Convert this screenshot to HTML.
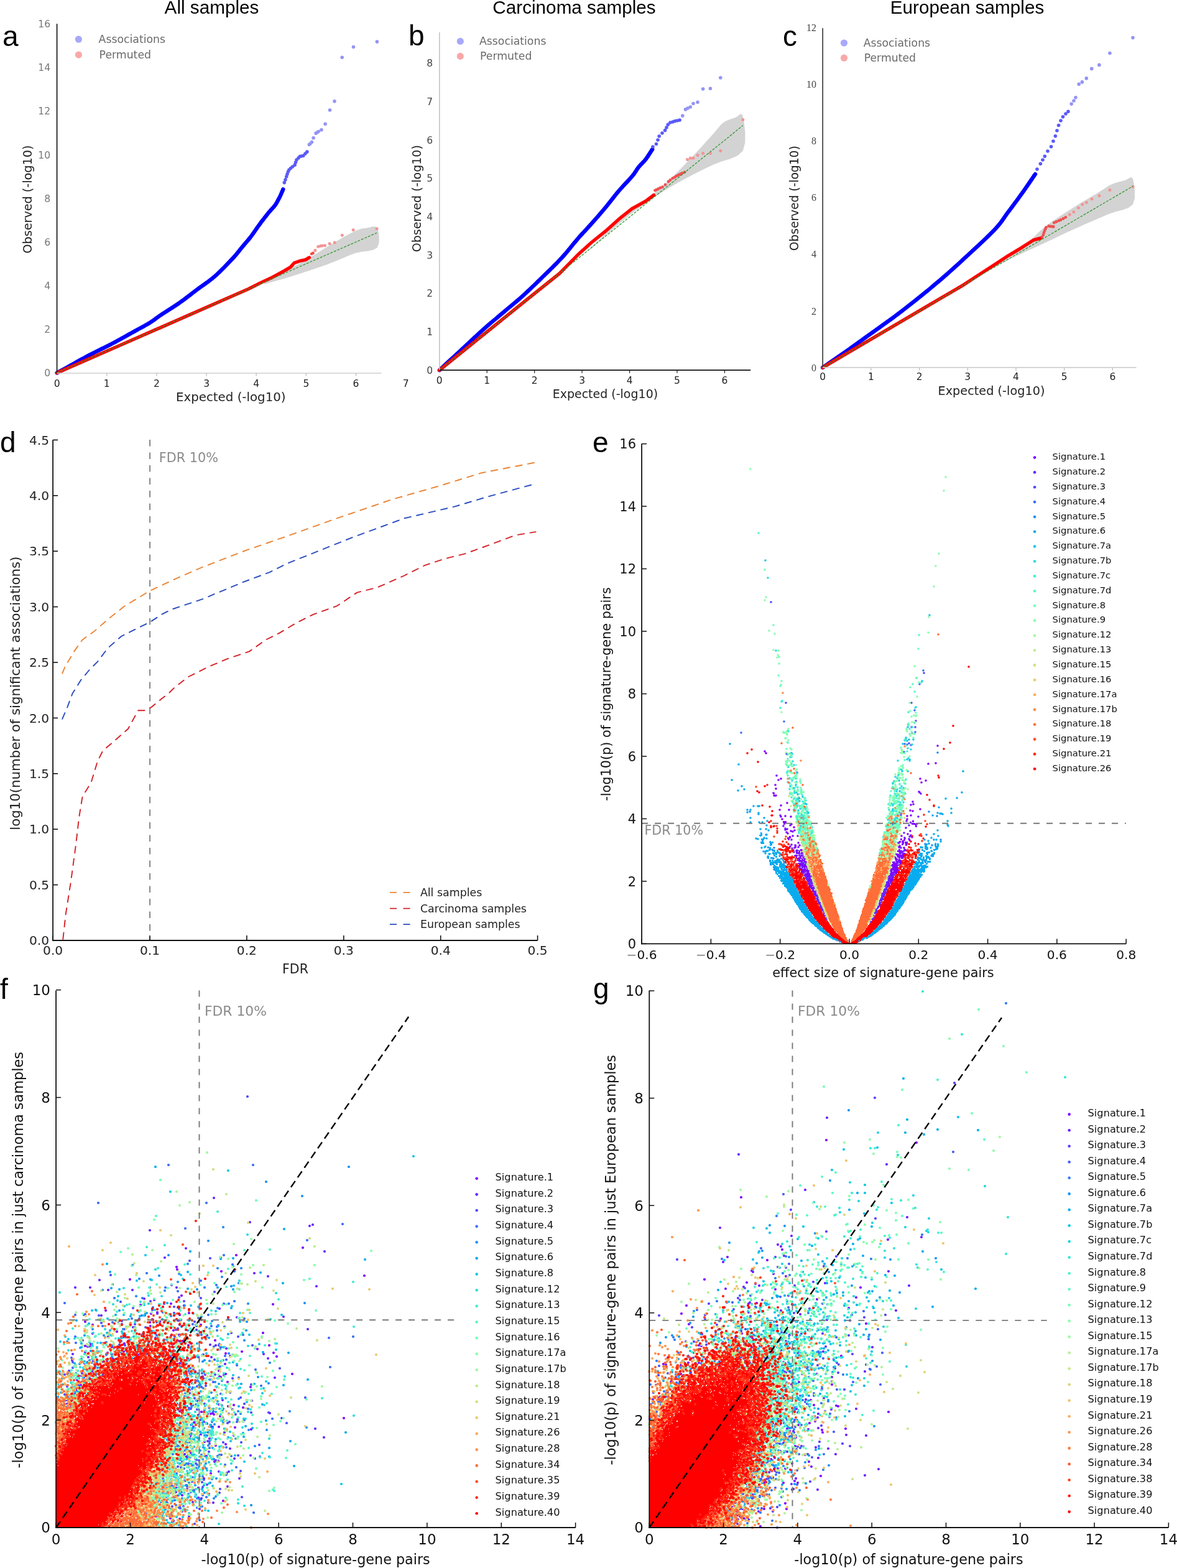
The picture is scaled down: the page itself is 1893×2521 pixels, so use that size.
<!DOCTYPE html><html><head><meta charset="utf-8"><title>Figure</title><style>html,body{margin:0;padding:0;background:#fff;}svg{display:block;}</style></head><body><svg width="1893" height="2521" viewBox="0 0 1893 2521" font-family="DejaVu Sans, sans-serif"><text x="340.5" y="22" font-size="29.7" text-anchor="middle" font-family="Liberation Sans, Arial, sans-serif">All samples</text>
<text x="923.5" y="22" font-size="29.7" text-anchor="middle" font-family="Liberation Sans, Arial, sans-serif">Carcinoma samples</text>
<text x="1555.5" y="22" font-size="29.7" text-anchor="middle" font-family="Liberation Sans, Arial, sans-serif">European samples</text>
<text x="4" y="74" font-size="46" font-family="Liberation Sans, Arial, sans-serif">a</text>
<text x="657" y="73" font-size="46" font-family="Liberation Sans, Arial, sans-serif">b</text>
<text x="1259" y="73.6" font-size="46" font-family="Liberation Sans, Arial, sans-serif">c</text>
<text x="0" y="727" font-size="46" font-family="Liberation Sans, Arial, sans-serif">d</text>
<text x="953" y="726.7" font-size="46" font-family="Liberation Sans, Arial, sans-serif">e</text>
<text x="0" y="1606" font-size="46" font-family="Liberation Sans, Arial, sans-serif">f</text>
<text x="954" y="1605" font-size="46" font-family="Liberation Sans, Arial, sans-serif">g</text>
<path d="M425 455.5 433.3 450.8 445.2 444 458.3 436.6 470 430 479.7 424.5 488.8 419.4 497.4 414.5 506 409.5 514.5 404.3 522.7 399.1 530.8 393.9 539 389 547.6 384 556.5 379 565 374.5 572.2 371 577.8 368.8 582.1 367.6 586 367 590 366.5 594.6 365.4 599.4 364.2 603.6 364.2 606.6 366.5 608.6 372.7 609.8 381.8 609.4 391.2 606.6 398.2 600.5 401.8 591.9 403.5 582 404.7 572.2 406.8 562.6 410.3 552.7 414.4 542.6 418.7 532.5 422.7 522.4 426.4 512.2 430 502.2 433.4 492.7 436.6 484.1 439.5 476 442 468.2 444.5 460 447 450.6 449.8 440.5 452.6 431.3 455.2 425 457Z" fill="#d3d3d3"/>
<path d="M91.6 599.5 92.7 598.9 94.1 598.1 95.7 597.3 97.6 596.2 99.8 595.1 102.2 593.7 105 592.2 108.1 590.5 111.7 588.5 115.7 586.2 120.2 583.8 124.9 581.1 129.8 578.4 134.7 575.7 139.6 573.1 144.2 570.6 148.7 568.3 153.2 566 157.7 563.8 162.2 561.5 166.8 559.3 171.3 557.1 175.8 554.8 180.3 552.5 184.9 550.1 189.6 547.5 194.4 544.9 199.2 542.2 203.9 539.6 208.3 537.1 212.6 534.8 216.5 532.6 220.1 530.6 223.4 528.8 226.4 527.2 229.3 525.6 232.1 524.1 234.7 522.6 237.4 521.1 240 519.5 242.5 517.9 244.8 516.3 247 514.8 249.1 513.3 251.3 511.7 253.6 510 256.1 508.2 258.9 506.3 262 504.2 265.4 502.1 269 499.8 272.7 497.4 276.5 495 280.3 492.5 284.1 490 287.8 487.5 291.4 484.9 295 482.3 298.6 479.6 302.2 476.8 305.9 474.1 309.5 471.3 313.1 468.5 316.7 465.8 320.3 463.1 323.9 460.5 327.5 458 331.1 455.4 334.8 452.8 338.4 450 342 447.2 345.6 444.1 349.3 440.8 353.2 437.1 357.1 433.3 361 429.4 364.7 425.5 368.3 421.8 371.6 418.3 374.5 415.2 377 412.5 379.1 410.1 381 407.9 382.6 405.8 384.1 403.9 385.6 402 387.2 400 388.9 397.9 390.7 395.8 392.5 393.6 394.3 391.5 396.1 389.4 398 387.3 399.8 385.1 401.6 382.9 403.4 380.6 405.2 378.2 407 375.7 408.8 373.1 410.6 370.5 412.4 367.9 414.2 365.3 416 362.8 417.8 360.3 419.6 357.8 421.5 355.3 423.4 352.9 425.3 350.4 427.2 348 429 345.7 430.7 343.6 432.3 341.6 433.8 339.8 435.3 338.1 436.6 336.6 438 335.1 439.2 333.8 440.4 332.5 441.4 331.2 442.4 330 443.2 328.8 444 327.7 444.6 326.7 445.1 325.8 445.6 324.8 446.1 323.9 446.6 323 447.1 322 447.6 321 448.2 320 448.7 319.1 449.2 318.1 449.7 317.1 450.2 316.1 450.7 315.1 451.2 314 451.7 312.8 452.3 311.5 452.9 310.1 453.5 308.7 454.1 307.4 454.6 306.2 455 305.2 455.3 304.4" fill="none" stroke="#0000ff" stroke-width="6.4" stroke-linejoin="round" stroke-linecap="round"/>
<path d="M457.3 293.6h0M459 289h0M460.7 284h0M462 280h0M463.4 276h0M465 273h0M467.5 270.5h0M470.5 268h0M474.2 265.1h0M475.5 261h0M477 257h0M480 254h0M482.4 251.5h0M485 251h0M487.8 250.2h0M491 247h0M493.9 244.1h0" stroke="#5a5af8" stroke-width="5.6" stroke-linecap="round"/>
<path d="M497.3 232.5h0M499 231h0M501.4 228.5h0M504.1 221.7h0M508.1 214.2h0M510 213h0M512.2 211.5h0M517 208.8h0M523.1 199.3h0M530.5 177h0M538 162.7h0M550.2 92.2h0M568.5 75.5h0M606.4 67.1h0" stroke="#9494f6" stroke-width="5.6" stroke-linecap="round"/>
<path d="M91.6 599.5 200 552.1 300 508.3 400 464.4 419.3 454.6 438.5 445.7 457.8 435.1 467.4 429.4 473.2 422.8 481.9 419.7 491.5 417.6 497.3 414" fill="none" stroke="#ff0000" stroke-width="5.4" stroke-linejoin="round" stroke-linecap="round"/>
<path d="M501.2 408.2h0M503.5 407h0" stroke="#f05050" stroke-width="4.8" stroke-linecap="round"/>
<path d="M506.9 402.4h0M511.8 396.6h0M515.6 395.6h0M518 395h0M522.4 394.7h0M530.1 391.8h0M538.2 389.9h0M550.3 378.3h0M568.2 369.7h0M606 367.7h0" stroke="#f49494" stroke-width="5" stroke-linecap="round"/>
<line x1="91.6" y1="599.5" x2="606" y2="374.4" stroke="#2f9a2f" stroke-width="1.3" stroke-dasharray="4 2"/>
<line x1="91.6" y1="38.3" x2="91.6" y2="600.5" stroke="#222" stroke-width="1.8"/>
<line x1="91.6" y1="600" x2="613.4" y2="600" stroke="#cfcfcf" stroke-width="1.6"/>
<line x1="171.8" y1="600" x2="171.8" y2="604.5" stroke="#bbb" stroke-width="1.2"/>
<line x1="251.9" y1="600" x2="251.9" y2="604.5" stroke="#bbb" stroke-width="1.2"/>
<line x1="332.1" y1="600" x2="332.1" y2="604.5" stroke="#bbb" stroke-width="1.2"/>
<line x1="412.2" y1="600" x2="412.2" y2="604.5" stroke="#bbb" stroke-width="1.2"/>
<line x1="492.4" y1="600" x2="492.4" y2="604.5" stroke="#bbb" stroke-width="1.2"/>
<line x1="572.5" y1="600" x2="572.5" y2="604.5" stroke="#bbb" stroke-width="1.2"/>
<text x="91.6" y="621.5" font-size="15.5" fill="#222" text-anchor="middle">0</text>
<text x="171.8" y="621.5" font-size="15.5" fill="#222" text-anchor="middle">1</text>
<text x="251.9" y="621.5" font-size="15.5" fill="#222" text-anchor="middle">2</text>
<text x="332.1" y="621.5" font-size="15.5" fill="#222" text-anchor="middle">3</text>
<text x="412.2" y="621.5" font-size="15.5" fill="#222" text-anchor="middle">4</text>
<text x="492.4" y="621.5" font-size="15.5" fill="#222" text-anchor="middle">5</text>
<text x="572.5" y="621.5" font-size="15.5" fill="#222" text-anchor="middle">6</text>
<text x="652.7" y="621.5" font-size="15.5" fill="#222" text-anchor="middle">7</text>
<text x="81" y="605.1" font-size="15.5" fill="#777" text-anchor="end">0</text>
<text x="81" y="535" font-size="15.5" fill="#777" text-anchor="end">2</text>
<text x="81" y="464.8" font-size="15.5" fill="#777" text-anchor="end">4</text>
<text x="81" y="394.7" font-size="15.5" fill="#777" text-anchor="end">6</text>
<text x="81" y="324.6" font-size="15.5" fill="#777" text-anchor="end">8</text>
<text x="81" y="254.5" font-size="15.5" fill="#777" text-anchor="end">10</text>
<text x="81" y="184.4" font-size="15.5" fill="#777" text-anchor="end">12</text>
<text x="81" y="114.2" font-size="15.5" fill="#777" text-anchor="end">14</text>
<text x="81" y="44.1" font-size="15.5" fill="#777" text-anchor="end">16</text>
<text x="371.3" y="645" font-size="19.5" fill="#222" text-anchor="middle" textLength="176.6" lengthAdjust="spacingAndGlyphs">Expected (-log10)</text>
<text x="51" y="320.6" font-size="19.5" fill="#222" text-anchor="middle" transform="rotate(-90 51 320.6)" textLength="174" lengthAdjust="spacingAndGlyphs">Observed (-log10)</text>
<circle cx="126.4" cy="63.2" r="5.6" fill="#a8a8fa"/>
<circle cx="126.4" cy="88.1" r="5.6" fill="#f8a8a8"/>
<text x="158.6" y="68.8" font-size="17.3" fill="#6a6a6a">Associations</text>
<text x="159.6" y="93.7" font-size="17.3" fill="#6a6a6a">Permuted</text>
<path d="M945 403 954.5 394 968.1 381 983.9 366.3 1000 352 1016.9 338.1 1035.3 323.6 1053.5 309.2 1069.6 295.7 1083.3 283 1095.4 270.8 1106.4 259.3 1116.5 248.7 1125.8 238.8 1134.2 229.6 1141.5 221.4 1147.9 214.3 1152.8 208.6 1156.5 204 1159.7 200.3 1163.5 197.1 1168.1 194.3 1173.1 192.2 1178 190.6 1182.3 189.2 1186.2 186.9 1189.7 184.1 1192.7 183.3 1194.8 186.9 1196.8 197.5 1198.5 213.2 1198.4 229.6 1194.8 242.5 1186.4 250.3 1174.3 255.5 1160.7 259.6 1147.9 264.4 1136.2 270.1 1124.4 275.8 1112.7 281.7 1100.9 287.9 1089.1 294.5 1077.4 301.3 1065.6 308.4 1053.9 316 1042.5 323.7 1031.4 331.7 1019.8 340.4 1007 350.5 991.1 363.8 973.1 379.4 956.5 393.9 945 404Z" fill="#d3d3d3"/>
<path d="M706.8 595.2 707.3 594.7 707.9 594.2 708.5 593.5 709.3 592.8 710.3 591.8 711.7 590.5 713.5 588.8 715.7 586.7 718.5 584.1 722 580.9 725.8 577.4 730 573.5 734.3 569.5 738.7 565.5 742.9 561.6 747 557.8 750.9 554.2 754.8 550.5 758.7 546.8 762.6 543.2 766.6 539.5 770.5 535.9 774.4 532.3 778.3 528.8 782.2 525.4 786.1 522 790 518.6 793.9 515.4 797.9 512.1 801.8 508.8 805.7 505.5 809.6 502.2 813.5 498.9 817.4 495.6 821.3 492.4 825.2 489.1 829.2 485.8 833.1 482.5 837 479.1 840.9 475.6 844.8 472 848.7 468.4 852.6 464.7 856.5 461 860.5 457.2 864.4 453.4 868.3 449.6 872.2 445.8 876.1 442 880.1 438.1 884.1 434.2 888.2 430.3 892.1 426.3 896 422.4 899.8 418.4 903.5 414.5 907.1 410.5 910.6 406.5 914 402.4 917.4 398.3 920.6 394.3 923.8 390.3 927 386.6 930 383 932.9 379.7 935.8 376.5 938.5 373.6 941.2 370.7 943.8 367.9 946.4 365 949 362.2 951.7 359.2 954.4 356.2 957.1 353.1 959.8 350 962.5 347 965.2 343.8 967.9 340.7 970.6 337.5 973.3 334.3 976 331 978.7 327.6 981.4 324.2 984.1 320.7 986.9 317.2 989.6 313.8 992.3 310.4 995 307.2 997.8 304 1000.7 300.8 1003.6 297.6 1006.5 294.5 1009.4 291.5 1012 288.6 1014.5 285.8 1016.7 283.3 1018.6 281 1020.2 278.8 1021.5 276.9 1022.8 275 1023.9 273.2 1025 271.5 1026.2 269.9 1027.5 268.2 1028.9 266.6 1030.2 265.1 1031.6 263.7 1033 262.3 1034.3 260.9 1035.7 259.5 1037 258 1038.4 256.3 1039.8 254.4 1041.4 252.2 1042.9 249.8 1044.5 247.4 1045.9 245.1 1047.3 243 1048.4 241.3 1049.2 240" fill="none" stroke="#0000ff" stroke-width="6.4" stroke-linejoin="round" stroke-linecap="round"/>
<path d="M1050 236h0M1055.5 231.5h0M1058 225h0M1060.2 219h0M1065 214h0M1069.6 209.6h0M1072 205h0M1074.3 200.2h0M1078 197h0M1082 196h0M1085.2 194.7h0M1089 194h0M1093.1 193.1h0" stroke="#5a5af8" stroke-width="5.6" stroke-linecap="round"/>
<path d="M1097.8 186.1h0M1102.5 175.9h0M1106 174h0M1110.3 172h0M1115 166.5h0M1122 164.2h0M1130.6 143h0M1142.4 142.3h0M1158.8 125h0" stroke="#9494f6" stroke-width="5.6" stroke-linecap="round"/>
<path d="M706.8 595.2 780 536.1 850 479.6 900 439.6 930 409.1 951.7 389.5 973.3 372.2 995 352.7 1016.7 335.4 1038.4 323.4 1051.4 313.7" fill="none" stroke="#ff0000" stroke-width="5.4" stroke-linejoin="round" stroke-linecap="round"/>
<path d="M1053.5 306.1h0M1056 305h0M1059 303.5h0M1062 302h0M1065.5 300.7h0M1070 297h0M1075 292h0M1078 289.5h0M1081.7 286.6h0M1085 285h0M1088 283h0M1091 281.5h0M1094 280h0M1097 278.5h0M1101.2 276.8h0" stroke="#f05050" stroke-width="4.8" stroke-linecap="round"/>
<path d="M1105.6 256.5h0M1110.3 254.2h0M1115 254.2h0M1122 249.5h0M1130.6 246.4h0M1142.4 246.4h0M1158.8 242.5h0M1194.8 192.4h0" stroke="#f49494" stroke-width="5" stroke-linecap="round"/>
<line x1="706.8" y1="595.2" x2="1194.8" y2="201.8" stroke="#2f9a2f" stroke-width="1.3" stroke-dasharray="4 2"/>
<line x1="706.8" y1="51.9" x2="706.8" y2="595.2" stroke="#c4c4c4" stroke-width="1.6"/>
<line x1="706.8" y1="595.2" x2="1207.2" y2="595.2" stroke="#111" stroke-width="1.8"/>
<line x1="783.2" y1="595.2" x2="783.2" y2="599.7" stroke="#111" stroke-width="1.2"/>
<line x1="859.7" y1="595.2" x2="859.7" y2="599.7" stroke="#111" stroke-width="1.2"/>
<line x1="936.1" y1="595.2" x2="936.1" y2="599.7" stroke="#111" stroke-width="1.2"/>
<line x1="1012.6" y1="595.2" x2="1012.6" y2="599.7" stroke="#111" stroke-width="1.2"/>
<line x1="1089" y1="595.2" x2="1089" y2="599.7" stroke="#111" stroke-width="1.2"/>
<line x1="1165.5" y1="595.2" x2="1165.5" y2="599.7" stroke="#111" stroke-width="1.2"/>
<text x="706.8" y="616.6" font-size="15.5" fill="#222" text-anchor="middle">0</text>
<text x="783.2" y="616.6" font-size="15.5" fill="#222" text-anchor="middle">1</text>
<text x="859.7" y="616.6" font-size="15.5" fill="#222" text-anchor="middle">2</text>
<text x="936.1" y="616.6" font-size="15.5" fill="#222" text-anchor="middle">3</text>
<text x="1012.6" y="616.6" font-size="15.5" fill="#222" text-anchor="middle">4</text>
<text x="1089" y="616.6" font-size="15.5" fill="#222" text-anchor="middle">5</text>
<text x="1165.5" y="616.6" font-size="15.5" fill="#222" text-anchor="middle">6</text>
<text x="696" y="600.8" font-size="15.5" fill="#444" text-anchor="end">0</text>
<text x="696" y="539.1" font-size="15.5" fill="#444" text-anchor="end">1</text>
<text x="696" y="477.4" font-size="15.5" fill="#444" text-anchor="end">2</text>
<text x="696" y="415.7" font-size="15.5" fill="#444" text-anchor="end">3</text>
<text x="696" y="354" font-size="15.5" fill="#444" text-anchor="end">4</text>
<text x="696" y="292.3" font-size="15.5" fill="#444" text-anchor="end">5</text>
<text x="696" y="230.6" font-size="15.5" fill="#444" text-anchor="end">6</text>
<text x="696" y="168.9" font-size="15.5" fill="#444" text-anchor="end">7</text>
<text x="696" y="107.2" font-size="15.5" fill="#444" text-anchor="end">8</text>
<text x="973.4" y="639.7" font-size="19.5" fill="#222" text-anchor="middle" textLength="169.5" lengthAdjust="spacingAndGlyphs">Expected (-log10)</text>
<text x="677" y="319.2" font-size="19.5" fill="#222" text-anchor="middle" transform="rotate(-90 677 319.2)" textLength="172" lengthAdjust="spacingAndGlyphs">Observed (-log10)</text>
<circle cx="740.3" cy="66.4" r="5.6" fill="#a8a8fa"/>
<circle cx="740.3" cy="90.4" r="5.6" fill="#f8a8a8"/>
<text x="771" y="72" font-size="17.3" fill="#6a6a6a">Associations</text>
<text x="772" y="96" font-size="17.3" fill="#6a6a6a">Permuted</text>
<path d="M1595 431 1603.2 426.2 1615 419.4 1628 411.4 1640 403 1650.1 394.1 1659.7 384.2 1669.5 374.2 1680.3 364.7 1692.8 355.5 1706.4 346.4 1719.9 337.8 1731.8 330.3 1741.9 324 1750.9 318.7 1759 314 1766.2 309.7 1772.3 305.8 1777.3 302.4 1781.9 299.4 1786.8 296.8 1792.5 294.6 1798.4 292.8 1804.1 291.3 1809.1 290 1813.3 288 1816.9 285.7 1819.9 284.9 1822 287.4 1823.8 295.2 1825.2 306.9 1825 319.1 1822 328.6 1815.3 334.1 1805.9 337.5 1794.8 340.3 1783.3 344.1 1771.3 349.2 1758.3 354.7 1745 360.5 1731.8 366.4 1718.9 372.3 1706.1 378.3 1693.2 384.4 1680.3 390.5 1667 396.7 1653.4 402.9 1640.3 409 1628.7 414.5 1618.2 419.7 1608.6 424.8 1600.6 429 1595 432Z" fill="#d3d3d3"/>
<path d="M1323.2 590.9 1326.2 588.8 1330.2 586.1 1334.9 582.8 1340.2 579.2 1345.7 575.3 1351.4 571.4 1356.9 567.6 1362 564 1366.9 560.6 1371.7 557.1 1376.6 553.7 1381.5 550.2 1386.4 546.7 1391.2 543.2 1396.1 539.7 1401 536.2 1405.9 532.7 1410.8 529.2 1415.7 525.7 1420.5 522.2 1425.4 518.7 1430.3 515.2 1435.2 511.6 1440 508 1444.8 504.4 1449.6 500.7 1454.4 497 1459.2 493.3 1464 489.5 1468.8 485.8 1473.6 482 1478.4 478.1 1483.2 474.2 1488 470.3 1492.9 466.4 1497.7 462.4 1502.5 458.3 1507.3 454.3 1512.2 450.2 1517 446 1521.8 441.8 1526.6 437.6 1531.3 433.4 1536 429.1 1540.8 424.8 1545.7 420.3 1550.7 415.7 1555.8 411 1561.2 406 1567 400.6 1573 395.1 1579 389.5 1584.8 384 1590.4 378.6 1595.5 373.5 1600 368.9 1603.8 364.7 1607 360.9 1609.8 357.4 1612.3 354 1614.6 350.7 1616.8 347.5 1619.1 344.2 1621.7 340.7 1624.4 337.1 1627.1 333.5 1629.8 329.9 1632.5 326.2 1635.2 322.6 1637.9 318.9 1640.6 315.2 1643.3 311.4 1646.2 307.4 1649.2 303 1652.4 298.4 1655.5 293.9 1658.4 289.6 1661.1 285.7 1663.3 282.4 1665 280" fill="none" stroke="#0000ff" stroke-width="6.4" stroke-linejoin="round" stroke-linecap="round"/>
<path d="M1668 272h0M1673.4 263.3h0M1677 257h0M1680.3 251.3h0M1685 243h0M1690.6 235.8h0M1694 227h0M1697.4 218.7h0M1700 210h0M1702.6 201.5h0M1706 194h0M1709.5 187.7h0M1714 183h0M1718 179.2h0" stroke="#5a5af8" stroke-width="5.6" stroke-linecap="round"/>
<path d="M1723.2 167.1h0M1727 162h0M1730 156.8h0M1735.2 135.3h0M1740.4 131.9h0M1747.3 125.9h0M1755.8 110.4h0M1767.9 104.4h0M1785 85.5h0M1822 60.6h0" stroke="#9494f6" stroke-width="5.6" stroke-linecap="round"/>
<path d="M1323.2 590.9 1400 545.8 1480 498.9 1550 457.8 1600 425.2 1621.7 411.1 1643.3 398.1 1661.8 386.2 1673.7 382.9" fill="none" stroke="#ff0000" stroke-width="5.4" stroke-linejoin="round" stroke-linecap="round"/>
<path d="M1676 381h0M1678 377.5h0M1679 374h0M1680.2 371h0M1681.5 368h0M1682.4 365.6h0M1686.7 363.4h0M1689 364h0M1692 364.2h0M1694.3 364.5h0M1695.4 358h0M1699 356.5h0M1702.9 354.8h0M1706 353.5h0M1710 351.5h0M1713.8 349.4h0" stroke="#f05050" stroke-width="4.8" stroke-linecap="round"/>
<path d="M1720.3 345h0M1726.8 340.7h0M1734.4 334.2h0M1740.9 328.8h0M1747.4 325.5h0M1756 320.1h0M1768 314.7h0M1785 305.4h0M1822 300.3h0" stroke="#f49494" stroke-width="5" stroke-linecap="round"/>
<line x1="1323.2" y1="590.9" x2="1822" y2="299.4" stroke="#2f9a2f" stroke-width="1.3" stroke-dasharray="4 2"/>
<line x1="1323.2" y1="45.2" x2="1323.2" y2="591" stroke="#3a3a3a" stroke-width="1.7"/>
<line x1="1323.2" y1="590.9" x2="1827.6" y2="590.9" stroke="#cfcfcf" stroke-width="1.6"/>
<line x1="1400.9" y1="590.9" x2="1400.9" y2="595.4" stroke="#bbb" stroke-width="1.2"/>
<line x1="1478.6" y1="590.9" x2="1478.6" y2="595.4" stroke="#bbb" stroke-width="1.2"/>
<line x1="1556.3" y1="590.9" x2="1556.3" y2="595.4" stroke="#bbb" stroke-width="1.2"/>
<line x1="1634" y1="590.9" x2="1634" y2="595.4" stroke="#bbb" stroke-width="1.2"/>
<line x1="1711.7" y1="590.9" x2="1711.7" y2="595.4" stroke="#bbb" stroke-width="1.2"/>
<line x1="1789.4" y1="590.9" x2="1789.4" y2="595.4" stroke="#bbb" stroke-width="1.2"/>
<text x="1323.2" y="611.4" font-size="15.5" fill="#222" text-anchor="middle">0</text>
<text x="1400.9" y="611.4" font-size="15.5" fill="#222" text-anchor="middle">1</text>
<text x="1478.6" y="611.4" font-size="15.5" fill="#222" text-anchor="middle">2</text>
<text x="1556.3" y="611.4" font-size="15.5" fill="#222" text-anchor="middle">3</text>
<text x="1634" y="611.4" font-size="15.5" fill="#222" text-anchor="middle">4</text>
<text x="1711.7" y="611.4" font-size="15.5" fill="#222" text-anchor="middle">5</text>
<text x="1789.4" y="611.4" font-size="15.5" fill="#222" text-anchor="middle">6</text>
<text x="1313" y="596.7" font-size="16" fill="#444" text-anchor="end" font-family="Liberation Serif, serif">0</text>
<text x="1313" y="505.5" font-size="16" fill="#444" text-anchor="end" font-family="Liberation Serif, serif">2</text>
<text x="1313" y="414.3" font-size="16" fill="#444" text-anchor="end" font-family="Liberation Serif, serif">4</text>
<text x="1313" y="323.1" font-size="16" fill="#444" text-anchor="end" font-family="Liberation Serif, serif">6</text>
<text x="1313" y="231.9" font-size="16" fill="#444" text-anchor="end" font-family="Liberation Serif, serif">8</text>
<text x="1313" y="140.7" font-size="16" fill="#444" text-anchor="end" font-family="Liberation Serif, serif">10</text>
<text x="1313" y="49.5" font-size="16" fill="#444" text-anchor="end" font-family="Liberation Serif, serif">12</text>
<text x="1594.5" y="634.9" font-size="19.5" fill="#222" text-anchor="middle" textLength="172" lengthAdjust="spacingAndGlyphs">Expected (-log10)</text>
<text x="1284.5" y="318.8" font-size="19.5" fill="#222" text-anchor="middle" transform="rotate(-90 1284.5 318.8)" textLength="169" lengthAdjust="spacingAndGlyphs">Observed (-log10)</text>
<circle cx="1357.5" cy="69" r="5.6" fill="#a8a8fa"/>
<circle cx="1357.5" cy="93.2" r="5.6" fill="#f8a8a8"/>
<text x="1388.7" y="74.6" font-size="17.3" fill="#6a6a6a">Associations</text>
<text x="1389.7" y="98.8" font-size="17.3" fill="#6a6a6a">Permuted</text>
<line x1="241.1" y1="707" x2="241.1" y2="1512" stroke="#7a7a7a" stroke-width="1.8" stroke-dasharray="10.5 10"/>
<text x="255.7" y="742.7" font-size="20.8" fill="#8a8a8a">FDR 10%</text>
<path d="M100.2 1082.6 105 1071 111.1 1061 119.2 1047.4 132.7 1028.4 151.7 1014.9 173.4 995.9 200.5 974.3 241.1 949.9 281.8 930.9 325.1 912 395.5 884.9 466 860.5 541.8 833.4 628.5 803.6 704.4 781.9 774.8 760.2 858.8 744" fill="none" stroke="#ea8434" stroke-width="1.9" stroke-linejoin="round" stroke-linecap="round" stroke-dasharray="10.5 9.5"/>
<path d="M101.3 1510 105.7 1470 113.8 1418.6 121.9 1359 127.3 1313 132.7 1280.4 146.3 1258.7 157.1 1223.5 165.3 1207.2 184.2 1191 205.9 1172 222.2 1142.2 233 1142.2 243.8 1136.8 260.1 1123.3 270.9 1115.1 281.8 1104.3 303.4 1088 335.9 1071.8 368.4 1058.2 401 1047.4 428 1028.4 449.7 1017.6 476.8 1001.4 503.9 987.8 541.8 974.3 574.3 952.6 606.9 944.5 650.2 925.5 682.7 909.2 715.2 898.4 747.7 890.3 785.6 876.7 829 860.5 861.5 855.1" fill="none" stroke="#d42228" stroke-width="1.9" stroke-linejoin="round" stroke-linecap="round" stroke-dasharray="10.5 9.5"/>
<path d="M100.2 1155.8 108.4 1136.8 116.5 1115.1 130 1093.5 143.6 1077.2 157.1 1063.7 173.4 1042 195.1 1023 222.2 1009.5 241.1 1000.3 260.1 987.8 276.3 979.7 325.1 963.4 390.1 936.3 433.5 920.1 460.6 906.5 487.6 895.7 568.9 863.2 650.2 833.4 731.5 814.4 785.6 798.2 856.1 779.2" fill="none" stroke="#2a4cc0" stroke-width="1.9" stroke-linejoin="round" stroke-linecap="round" stroke-dasharray="10.5 9.5"/>
<line x1="85.1" y1="707.2" x2="85.1" y2="1512.9" stroke="#111" stroke-width="1.8"/>
<line x1="84.2" y1="1512" x2="864.6" y2="1512" stroke="#111" stroke-width="1.8"/>
<line x1="85.1" y1="1512" x2="93.1" y2="1512" stroke="#111" stroke-width="1.6"/>
<text x="79" y="1519.2" font-size="20.2" fill="#222" text-anchor="end">0.0</text>
<line x1="85.1" y1="1422.6" x2="93.1" y2="1422.6" stroke="#111" stroke-width="1.6"/>
<text x="79" y="1429.8" font-size="20.2" fill="#222" text-anchor="end">0.5</text>
<line x1="85.1" y1="1333.2" x2="93.1" y2="1333.2" stroke="#111" stroke-width="1.6"/>
<text x="79" y="1340.4" font-size="20.2" fill="#222" text-anchor="end">1.0</text>
<line x1="85.1" y1="1243.8" x2="93.1" y2="1243.8" stroke="#111" stroke-width="1.6"/>
<text x="79" y="1251" font-size="20.2" fill="#222" text-anchor="end">1.5</text>
<line x1="85.1" y1="1154.4" x2="93.1" y2="1154.4" stroke="#111" stroke-width="1.6"/>
<text x="79" y="1161.6" font-size="20.2" fill="#222" text-anchor="end">2.0</text>
<line x1="85.1" y1="1065" x2="93.1" y2="1065" stroke="#111" stroke-width="1.6"/>
<text x="79" y="1072.2" font-size="20.2" fill="#222" text-anchor="end">2.5</text>
<line x1="85.1" y1="975.6" x2="93.1" y2="975.6" stroke="#111" stroke-width="1.6"/>
<text x="79" y="982.8" font-size="20.2" fill="#222" text-anchor="end">3.0</text>
<line x1="85.1" y1="886.2" x2="93.1" y2="886.2" stroke="#111" stroke-width="1.6"/>
<text x="79" y="893.4" font-size="20.2" fill="#222" text-anchor="end">3.5</text>
<line x1="85.1" y1="796.8" x2="93.1" y2="796.8" stroke="#111" stroke-width="1.6"/>
<text x="79" y="804" font-size="20.2" fill="#222" text-anchor="end">4.0</text>
<line x1="85.1" y1="707.4" x2="93.1" y2="707.4" stroke="#111" stroke-width="1.6"/>
<text x="79" y="714.6" font-size="20.2" fill="#222" text-anchor="end">4.5</text>
<line x1="85.1" y1="1512" x2="85.1" y2="1504" stroke="#111" stroke-width="1.6"/>
<text x="85.1" y="1534.8" font-size="20.2" fill="#222" text-anchor="middle">0.0</text>
<line x1="241" y1="1512" x2="241" y2="1504" stroke="#111" stroke-width="1.6"/>
<text x="241" y="1534.8" font-size="20.2" fill="#222" text-anchor="middle">0.1</text>
<line x1="396.9" y1="1512" x2="396.9" y2="1504" stroke="#111" stroke-width="1.6"/>
<text x="396.9" y="1534.8" font-size="20.2" fill="#222" text-anchor="middle">0.2</text>
<line x1="552.8" y1="1512" x2="552.8" y2="1504" stroke="#111" stroke-width="1.6"/>
<text x="552.8" y="1534.8" font-size="20.2" fill="#222" text-anchor="middle">0.3</text>
<line x1="708.7" y1="1512" x2="708.7" y2="1504" stroke="#111" stroke-width="1.6"/>
<text x="708.7" y="1534.8" font-size="20.2" fill="#222" text-anchor="middle">0.4</text>
<line x1="864.6" y1="1512" x2="864.6" y2="1504" stroke="#111" stroke-width="1.6"/>
<text x="864.6" y="1534.8" font-size="20.2" fill="#222" text-anchor="middle">0.5</text>
<text x="475" y="1564.5" font-size="20.5" fill="#222" text-anchor="middle">FDR</text>
<text x="32" y="1114.7" font-size="21" fill="#222" text-anchor="middle" transform="rotate(-90 32 1114.7)" textLength="440" lengthAdjust="spacingAndGlyphs">log10(number of significant associations)</text>
<line x1="627" y1="1434.9" x2="660" y2="1434.9" stroke="#ea8434" stroke-width="1.9" stroke-dasharray="11 10.5"/>
<text x="675.9" y="1441.2" font-size="17.4" fill="#222">All samples</text>
<line x1="627" y1="1460.6" x2="660" y2="1460.6" stroke="#d42228" stroke-width="1.9" stroke-dasharray="11 10.5"/>
<text x="675.9" y="1466.9" font-size="17.4" fill="#222">Carcinoma samples</text>
<line x1="627" y1="1486.1" x2="660" y2="1486.1" stroke="#2a4cc0" stroke-width="1.9" stroke-dasharray="11 10.5"/>
<text x="675.9" y="1492.4" font-size="17.4" fill="#222">European samples</text>
<path d="M1245 1275.5h1M1244 1276.5h2M1244 1278.5h5M1245 1279.5h3M1246 1280.5h1M1467 1319.5h3M1259 1320.5h6m202 0h3M1259 1321.5h6m198 0h3m1 0h3M1259 1322.5h6m198 0h3M1260 1323.5h3m200 0h9m1 0h3M1260 1324.5h3m203 0h10M1260 1325.5h3m203 0h10M1471 1326.5h3M1472 1327.5h3M1472 1328.5h3M1472 1329.5h3M1269 1344.5h3M1269 1345.5h3M1266 1346.5h6m182 0h1M1266 1347.5h6m182 0h2M1266 1348.5h4m178 0h3m3 0h3M1267 1349.5h3m2 0h2m174 0h3m2 0h3M1267 1350.5h3m2 0h1m175 0h3m2 0h3M1451 1351.5h5M1446 1352.5h3m1 0h4M1446 1353.5h3m1 0h4m1 0h5M1446 1354.5h3m1 0h4m1 0h5M1446 1355.5h1m4 0h3m1 0h5M1446 1356.5h1m3 0h4m2 0h4M1450 1357.5h3m3 0h4M1280 1358.5h1m169 0h3m3 0h3M1279 1359.5h2m167 0h1m7 0h3M1278 1360.5h3M1278 1361.5h3m2 0h2M1278 1362.5h3m2 0h1m162 0h2M1279 1363.5h1m165 0h3M1287 1365.5h3m155 0h3M1287 1366.5h4m154 0h3m6 0h1M1285 1367.5h5m153 0h8M1285 1368.5h2m1 0h2m153 0h10m3 0h1M1280 1369.5h2m3 0h2m156 0h10M1280 1370.5h7m1 0h4m154 0h7M1280 1371.5h7m1 0h4m159 0h5M1280 1372.5h5m3 0h4m148 0h4m7 0h6M1288 1373.5h1m151 0h6m5 0h4M1278 1374.5h5m1 0h1m3 0h2m151 0h13M1277 1375.5h6m1 0h6m152 0h12M1277 1376.5h6m1 0h6m3 0h1m148 0h12M1280 1377.5h2m4 0h3m1 0h4m144 0h3m2 0h12M1280 1378.5h2m2 0h5m1 0h4m145 0h3m1 0h3m3 0h6M1280 1379.5h9m3 0h2m145 0h3m3 0h1m3 0h4M1282 1380.5h14m143 0h5m1 0h1m3 0h4M1282 1381.5h5m2 0h3m1 0h3m143 0h5m1 0h3M1282 1382.5h6m1 0h6m145 0h9M1281 1383.5h14m145 0h3m1 0h7M1283 1384.5h12m145 0h10M1285 1385.5h6m2 0h2m140 0h5m1 0h9M1288 1386.5h1m146 0h5m1 0h2m3 0h4M1283 1387.5h6m6 0h1m139 0h8m3 0h4M1283 1388.5h6m6 0h2m139 0h7m4 0h3M1285 1389.5h6m3 0h3m137 0h9m3 0h4M1285 1390.5h6m3 0h3m137 0h12M1285 1391.5h12m135 0h14M1285 1392.5h1m3 0h9m135 0h11M1284 1393.5h2m3 0h9m137 0h9m2 0h1M1284 1394.5h2m7 0h6m136 0h10m1 0h1M1285 1395.5h5m3 0h2m2 0h2m136 0h10M1285 1396.5h5m3 0h6m134 0h12M1288 1397.5h9m1 0h2m132 0h13M1288 1398.5h12m132 0h15M1288 1399.5h14m130 0h15M1288 1400.5h14m129 0h4m2 0h7M1288 1401.5h6m3 0h5m130 0h11M1288 1402.5h6m3 0h5m130 0h11M1297 1403.5h5m130 0h11M1294 1404.5h10m127 0h5m3 0h4M1294 1405.5h9m128 0h5M1292 1406.5h11m130 0h3M1293 1407.5h1m3 0h6m130 0h2M1293 1408.5h1m3 0h6m130 0h2M1298 1409.5h5M1298 1410.5h1m3 0h1m126 0h3m3 0h3M1298 1411.5h1m3 0h2m126 0h2m3 0h3M1302 1412.5h2m126 0h7M1299 1413.5h7m124 0h7M1299 1414.5h7m125 0h6M1297 1415.5h7m127 0h6M1298 1416.5h5m128 0h5M1302 1417.5h1m131 0h2" stroke="#8000ff" stroke-width="1" shape-rendering="crispEdges"/>
<path d="M1291 1386.5h1M1290 1387.5h3M1289 1388.5h5M1291 1389.5h3M1291 1390.5h3M1436 1404.5h2M1436 1405.5h3M1431 1406.5h2m3 0h4M1296 1407.5h1m133 0h3m2 0h5M1295 1408.5h2m133 0h3m2 0h3M1294 1409.5h4m132 0h8M1295 1410.5h3m1 0h3m130 0h3M1295 1411.5h3m1 0h3m127 0h1m2 0h3M1295 1412.5h7m126 0h2M1296 1413.5h3m129 0h2M1296 1414.5h3m128 0h4M1304 1415.5h2m122 0h3M1303 1416.5h4m120 0h4M1299 1417.5h3m1 0h4m118 0h9M1300 1418.5h7m118 0h5m1 0h3M1300 1419.5h8m117 0h4m2 0h3M1301 1420.5h7m117 0h4m3 0h1M1301 1421.5h5m1 0h1m116 0h6m2 0h1M1301 1422.5h4m119 0h6M1301 1423.5h3m120 0h8M1301 1424.5h6m1 0h1m115 0h4m1 0h2M1304 1425.5h3m1 0h2m119 0h1M1303 1426.5h7m114 0h3M1303 1427.5h3m1 0h4m113 0h3M1304 1428.5h2m1 0h4m111 0h5M1304 1429.5h7m110 0h7M1306 1430.5h3m112 0h6M1306 1431.5h3m112 0h6M1309 1432.5h3m108 0h5M1307 1433.5h5m108 0h6M1307 1434.5h5m108 0h6M1308 1435.5h4m107 0h7M1309 1436.5h3m106 0h7M1309 1437.5h3m2 0h1m104 0h6M1309 1438.5h6m104 0h5M1311 1439.5h5m101 0h7M1311 1440.5h5m101 0h6M1311 1441.5h5m101 0h5M1312 1442.5h1m1 0h3m100 0h5M1312 1443.5h5m99 0h5M1312 1444.5h5m99 0h5M1313 1445.5h4m98 0h6M1313 1446.5h5m97 0h6M1313 1447.5h5m96 0h6M1314 1448.5h4m96 0h5M1314 1449.5h4m96 0h2m1 0h2M1315 1450.5h5m94 0h4M1316 1451.5h4m93 0h5M1316 1452.5h4m93 0h4M1316 1453.5h4m93 0h4M1318 1454.5h3m92 0h3M1318 1455.5h3m92 0h3M1318 1456.5h4m89 0h5M1318 1457.5h4m89 0h5M1319 1458.5h4m88 0h3M1319 1459.5h4m87 0h4M1320 1460.5h3m87 0h3M1320 1461.5h4m87 0h1M1321 1462.5h3M1321 1463.5h3M1322 1464.5h1" stroke="#6826fe" stroke-width="1" shape-rendering="crispEdges"/>
<path d="M1223 1338.5h2M1223 1339.5h3M1223 1340.5h3M1223 1341.5h3M1221 1342.5h5M1221 1343.5h5M1222 1344.5h2M1228 1346.5h1M1228 1347.5h2M1224 1348.5h7M1224 1349.5h5M1224 1350.5h5M1225 1351.5h3M1225 1352.5h3m10 0h2M1223 1353.5h5m9 0h3m1 0h3M1223 1354.5h6m8 0h7M1223 1355.5h6m9 0h6m260 0h2M1224 1356.5h5m9 0h4m247 0h3m1 0h1m9 0h3m1 0h3M1238 1357.5h4m247 0h3m1 0h2m8 0h3m1 0h3M1238 1358.5h4m246 0h4m11 0h3m1 0h3M1238 1359.5h3m246 0h4m12 0h3m1 0h3M1487 1360.5h4m12 0h7M1234 1361.5h3m245 0h3m2 0h5m12 0h6M1234 1362.5h6m241 0h4m2 0h6m11 0h5M1234 1363.5h6m240 0h5m2 0h6m12 0h4M1237 1364.5h3m247 0h6m11 0h5M1236 1365.5h4m242 0h3m3 0h5m8 0h8M1236 1366.5h4m2 0h5m2 0h3m230 0h3m4 0h3m9 0h6M1233 1367.5h6m3 0h5m2 0h3m230 0h6m11 0h1m1 0h3M1234 1368.5h2m6 0h5m2 0h3m233 0h3m10 0h2M1235 1369.5h1m8 0h3m2 0h4m226 0h1m5 0h3m3 0h5m1 0h3M1242 1370.5h3m1 0h9m224 0h1m9 0h7m5 0h3M1242 1371.5h14m223 0h5m5 0h7m5 0h3M1242 1372.5h8m2 0h4m223 0h5m5 0h4m5 0h6M1243 1373.5h3m1 0h3m3 0h3m221 0h7m6 0h3m5 0h5M1237 1374.5h1m6 0h6m227 0h7m6 0h3m5 0h5M1244 1375.5h3m6 0h2m222 0h7m4 0h3m8 0h3M1235 1376.5h2m7 0h6m3 0h1m226 0h4m4 0h6m5 0h3M1234 1377.5h3m10 0h3m3 0h2m220 0h3m2 0h3m1 0h3m1 0h7m4 0h3M1235 1378.5h2m2 0h4m4 0h3m225 0h8m1 0h3m2 0h7M1236 1379.5h1m2 0h4m12 0h3m217 0h6m3 0h3m2 0h8M1235 1380.5h2m2 0h4m6 0h3m3 0h3m216 0h9m1 0h3m2 0h3m1 0h4M1249 1381.5h10m215 0h13m1 0h3m3 0h3M1237 1382.5h3m1 0h3m4 0h7m3 0h3m214 0h3m2 0h11m3 0h3M1237 1383.5h3m1 0h3m1 0h10m3 0h3m214 0h5m2 0h3m2 0h4M1237 1384.5h3m1 0h3m1 0h12m2 0h3m210 0h3m2 0h3m2 0h3m2 0h10M1237 1385.5h4m1 0h15m2 0h3m210 0h3m1 0h4m2 0h3m2 0h3m1 0h6M1238 1386.5h20m1 0h3m210 0h14m1 0h3m1 0h6M1238 1387.5h13m1 0h6m2 0h3m209 0h14m1 0h5M1238 1388.5h7m1 0h5m3 0h8m209 0h7m1 0h7m3 0h3M1238 1389.5h3m1 0h3m3 0h3m2 0h9m208 0h8m2 0h4m5 0h3M1238 1390.5h3m1 0h5m1 0h3m2 0h10m206 0h3m1 0h4m1 0h5m2 0h5M1244 1391.5h3m6 0h12m207 0h18M1244 1392.5h5m4 0h13m203 0h24M1243 1393.5h9m1 0h11m205 0h11m1 0h12M1243 1394.5h21m205 0h11m1 0h12M1243 1395.5h10m2 0h9m205 0h3m1 0h5m3 0h10M1245 1396.5h8m2 0h4m1 0h3m1 0h2m201 0h6m2 0h3m1 0h9M1245 1397.5h8m2 0h12m200 0h21M1245 1398.5h9m2 0h11m199 0h22M1246 1399.5h10m1 0h10m198 0h23M1246 1400.5h16m1 0h3m1 0h1m197 0h23M1247 1401.5h15m1 0h5m197 0h23M1247 1402.5h3m1 0h17m196 0h19m1 0h3M1247 1403.5h3m1 0h18m193 0h17m1 0h3M1247 1404.5h24m191 0h3m1 0h15M1249 1405.5h3m2 0h16m192 0h22M1249 1406.5h3m2 0h16m192 0h22M1251 1407.5h19m192 0h22M1251 1408.5h8m1 0h11m190 0h21M1251 1409.5h21m189 0h21M1253 1410.5h21m185 0h23M1253 1411.5h22m184 0h21M1253 1412.5h22m184 0h21M1256 1413.5h20m183 0h20M1255 1414.5h21m183 0h20M1255 1415.5h21m182 0h20M1255 1416.5h21m181 0h20M1256 1417.5h20m181 0h20M1259 1418.5h17m180 0h20M1258 1419.5h19m178 0h20M1258 1420.5h19m178 0h20M1258 1421.5h20m177 0h19M1261 1422.5h19m175 0h19M1261 1423.5h19m174 0h19M1261 1424.5h19m173 0h18M1261 1425.5h19m173 0h18M1263 1426.5h18m171 0h19M1264 1427.5h17m171 0h18M1265 1428.5h17m169 0h18M1266 1429.5h16m169 0h18M1266 1430.5h17m168 0h17M1266 1431.5h17m167 0h16M1266 1432.5h17m167 0h16M1267 1433.5h18m164 0h15M1268 1434.5h17m162 0h17M1269 1435.5h16m162 0h17M1270 1436.5h16m160 0h17M1270 1437.5h16m160 0h17M1271 1438.5h15m160 0h16M1272 1439.5h16m158 0h15M1272 1440.5h16m157 0h15M1274 1441.5h14m156 0h16M1274 1442.5h15m155 0h15M1274 1443.5h16m154 0h15M1275 1444.5h15m153 0h15M1276 1445.5h15m151 0h16M1276 1446.5h16m148 0h17M1277 1447.5h15m148 0h17M1277 1448.5h16m147 0h15M1278 1449.5h15m146 0h16M1278 1450.5h15m146 0h16M1279 1451.5h14m146 0h15M1280 1452.5h14m144 0h16M1280 1453.5h15m143 0h15M1281 1454.5h15m141 0h15M1282 1455.5h15m140 0h15M1283 1456.5h14m139 0h15M1283 1457.5h14m139 0h14M1284 1458.5h14m137 0h14M1284 1459.5h15m136 0h14M1285 1460.5h14m136 0h13M1285 1461.5h15m133 0h15M1286 1462.5h14m133 0h13M1287 1463.5h14m131 0h13M1288 1464.5h13m130 0h14M1288 1465.5h14m129 0h14M1288 1466.5h16m126 0h13M1290 1467.5h14m125 0h14M1291 1468.5h13m124 0h14M1292 1469.5h13m123 0h13M1292 1470.5h14m121 0h14M1293 1471.5h13m120 0h15M1294 1472.5h14m118 0h13M1295 1473.5h13m117 0h14M1296 1474.5h13m115 0h14M1296 1475.5h13m114 0h13M1298 1476.5h12m113 0h13M1299 1477.5h12m111 0h13M1300 1478.5h12m109 0h13M1300 1479.5h12m108 0h13M1301 1480.5h12m107 0h12M1302 1481.5h12m106 0h11M1303 1482.5h12m104 0h10M1304 1483.5h12m102 0h11M1305 1484.5h12m99 0h12M1306 1485.5h11m99 0h11M1308 1486.5h10m97 0h11M1309 1487.5h10m95 0h10M1310 1488.5h10m93 0h10M1310 1489.5h11m91 0h11M1312 1490.5h10m89 0h10M1314 1491.5h9m87 0h10M1314 1492.5h10m85 0h10M1315 1493.5h9m84 0h10M1317 1494.5h9m81 0h9M1317 1495.5h9m80 0h9M1319 1496.5h9m77 0h8M1320 1497.5h9m75 0h9M1322 1498.5h8m73 0h8M1323 1499.5h9m70 0h8M1324 1500.5h8m69 0h8M1326 1501.5h7m67 0h7M1327 1502.5h7m65 0h6M1329 1503.5h6m63 0h7M1330 1504.5h6m60 0h7M1332 1505.5h6m57 0h7M1333 1506.5h6m55 0h6M1335 1507.5h5m53 0h5M1336 1508.5h6m50 0h4M1338 1509.5h4m51 0h2M1339 1510.5h2" stroke="#08acee" stroke-width="1" shape-rendering="crispEdges"/>
<path d="M1293 1283.5h1M1293 1284.5h2M1293 1286.5h3M1290 1287.5h6M1290 1288.5h6M1291 1289.5h4M1293 1290.5h1M1298 1303.5h2M1298 1304.5h3M1293 1305.5h2m3 0h3M1292 1306.5h3m3 0h3M1292 1307.5h3m1 0h5M1296 1308.5h5M1292 1309.5h3m1 0h3M1282 1310.5h1m9 0h3m2 0h3M1282 1311.5h2m8 0h3m2 0h3M1282 1312.5h3m12 0h5M1279 1313.5h3m1 0h3m11 0h3M1279 1314.5h3m4 0h1m10 0h3M1279 1315.5h3m13 0h3M1280 1316.5h3m13 0h2M1280 1317.5h3m1 0h2M1281 1318.5h2m1 0h1M1304 1320.5h1M1300 1321.5h1m3 0h1M1300 1322.5h6M1300 1323.5h6M1299 1324.5h3m1 0h3M1300 1325.5h2M1301 1326.5h1M1306 1333.5h1M1305 1334.5h3M1305 1335.5h4M1306 1336.5h3M1306 1337.5h3M1307 1338.5h1" stroke="#72febb" stroke-width="1" shape-rendering="crispEdges"/>
<path d="M1450 1206.5h1M1450 1207.5h2M1450 1208.5h3M1265 1209.5h1m181 0h3M1264 1210.5h2m181 0h6M1263 1211.5h3m1 0h3m178 0h4M1265 1212.5h5m180 0h1M1265 1213.5h4M1265 1214.5h3M1278 1245.5h3M1278 1246.5h4M1277 1247.5h5M1277 1248.5h5M1277 1249.5h5M1280 1250.5h3M1280 1251.5h3M1280 1252.5h2M1275 1266.5h1M1274 1267.5h3M1274 1268.5h3M1274 1269.5h6m7 0h3M1276 1270.5h4m4 0h1m2 0h3M1276 1271.5h3m4 0h2m2 0h3M1276 1272.5h2m4 0h3m3 0h6M1281 1273.5h3m4 0h6M1287 1274.5h7m148 0h3M1284 1275.5h6m150 0h8M1284 1276.5h6m150 0h8M1285 1277.5h2m153 0h3m1 0h4M1444 1278.5h4M1439 1279.5h2m3 0h4M1440 1280.5h1m4 0h3M1279 1281.5h1m3 0h3M1278 1282.5h2m3 0h3m156 0h3M1277 1283.5h5m5 0h2m154 0h2M1279 1284.5h3m5 0h3m152 0h3M1278 1285.5h7m2 0h3M1278 1286.5h3m1 0h5m154 0h3M1278 1287.5h3m1 0h5m154 0h6M1278 1288.5h3m3 0h3m154 0h6M1278 1289.5h3m160 0h6M1279 1290.5h4m158 0h3M1441 1291.5h3M1442 1293.5h3M1285 1294.5h6m151 0h3M1285 1295.5h7m149 0h4M1285 1296.5h7m149 0h5M1441 1297.5h5M1285 1298.5h5m153 0h6M1285 1299.5h5m152 0h2m1 0h4M1285 1300.5h5m152 0h2m1 0h6M1440 1301.5h4m1 0h6M1440 1302.5h2m6 0h3M1291 1303.5h1m151 0h5M1288 1304.5h5m150 0h5M1283 1305.5h3m2 0h3m152 0h5m2 0h1M1282 1306.5h9m150 0h6m3 0h1M1282 1307.5h9m150 0h6M1285 1308.5h6m150 0h6M1288 1309.5h3m155 0h3M1445 1310.5h4M1447 1311.5h4M1443 1312.5h1m3 0h4M1443 1313.5h1m3 0h4M1294 1314.5h1m146 0h3m3 0h3M1287 1315.5h1m159 0h2M1286 1316.5h2m155 0h3M1286 1317.5h3m6 0h3m141 0h7M1290 1318.5h8m132 0h2m7 0h7M1285 1319.5h3m2 0h8m141 0h6M1286 1320.5h10m133 0h3m8 0h1m3 0h1M1286 1321.5h14m129 0h6M1286 1322.5h5m1 0h4m133 0h6M1284 1323.5h7m2 0h3m133 0h6M1289 1324.5h4m2 0h1m131 0h1m1 0h6m11 0h1M1289 1325.5h4m137 0h1m7 0h7m1 0h2M1289 1326.5h4m137 0h1m7 0h7m1 0h3M1286 1327.5h1m10 0h2m136 0h10M1286 1328.5h1m1 0h3m4 0h5m135 0h6m3 0h3M1285 1329.5h6m4 0h5m135 0h6m2 0h4M1283 1330.5h3m1 0h4m4 0h3m141 0h2m2 0h4M1283 1331.5h3m1 0h4m4 0h3m136 0h2m7 0h3M1283 1332.5h3m1 0h3m5 0h3m3 0h1m132 0h2m6 0h3M1287 1333.5h3m5 0h3m3 0h2m131 0h5m3 0h5M1287 1334.5h3m5 0h8m131 0h5m1 0h7M1300 1335.5h3m129 0h9m4 0h2M1298 1336.5h5m127 0h11m4 0h1M1298 1337.5h6m126 0h11M1302 1338.5h1m127 0h3m2 0h6M1303 1339.5h1m127 0h1m6 0h3M1302 1340.5h1m135 0h3M1297 1341.5h2m1 0h3m4 0h2m129 0h3m1 0h1M1295 1342.5h4m3 0h1m3 0h3m128 0h1m3 0h1M1295 1343.5h4m3 0h7M1295 1344.5h4m3 0h7M1297 1345.5h13M1291 1346.5h4m2 0h3m1 0h1m3 0h4M1291 1347.5h4m2 0h3m6 0h3M1292 1348.5h3m2 0h3m6 0h1M1294 1349.5h5m7 0h3M1296 1350.5h4m6 0h2M1296 1351.5h4m125 0h3m2 0h1M1297 1352.5h3m124 0h4m2 0h1M1292 1353.5h3m2 0h5m126 0h5M1292 1354.5h4m1 0h4m123 0h3m1 0h3M1292 1355.5h4m1 0h2m120 0h3m3 0h6M1292 1356.5h4m123 0h3m4 0h5M1296 1357.5h3m119 0h4m6 0h5M1418 1358.5h4m7 0h6M1418 1359.5h4m8 0h5M1420 1360.5h5m5 0h6M1417 1361.5h7m7 0h1m3 0h1M1418 1362.5h3m10 0h1M1420 1363.5h1M1417 1366.5h1M1416 1367.5h5M1415 1368.5h7M1417 1369.5h6M1416 1370.5h2M1416 1371.5h2M1417 1372.5h1" stroke="#8cfead" stroke-width="1" shape-rendering="crispEdges"/>
<path d="M1443 1355.5h2M1443 1356.5h3M1441 1357.5h5M1441 1358.5h3M1441 1359.5h4M1441 1360.5h4M1442 1361.5h3" stroke="#bced8f" stroke-width="1" shape-rendering="crispEdges"/>
<path d="M1292 1364.5h2M1291 1365.5h3M1291 1366.5h3M1290 1367.5h4M1290 1368.5h4M1290 1369.5h6M1293 1370.5h2M1293 1371.5h1M1297 1377.5h2M1296 1378.5h2M1296 1380.5h3M1296 1381.5h6M1296 1382.5h6M1295 1383.5h3m1 0h2M1295 1384.5h3m1 0h1M1295 1385.5h3m1 0h1M1297 1386.5h3M1297 1387.5h3M1297 1388.5h3M1298 1389.5h1M1430 1393.5h3M1430 1394.5h4M1430 1395.5h5M1430 1396.5h3M1430 1397.5h2M1427 1398.5h5M1427 1399.5h5M1428 1400.5h3M1428 1401.5h3M1428 1402.5h3M1428 1403.5h3M1428 1404.5h3M1304 1405.5h2m120 0h4M1303 1406.5h4m118 0h5M1303 1407.5h4m119 0h4M1304 1408.5h3m120 0h2M1304 1409.5h4M1304 1410.5h4M1304 1411.5h4M1305 1412.5h3" stroke="#d4dd80" stroke-width="1" shape-rendering="crispEdges"/>
<path d="M1437 1355.5h3M1436 1356.5h4M1434 1357.5h7M1435 1358.5h6M1438 1359.5h3M1436 1360.5h3M1436 1361.5h3M1436 1362.5h3M1299 1365.5h1m14 0h3M1299 1366.5h1m12 0h5M1312 1367.5h5M1312 1368.5h5M1296 1369.5h3m13 0h5M1297 1370.5h5m10 0h5M1298 1371.5h3m11 0h3m114 0h5M1299 1372.5h1m12 0h3m114 0h2M1314 1373.5h1m114 0h2M1429 1374.5h2m3 0h2M1429 1375.5h6M1429 1376.5h5M1427 1377.5h6M1427 1378.5h2M1428 1379.5h1m3 0h1" stroke="#ff8e4a" stroke-width="1" shape-rendering="crispEdges"/>
<path d="M1288 1343.5h3M1287 1344.5h5M1287 1345.5h5M1288 1347.5h3M1288 1348.5h3M1288 1349.5h4M1433 1351.5h1M1432 1352.5h2m1 0h2M1435 1353.5h3M1301 1354.5h3m2 0h1m1 0h1m124 0h4M1301 1355.5h3m7 0h1m121 0h3M1301 1356.5h3m7 0h2m121 0h1M1301 1357.5h3m4 0h5M1301 1358.5h4m1 0h5M1300 1359.5h5m1 0h5M1300 1360.5h5m1 0h3M1301 1361.5h2m127 0h1m1 0h3M1307 1362.5h3m119 0h2m1 0h3M1307 1363.5h5m116 0h3m1 0h3m1 0h3M1307 1364.5h5m124 0h3M1309 1365.5h3m124 0h3M1306 1366.5h6m116 0h1m2 0h7M1306 1367.5h6m119 0h7M1306 1368.5h6m119 0h7M1308 1369.5h3M1308 1370.5h3M1315 1371.5h2M1306 1372.5h4m5 0h3m103 0h2M1298 1373.5h1m6 0h9m1 0h3m98 0h3m2 0h3M1297 1374.5h4m2 0h11m3 0h3m93 0h7m1 0h3m2 0h1M1298 1375.5h3m2 0h5m2 0h4m3 0h3m93 0h7m1 0h3M1298 1376.5h3m2 0h3m10 0h4m93 0h7m1 0h3M1299 1377.5h5m3 0h12m97 0h3m2 0h3M1299 1378.5h5m3 0h12m95 0h3m5 0h3m4 0h3M1299 1379.5h5m3 0h10m97 0h4m2 0h5m4 0h3M1300 1380.5h10m1 0h3m100 0h12m3 0h4M1304 1381.5h5m2 0h4m3 0h3m93 0h12m3 0h4M1304 1382.5h11m3 0h3m93 0h3m1 0h3m1 0h6m1 0h4M1306 1383.5h9m3 0h3m93 0h3m2 0h9m1 0h3M1301 1384.5h13m1 0h6m93 0h14m1 0h4M1301 1385.5h5m1 0h3m1 0h3m1 0h7m92 0h19M1301 1386.5h9m1 0h7m1 0h3m90 0h21M1306 1387.5h4m1 0h6m2 0h5m88 0h9m1 0h11M1305 1388.5h4m5 0h3m4 0h3m88 0h13m5 0h3M1305 1389.5h3m6 0h3m1 0h6m87 0h13m4 0h3M1304 1390.5h4m2 0h3m1 0h7m88 0h15m4 0h3M1304 1391.5h3m1 0h15m86 0h13m6 0h3M1304 1392.5h3m1 0h15m86 0h3m2 0h8M1303 1393.5h4m1 0h3m1 0h11m86 0h13m1 0h6M1303 1394.5h3m2 0h15m86 0h8m1 0h11M1303 1395.5h4m1 0h15m86 0h6m3 0h12M1304 1396.5h3m1 0h16m85 0h8m1 0h12M1304 1397.5h3m1 0h12m1 0h3m85 0h8m1 0h12M1308 1398.5h5m4 0h8m86 0h6m1 0h9M1306 1399.5h19m86 0h7m1 0h8M1306 1400.5h19m85 0h18M1306 1401.5h5m1 0h13m83 0h5m1 0h14M1306 1402.5h7m5 0h8m82 0h9m1 0h10M1306 1403.5h9m3 0h9m81 0h3m1 0h16M1306 1404.5h21m81 0h20M1307 1405.5h20m77 0h3m1 0h17M1307 1406.5h20m77 0h21M1307 1407.5h8m1 0h11m77 0h17m1 0h3M1307 1408.5h8m1 0h13m76 0h16m1 0h3M1308 1409.5h21m76 0h20M1309 1410.5h9m1 0h10m76 0h20M1309 1411.5h20m74 0h4m1 0h17M1312 1412.5h17m74 0h4m1 0h5m1 0h10M1309 1413.5h21m73 0h20M1309 1414.5h21m73 0h20M1309 1415.5h22m71 0h21M1311 1416.5h20m71 0h21M1311 1417.5h20m71 0h21M1311 1418.5h20m72 0h19M1311 1419.5h20m71 0h20M1312 1420.5h19m70 0h17m1 0h3M1312 1421.5h20m69 0h21M1312 1422.5h20m69 0h20M1312 1423.5h21m67 0h21M1312 1424.5h21m67 0h21M1313 1425.5h21m66 0h19M1313 1426.5h21m65 0h20M1313 1427.5h22m64 0h20M1314 1428.5h21m63 0h21M1315 1429.5h21m62 0h21M1315 1430.5h21m62 0h21M1315 1431.5h21m62 0h20M1316 1432.5h19m63 0h19M1316 1433.5h20m60 0h21M1317 1434.5h20m59 0h21M1317 1435.5h22m56 0h21M1317 1436.5h22m56 0h21M1317 1437.5h22m56 0h21M1317 1438.5h21m57 0h20M1318 1439.5h20m56 0h21M1318 1440.5h21m55 0h21M1318 1441.5h21m55 0h21M1319 1442.5h20m54 0h21M1319 1443.5h20m54 0h21M1319 1444.5h20m54 0h21M1319 1445.5h21m52 0h21M1320 1446.5h21m50 0h22M1321 1447.5h20m50 0h22M1321 1448.5h20m50 0h22M1322 1449.5h19m51 0h19M1322 1450.5h20m50 0h19M1322 1451.5h20m49 0h20M1322 1452.5h21m47 0h21M1323 1453.5h20m47 0h20M1323 1454.5h21m46 0h20M1323 1455.5h21m46 0h20M1323 1456.5h21m45 0h21M1324 1457.5h20m45 0h20M1324 1458.5h20m45 0h20M1325 1459.5h20m43 0h20M1325 1460.5h20m42 0h20M1325 1461.5h21m41 0h20M1326 1462.5h20m41 0h20M1326 1463.5h20m41 0h19M1327 1464.5h19m40 0h20M1327 1465.5h20m39 0h20M1328 1466.5h19m39 0h20M1328 1467.5h19m39 0h18M1329 1468.5h19m38 0h18M1329 1469.5h19m37 0h19M1329 1470.5h20m36 0h19M1329 1471.5h20m35 0h20M1331 1472.5h18m35 0h19M1331 1473.5h19m34 0h18M1331 1474.5h19m33 0h19M1332 1475.5h18m33 0h18M1332 1476.5h18m33 0h18M1332 1477.5h18m33 0h18M1333 1478.5h17m32 0h18M1333 1479.5h18m30 0h19M1334 1480.5h17m30 0h18M1334 1481.5h18m29 0h17M1335 1482.5h18m28 0h17M1336 1483.5h17m28 0h16M1336 1484.5h17m27 0h17M1337 1485.5h16m27 0h16M1337 1486.5h16m26 0h17M1338 1487.5h16m25 0h16M1338 1488.5h16m25 0h16M1339 1489.5h15m25 0h16M1339 1490.5h16m23 0h16M1340 1491.5h15m23 0h16M1341 1492.5h15m22 0h15M1341 1493.5h15m21 0h16M1341 1494.5h15m21 0h14M1342 1495.5h14m20 0h15M1343 1496.5h14m19 0h14M1344 1497.5h13m19 0h13M1345 1498.5h12m19 0h12M1346 1499.5h12m17 0h13M1347 1500.5h11m16 0h12M1347 1501.5h12m15 0h11M1348 1502.5h12m13 0h12M1349 1503.5h11m13 0h11M1350 1504.5h10m12 0h11M1351 1505.5h9m12 0h10M1352 1506.5h9m11 0h8M1353 1507.5h9m9 0h8M1354 1508.5h8m9 0h7M1356 1509.5h6m8 0h7M1357 1510.5h6m7 0h7M1358 1511.5h6m5 0h6M1359 1512.5h5m5 0h5M1361 1513.5h4m3 0h4M1363 1514.5h1m5 0h1" stroke="#ff6d38" stroke-width="1" shape-rendering="crispEdges"/>
<path d="M1463 1371.5h1M1461 1372.5h3M1461 1373.5h6M1460 1374.5h1m3 0h4M1458 1375.5h3m3 0h4M1458 1376.5h3m3 0h2M1459 1377.5h7M1462 1378.5h2M1463 1381.5h2m1 0h2M1463 1382.5h5M1462 1383.5h7M1274 1384.5h2m1 0h1m185 0h3m3 0h1M1273 1385.5h5m187 0h1M1273 1386.5h6m185 0h2M1276 1387.5h3m186 0h1M1275 1388.5h3M1275 1389.5h3M1276 1390.5h1M1455 1411.5h3M1454 1412.5h5M1455 1413.5h4M1455 1414.5h4M1455 1415.5h3M1455 1416.5h2M1455 1417.5h2" stroke="#ff2613" stroke-width="1" shape-rendering="crispEdges"/>
<path d="M1267 1356.5h1M1267 1357.5h2M1267 1358.5h3M1261 1359.5h3M1258 1360.5h9M1258 1361.5h9m1 0h3M1258 1362.5h3m3 0h7M1265 1363.5h6m192 0h1M1254 1364.5h3m8 0h6m206 0h2M1254 1365.5h6m1 0h8m195 0h3m7 0h6M1255 1366.5h5m1 0h8m4 0h2m189 0h5m5 0h6M1256 1367.5h4m1 0h11m1 0h2m185 0h3m1 0h5m5 0h5M1263 1368.5h9m1 0h2m184 0h4m1 0h5m6 0h3M1263 1369.5h3m3 0h3m187 0h4m6 0h3m2 0h4M1263 1370.5h3m3 0h3m187 0h4m6 0h3m2 0h3M1269 1371.5h3m188 0h3m4 0h5m2 0h3M1263 1372.5h3m191 0h3m7 0h6M1265 1373.5h1m189 0h5m7 0h8M1454 1374.5h6m1 0h2m7 0h5M1454 1375.5h4m3 0h2m8 0h4M1454 1376.5h3m4 0h2m8 0h4M1268 1377.5h5m2 0h2m194 0h3M1268 1378.5h10m177 0h3m1 0h3m6 0h1m2 0h3M1264 1379.5h3m1 0h10m177 0h3m1 0h3m9 0h3M1261 1380.5h8m1 0h5m180 0h3m1 0h3m9 0h3M1261 1381.5h8m1 0h5m180 0h3M1261 1382.5h8m3 0h3m180 0h4M1263 1383.5h4m188 0h6M1262 1384.5h7m181 0h3m2 0h8m3 0h3M1262 1385.5h3m1 0h3m181 0h3m1 0h9m3 0h6M1262 1386.5h3m1 0h3m181 0h8m2 0h3m3 0h6M1267 1387.5h3m180 0h8m4 0h3m1 0h6M1267 1388.5h3m2 0h3m4 0h4m167 0h8m1 0h10M1267 1389.5h3m1 0h4m4 0h4m172 0h3m1 0h10M1271 1390.5h5m3 0h6m172 0h12M1271 1391.5h5m3 0h6m172 0h3m2 0h5M1271 1392.5h5m3 0h6m163 0h3m3 0h6m2 0h6M1266 1393.5h2m2 0h4m5 0h5m163 0h4m3 0h3m5 0h6M1266 1394.5h2m2 0h4m2 0h3m1 0h3m164 0h4m1 0h5m7 0h4M1265 1395.5h3m2 0h3m3 0h3m168 0h3m2 0h4m2 0h3M1268 1396.5h3m1 0h7m1 0h3m164 0h3m2 0h4m2 0h3m1 0h3M1268 1397.5h3m1 0h7m1 0h3m2 0h3m159 0h3m1 0h10m1 0h3M1268 1398.5h15m2 0h3m159 0h8m1 0h5m1 0h3M1268 1399.5h7m1 0h6m2 0h4m161 0h13M1268 1400.5h7m1 0h6m2 0h3m157 0h3m2 0h15M1269 1401.5h6m3 0h9m156 0h21M1269 1402.5h3m1 0h3m3 0h8m156 0h21M1269 1403.5h3m1 0h3m3 0h13m151 0h19M1273 1404.5h3m3 0h5m2 0h6m152 0h3m1 0h6m2 0h6M1270 1405.5h14m2 0h6m149 0h9m5 0h6M1270 1406.5h20m151 0h20M1270 1407.5h20m151 0h4m1 0h15M1273 1408.5h17m149 0h6m1 0h13M1273 1409.5h4m1 0h12m149 0h6m1 0h6m1 0h6M1274 1410.5h16m1 0h3m145 0h6m2 0h12M1277 1411.5h13m1 0h4m144 0h5m1 0h9M1277 1412.5h13m1 0h4m144 0h5m1 0h9M1278 1413.5h5m1 0h6m2 0h3m142 0h18M1280 1414.5h8m3 0h4m142 0h18M1276 1415.5h12m3 0h3m143 0h10m1 0h7M1276 1416.5h21m142 0h16M1276 1417.5h9m1 0h13m141 0h15M1277 1418.5h8m1 0h13m135 0h3m2 0h15M1278 1419.5h21m135 0h11m1 0h8M1278 1420.5h21m134 0h21M1280 1421.5h8m1 0h10m134 0h21M1280 1422.5h19m134 0h21M1280 1423.5h20m132 0h22M1280 1424.5h20m131 0h22M1280 1425.5h20m130 0h22M1281 1426.5h22m127 0h22M1281 1427.5h22m126 0h23M1282 1428.5h21m126 0h22M1283 1429.5h6m3 0h12m125 0h12m1 0h9M1283 1430.5h6m3 0h12m123 0h3m1 0h9m2 0h9M1283 1431.5h22m122 0h23M1286 1432.5h21m119 0h24M1285 1433.5h22m119 0h23M1285 1434.5h22m119 0h21M1285 1435.5h22m119 0h19M1286 1436.5h23m116 0h20M1287 1437.5h22m116 0h20M1287 1438.5h22m116 0h20M1288 1439.5h21m115 0h21M1288 1440.5h22m114 0h21M1288 1441.5h23m111 0h22M1289 1442.5h22m111 0h21M1291 1443.5h21m110 0h21M1291 1444.5h21m109 0h20M1291 1445.5h21m109 0h20M1292 1446.5h20m109 0h19M1293 1447.5h19m109 0h19M1294 1448.5h20m107 0h18M1293 1449.5h21m105 0h20M1293 1450.5h21m105 0h19M1293 1451.5h23m103 0h19M1295 1452.5h21m102 0h20M1295 1453.5h21m101 0h20M1296 1454.5h20m100 0h21M1297 1455.5h19m100 0h21M1297 1456.5h20m99 0h20M1297 1457.5h21m98 0h19M1299 1458.5h20m96 0h20M1299 1459.5h20m96 0h20M1299 1460.5h21m95 0h20M1300 1461.5h20m95 0h18M1301 1462.5h20m92 0h20M1301 1463.5h20m91 0h19M1301 1464.5h21m89 0h20M1303 1465.5h19m88 0h21M1304 1466.5h19m87 0h19M1304 1467.5h19m87 0h19M1305 1468.5h18m86 0h19M1305 1469.5h19m84 0h19M1307 1470.5h18m83 0h19M1307 1471.5h19m81 0h18M1308 1472.5h18m81 0h18M1309 1473.5h18m79 0h19M1309 1474.5h18m79 0h18M1309 1475.5h19m77 0h18M1310 1476.5h18m77 0h17M1311 1477.5h19m74 0h18M1312 1478.5h18m74 0h17M1313 1479.5h17m73 0h17M1313 1480.5h17m72 0h17M1314 1481.5h18m69 0h18M1315 1482.5h18m68 0h17M1316 1483.5h17m67 0h18M1317 1484.5h17m65 0h17M1317 1485.5h17m64 0h18M1318 1486.5h17m63 0h16M1320 1487.5h16m60 0h18M1320 1488.5h17m59 0h16M1322 1489.5h15m58 0h17M1323 1490.5h15m57 0h16M1323 1491.5h16m55 0h16M1324 1492.5h16m53 0h16M1324 1493.5h17m52 0h15M1326 1494.5h15m51 0h15M1327 1495.5h15m49 0h14M1328 1496.5h14m49 0h14M1329 1497.5h15m46 0h14M1330 1498.5h14m45 0h14M1332 1499.5h13m43 0h14M1333 1500.5h13m41 0h14M1334 1501.5h13m38 0h15M1334 1502.5h14m37 0h14M1336 1503.5h13m35 0h13M1336 1504.5h14m33 0h13M1338 1505.5h13m31 0h13M1339 1506.5h13m28 0h14M1340 1507.5h13m26 0h13M1342 1508.5h12m24 0h13M1343 1509.5h13m21 0h12M1345 1510.5h12m20 0h11M1346 1511.5h12m17 0h12M1348 1512.5h11m15 0h11M1349 1513.5h12m11 0h12M1350 1514.5h13m7 0h12M1353 1515.5h12m3 0h12M1355 1516.5h23" stroke="#ff0000" stroke-width="1" shape-rendering="crispEdges"/>
<path d="M1263 1334h0m2 4h0m182 22h0m20 -14h0m-194 4h0m-2 -23h0m184 20h0m-189 -14h0m9 4h0m182 30h0m-11 -5h0m4 -18h0m-166 11h0m179 -4h0m-179 11h0m-11 -37h0m191 11h0m-193 25h0m15 -2h0m169 7h0m10 -23h0m-192 15h0m-13 -30h0m7 12h0m195 9h0m-15 13h0m-169 1h0m179 -32h0m-176 37h0m-3 -33h0m182 6h0m-181 18h0m166 -4h0m-173 -19h0m3 8h0m154 75h0m-133 -33h0m8 38h0m-4 -3h0m154 -58h0m-24 58h0m-124 7h0m124 -5h0m36 -78h0m-36 64h0m-153 -79h0m25 95h0m-26 -58h0m147 58h0m-110 7h0m-5 0h0m3 7h0m107 -2h0m11 -12h0m-2 1h0m-120 -3h0m5 13h0m-82 -228h0m248 65h0m1 1h0m-223 39h0m16 0h0m187 4h0m-193 -26h0m242 -92h0m-254 103h0m-10 -27h0m261 -48h0m-253 27h0m17 48h0m199 -13h0m12 12h0m-231 -54h0m209 73h0m7 -9h0m-202 1h0m201 -9h0m-219 -24h0m220 15h0m4 -1h0m-10 19h0m21 -60h0m-12 52h0m-210 13h0m-26 -106h0m24 41h0m-9 10h0m1 6h0m0 11h0m8 16h0m237 -67h0m-4 27h0m-7 3h0" stroke="#8000ff" stroke-width="3.6" stroke-linecap="round"/>
<path d="M1447 1379h0m-155 25h0m-15 -34h0m172 -7h0m-162 30h0m17 16h0m-21 -65h0m8 51h0m0 -20h0m2 12h0m170 -42h0m-19 43h0m-5 18h0m-144 -4h0m-5 -15h0m154 0h0m3 -15h0m-122 97h0m-30 -61h0m115 56h0m-3 1h0m-125 -98h0m1 1h0m171 0h0m-27 43h0m-22 61h0m4 -5h0m-84 -1h0m-51 -102h0m55 114h0m118 -87h0m-44 87h0m4 -10h0m-121 -95h0m163 -1h0m-44 104h0m4 -14h0m-85 2h0m5 12h0m71 6h0m-73 -10h0m-64 -140h0m191 7h0m27 -63h0m-4 37h0m-222 -2h0m207 16h0" stroke="#6826fe" stroke-width="3.6" stroke-linecap="round"/>
<path d="M1288 1328h0m-3 -45h0m164 27h0m-167 -68h0m162 69h0m-8 14h0m26 -130h0m24 -113h0m-13 77h0m-200 52h0m193 -42h0m1 10h0m-202 33h0m-25 -244h0m232 201h0m-18 40h0m12 -79h0m-202 0h0" stroke="#504afc" stroke-width="3.6" stroke-linecap="round"/>
<path d="M1277 1302h0m170 5h0m14 -142h0m10 -23h0m1 35h0m-7 21h0m14 -98h0m-20 97h0m26 -119h0m-30 118h0m-194 -36h0m-69 18h0" stroke="#386df9" stroke-width="3.6" stroke-linecap="round"/>
<path d="M1498 1376h0m-20 -7h0m-233 29h0m-14 -29h0m13 11h0m243 4h0m-247 6h0m267 -78h0m-301 -7h0m36 61h0m248 -24h0m9 17h0m14 -9h0m-268 13h0m243 -6h0m20 -147h0m-14 95h0" stroke="#208ef4" stroke-width="3.6" stroke-linecap="round"/>
<path d="M1233 1368h0m2 11h0m-10 -16h0m281 -13h0m-8 18h0m15 -15h0m-26 -3h0m10 13h0m-263 5h0m268 -18h0m-272 12h0m1 -1h0m7 12h0m255 -21h0m-262 20h0m6 1h0m257 -17h0m-240 20h0m-19 1h0m-7 -8h0m253 -7h0m-130 152h0m31 -1h0m-39 -3h0m44 1h0m-42 0h0m43 -1h0m-41 2h0m43 -4h0m-46 2h0m45 -1h0m-156 -167h0m-14 7h0m1 -40h0m327 -35h0m-345 32h0m300 35h0m10 -33h0m-283 7h0m320 -75h0m-25 86h0m-16 -19h0m-276 26h0m268 -22h0m-313 -40h0m46 77h0m-59 -152h0m335 148h0m-276 -17h0m297 -20h0m-304 15h0m272 25h0m12 -49h0m-2 37h0m6 -27h0m11 20h0m14 -45h0m-316 50h0m-7 15h0m5 -26h0m15 13h0m285 -51h0m-289 58h0m-3 5h0m-9 -40h0m14 13h0m-13 -24h0m-33 -67h0m-11 25h0m16 10h0m4 5h0m5 33h0m5 0h0m0 13h0m0 7h0m5 -26h0m7 0h0m311 4h0m-14 9h0m8 11h0" stroke="#08acee" stroke-width="3.6" stroke-linecap="round"/>
<path d="M1296 1299h0m155 -59h0m-9 32h0m-161 2h0m16 19h0m150 25h0m-164 -41h0m164 16h0m-4 22h0m2 -69h0m-7 10h0m15 11h0m10 -46h0m-172 60h0m-9 15h0m-15 -121h0m169 126h0m3 18h0m-169 -60h0m190 -90h0m-24 90h0m10 -4h0m-169 12h0m182 -46h0m-173 67h0m9 4h0m-27 -59h0m12 29h0m183 -39h0m-11 -27h0m-164 104h0m181 -111h0m-183 145h0m-15 -70h0m0 12h0m2 -59h0m187 23h0m-180 54h0m155 10h0m22 -118h0m5 3h0m-162 118h0m147 -35h0m-163 31h0m175 -112h0m-12 104h0m-6 9h0m-137 37h0m-73 -440h0m252 194h0m12 -106h0m-22 148h0" stroke="#12c8e6" stroke-width="3.6" stroke-linecap="round"/>
<path d="M1270 1269h0m8 25h0m13 20h0m-14 -30h0m6 30h0m177 -111h0m-191 49h0m188 -64h0m-36 157h0m7 -27h0m13 -4h0m-4 -21h0m9 -9h0m-172 -29h0m162 5h0m-151 63h0m4 -12h0m-4 28h0m-19 -98h0m17 77h0m156 5h0m-165 -111h0m177 27h0m-137 125h0m-33 -66h0m172 -16h0m-27 47h0m4 -27h0m-160 -51h0m172 29h0m-2 37h0m-147 -3h0m0 2h0m162 -126h0m-8 71h0m-165 23h0m-11 -67h0m35 113h0m138 -107h0m-150 90h0m173 -144h0m-192 120h0m159 3h0m-141 0h0m-1 25h0m6 -12h0m155 -15h0m-13 41h0m10 -67h0m-166 44h0m141 20h0m18 -59h0m-161 -26h0m174 33h0m-7 -39h0m-159 118h0m16 -16h0m-27 -47h0m161 -43h0m-148 77h0m0 15h0m-14 -66h0m157 -8h0m-162 -53h0m142 158h0m-118 -32h0m-20 -110h0m-4 -2h0m156 65h0m7 2h0m-155 -2h0m161 53h0m19 -127h0m-186 5h0m190 -19h0m-181 80h0m183 -88h0m4 -35h0m-23 128h0m-5 -39h0m-158 61h0m4 -2h0m-8 -53h0m-3 16h0m26 53h0m-56 -280h0m-13 -117h0m23 198h0m216 -37h0" stroke="#2adddd" stroke-width="3.6" stroke-linecap="round"/>
<path d="M1273 1282h0m159 13h0m14 31h0m-8 -22h0m-152 -8h0m-20 -53h0m26 53h0m129 51h0m36 -94h0m-159 72h0m140 -33h0m4 38h0m7 -35h0m-5 -17h0m-159 58h0m14 11h0m-8 -44h0m159 -29h0m-34 92h0m-122 -34h0m-11 -42h0m149 -11h0m-151 33h0m10 -1h0m-23 -135h0m171 126h0m-145 -18h0m165 -76h0m-19 61h0m23 -97h0m-12 132h0m-155 -17h0m143 -30h0m-159 -5h0m7 77h0m-6 -42h0m6 45h0m144 -3h0m-2 -6h0m25 -39h0m-19 25h0m4 -33h0m-156 -6h0m151 57h0m-139 -12h0m133 33h0m-136 -19h0m131 9h0m26 -71h0m-158 22h0m14 47h0m5 17h0m-5 -23h0m-10 -23h0m-28 -113h0m15 98h0m174 -32h0m-166 18h0m152 46h0m-154 18h0m168 -151h0m-185 20h0m160 108h0m7 -3h0m-145 -16h0m2 38h0m150 -49h0m-22 50h0m8 -31h0m20 -14h0m-155 8h0m-13 -36h0m178 -121h0m-25 162h0m-149 29h0m0 -22h0m9 42h0m157 -78h0m-6 -11h0m-7 12h0m-185 -141h0m2 -10h0m225 -31h0m-10 41h0" stroke="#42edd3" stroke-width="3.6" stroke-linecap="round"/>
<path d="M1438 1324h0m-169 -84h0m170 32h0m-13 65h0m-130 -2h0m-16 -70h0m171 34h0m-156 -16h0m-28 -26h0m175 84h0m-170 -100h0m191 -61h0m-27 85h0m12 37h0m-155 56h0m-23 -98h0m201 -80h0m-23 112h0m-170 7h0m20 21h0m1 6h0m146 -73h0m-144 59h0m139 -41h0m-173 -24h0m184 40h0m-10 -4h0m-154 -27h0m159 41h0m-157 -27h0m-19 -2h0m170 35h0m-162 -53h0m25 90h0m-36 -120h0m166 105h0m7 -33h0m-157 2h0m172 -72h0m-182 31h0m160 52h0m-137 15h0m-19 -15h0m-5 -28h0m199 -165h0m-3 -12h0m10 -79h0m-258 -164h0" stroke="#5af8c8" stroke-width="3.6" stroke-linecap="round"/>
<path d="M1295 1334h0m-32 -147h0m206 -1h0m-33 97h0m8 1h0m8 -54h0m-30 110h0m9 -58h0m-121 68h0m-2 -12h0m132 -76h0m8 53h0m-9 -16h0m-154 27h0m10 1h0m142 -39h0m-7 25h0m20 -108h0m-174 86h0m140 79h0m-142 -138h0m170 96h0m-141 14h0m149 -67h0m-162 52h0m-3 -3h0m-22 -120h0m165 148h0m34 -247h0m-191 157h0m161 49h0m-168 -80h0m184 84h0m-159 18h0m150 21h0m-161 -124h0m-10 11h0m20 64h0m154 20h0m-17 3h0m46 -182h0m-45 166h0m22 -42h0m23 -119h0m-193 151h0m26 32h0m-46 -157h0m23 134h0m164 19h0m-4 -29h0m-159 11h0m167 -32h0m10 -117h0m-161 162h0m141 14h0m-6 -32h0m-156 -3h0m159 -20h0m-144 5h0m156 8h0m2 -62h0m-23 108h0m-162 -104h0m159 94h0m-159 -110h0m24 131h0m138 -24h0m17 -47h0m-8 -1h0m-148 17h0m157 -18h0m-152 72h0m156 -68h0m2 -11h0m-9 26h0m2 -62h0m-144 95h0m131 -61h0m13 36h0m-5 -17h0m-2 -1h0m-143 57h0m-30 -103h0m184 0h0m-158 107h0m145 -12h0m5 10h0m14 -82h0m-154 85h0m134 -34h0m-172 -90h0m194 -56h0m-171 166h0m-15 -125h0m166 73h0m10 -35h0m-172 41h0m171 -32h0m-175 -30h0m148 123h0m-127 -30h0m6 -5h0m140 28h0m12 -100h0m-9 85h0m-165 -27h0m156 26h0m19 -35h0m-190 -117h0m179 110h0m-166 -1h0m14 -12h0m163 -42h0m-17 107h0m20 -129h0m-179 41h0m5 -6h0m165 83h0m11 -130h0m-166 135h0m154 -37h0m11 -42h0m-17 55h0m-174 -80h0m197 -64h0m-174 93h0m4 38h0m141 9h0m-178 -203h0m2 -8h0m24 142h0m150 49h0m18 13h0m-18 41h0m23 -81h0m-156 71h0m131 -31h0m-135 -16h0m151 48h0m-13 -37h0m-158 -18h0m160 61h0m-153 -16h0m163 -73h0m-131 117h0m113 -50h0m-133 20h0m7 15h0m-18 -27h0m169 -115h0m-168 97h0m154 45h0m-142 -21h0m142 -8h0m-8 18h0m17 -97h0m-158 56h0m152 23h0m-13 19h0m-128 -5h0m-14 -17h0m3 -51h0m7 88h0m-5 -20h0m5 9h0m-29 -163h0m29 167h0m121 23h0m62 -274h0m-188 197h0m151 15h0m3 12h0m-16 9h0m-120 19h0m-44 -125h0m12 26h0m12 23h0m-32 -172h0m35 242h0m4 -18h0m11 32h0m149 -83h0m-181 1h0m-1 0h0m176 -73h0m-161 115h0m139 35h0m-174 -296h0m0 11h0m224 -24h0m-225 43h0m-22 -170h0m14 89h0" stroke="#72febb" stroke-width="3.6" stroke-linecap="round"/>
<path d="M1475 1120h0m-24 91h0m12 5h0m-187 27h0m19 70h0m127 35h0m-111 10h0m-54 -213h0m192 87h0m-144 123h0m-1 -24h0m123 2h0m2 13h0m-131 20h0m134 -57h0m-130 11h0m162 -177h0m-38 182h0m-128 -3h0m145 -67h0m-132 108h0m140 -109h0m-4 67h0m-182 -142h0m175 169h0m-1 -90h0m-168 -55h0m203 -53h0m-54 201h0m31 -45h0m-171 -7h0m174 -21h0m-28 88h0m-137 -26h0m134 31h0m44 -210h0m-43 217h0m-119 -7h0m131 -84h0m-164 -61h0m-6 -33h0m172 73h0m-151 -13h0m158 -10h0m-14 47h0m-126 73h0m123 -19h0m-1 32h0m-161 -150h0m197 -96h0m-22 135h0m25 -113h0m-182 129h0m-20 -94h0m6 36h0m36 137h0m133 -80h0m-157 -8h0m-14 -41h0m196 -48h0m-184 114h0m165 39h0m-161 -21h0m160 22h0m-145 -36h0m-26 -96h0m161 158h0m-141 -23h0m154 -96h0m-179 -54h0m191 -14h0m-18 80h0m-158 15h0m-5 26h0m16 42h0m146 -94h0m13 10h0m-21 27h0m-14 97h0m36 -162h0m-25 110h0m-5 23h0m22 -115h0m-10 51h0m-131 42h0m-32 -40h0m179 -43h0m-158 121h0m-2 -63h0m145 -23h0m-128 76h0m114 -16h0m-150 -97h0m151 131h0m-156 -202h0m183 35h0m7 31h0m-22 111h0m-162 -83h0m146 89h0m-116 -28h0m-25 -69h0m191 -108h0m-18 100h0m-140 125h0m123 -63h0m-5 -18h0m-132 64h0m127 -19h0m9 14h0m5 -1h0m27 -176h0m-206 2h0m186 73h0m-21 120h0m27 -75h0m-156 72h0m4 -6h0m-2 -64h0m13 58h0m-40 -82h0m156 107h0m12 -27h0m-145 8h0m164 -188h0m-155 194h0m2 -2h0m-3 -2h0m152 -87h0m-156 84h0m116 17h0m40 -109h0m-185 -38h0m41 140h0m106 -4h0m10 2h0m-148 -87h0m153 22h0m1 66h0m-136 -1h0m147 -27h0m-26 42h0m23 -83h0m-135 51h0m167 -191h0m-175 136h0m8 79h0m-24 -117h0m9 79h0m1 18h0m134 -13h0m7 2h0m-130 45h0m-29 -174h0m-9 -6h0m188 60h0m-18 76h0m-3 -36h0m-156 -31h0m159 92h0m-134 -13h0m-9 -11h0m-26 -171h0m183 148h0m-146 51h0m10 -6h0m125 -22h0m-146 10h0m-39 -311h0m223 44h0m-225 -33h0m-4 -38h0m225 52h0m-220 -18h0m-7 -8h0m-7 -31h0m-5 -54h0m-2 5h0m-23 -211h0m286 263h0m1 -25h0m8 -49h0m3 -33h0m5 -20h0m8 -101h0m3 -22h0" stroke="#8cfead" stroke-width="3.6" stroke-linecap="round"/>
<path d="M1423 1346h0m-113 1h0m112 6h0m-118 -4h0m112 28h0m-17 50h0m-97 -54h0m8 -30h0m113 15h0m-2 13h0m-89 52h0m96 -46h0m-28 47h0m30 -55h0m-117 -7h0m4 18h0m-17 -41h0m127 4h0m5 -17h0m28 -57h0m7 -89h0m-187 59h0" stroke="#a4f89f" stroke-width="3.6" stroke-linecap="round"/>
<path d="M1302 1392h0m119 34h0m-112 -7h0m126 -38h0m-135 9h0m-6 -21h0m25 78h0m-24 -69h0m3 12h0m3 7h0m-12 -45h0m8 27h0m142 -4h0m-148 -17h0m120 96h0m-123 -106h0m152 18h0m-133 47h0m130 -40h0m-144 -2h0m138 22h0m5 -17h0m-143 -15h0m6 30h0m141 -27h0m0 6h0m-7 9h0m2 1h0m-13 43h0m5 -15h0m3 -6h0m-122 15h0m130 -43h0m-35 99h0m27 -79h0m-138 -35h0m20 70h0m-26 -79h0m0 -5h0m-14 -49h0m11 38h0m175 -34h0m-177 23h0m167 12h0" stroke="#bced8f" stroke-width="3.6" stroke-linecap="round"/>
<path d="M1294 1370h0m128 51h0m17 -53h0m0 -7h0m-20 69h0m-101 14h0m108 -33h0m7 -17h0m0 -10h0m-10 35h0m-9 24h0m-114 -48h0m103 76h0m-100 -69h0m129 -17h0m-136 -8h0m140 -8h0m-108 101h0m88 -33h0m25 -72h0m-131 54h0m127 -40h0m-133 21h0m7 20h0m5 16h0m122 -72h0m-6 25h0m4 -11h0m-127 35h0m6 21h0m-7 -19h0m3 9h0m11 30h0m-26 -80h0m24 74h0m101 -24h0m-10 26h0m-89 2h0m87 3h0m4 -11h0m-104 -22h0m116 -9h0m-112 16h0m-3 -13h0m17 50h0m109 -94h0m-137 17h0m15 42h0m110 -17h0m-112 13h0m94 38h0m-103 -70h0m0 3h0m1 -2h0m118 23h0m-2 4h0m1 -2h0m-98 34h0m13 30h0m72 -27h0m-82 6h0m92 -36h0m-6 20h0m19 -59h0m-119 36h0m18 47h0m88 -40h0m-8 21h0m-110 -61h0m19 53h0m104 -29h0m-19 51h0m12 -32h0m-99 4h0m92 14h0m11 -27h0m-13 34h0m18 -51h0m-96 60h0m2 7h0m-10 -28h0m77 33h0m-70 -14h0m-12 -32h0m90 27h0m-91 -30h0m88 37h0m-113 -109h0m106 124h0m-72 -26h0m-11 -33h0m87 51h0m-82 -35h0m7 19h0m90 -21h0m-1 2h0m-88 21h0m76 10h0m-83 -28h0m91 5h0m-79 25h0m74 -10h0m12 -31h0m-128 -84h0m158 -8h0m-164 -13h0m170 -7h0m2 -6h0m-186 -35h0" stroke="#d4dd80" stroke-width="3.6" stroke-linecap="round"/>
<path d="M1423 1356h0m-114 33h0m-9 -33h0m8 -2h0m-12 5h0m15 31h0m124 -40h0m6 -4h0m-150 -9h0" stroke="#ecc86f" stroke-width="3.6" stroke-linecap="round"/>
<path d="M1417 1399h0m-75 54h0m81 -61h0m-119 -23h0m3 -5h0m-2 35h0m121 -11h0m1 -24h0m11 -5h0m-131 -7h0m3 30h0m101 6h0m11 -25h0m-116 39h0m9 -27h0m117 -20h0m-129 27h0m-2 3h0m120 -35h0m-127 1h0m-2 -7h0m147 -1h0m-6 -24h0m8 -7h0m-19 31h0m-138 -16h0" stroke="#ffac5c" stroke-width="3.6" stroke-linecap="round"/>
<path d="M1419 1373h0m-17 44h0m-100 -30h0m-3 -48h0m130 52h0m-19 7h0m-103 -29h0m10 5h0m111 -10h0m4 -15h0m-133 23h0m8 19h0m111 -27h0m17 1h0m-122 -7h0m100 27h0m-106 -9h0m5 11h0m110 4h0m10 -11h0m6 -32h0m-123 31h0m119 -13h0m-129 13h0m122 -33h0m-21 114h0m-97 -98h0m-5 -6h0m-1 23h0m123 12h0m1 -7h0m-77 96h0m-46 -99h0m45 96h0m-39 -65h0m97 -9h0m-83 -2h0m97 -8h0m-6 42h0m-111 -46h0m7 28h0m107 -37h0m-120 -17h0m130 5h0m-125 25h0m-6 -23h0m41 74h0m90 -84h0m-2 2h0m5 3h0m-136 -25h0m103 90h0m23 -55h0m-115 -3h0m2 -11h0m-6 23h0m2 -22h0m0 24h0m1 -33h0m119 56h0m-115 -32h0m105 6h0m-100 5h0m-5 -35h0m100 47h0m-103 -3h0m106 -10h0m-89 10h0m101 14h0m-107 24h0m110 -43h0m-3 -46h0m4 43h0m-112 -6h0m123 -36h0m-126 55h0m109 11h0m-126 -48h0m13 45h0m124 -70h0m-130 26h0m106 30h0m-108 -25h0m97 61h0m-98 -56h0m105 33h0m8 -29h0m15 -10h0m-9 1h0m6 9h0m-1 -23h0m-116 39h0m99 15h0m14 -46h0m-114 1h0m116 1h0m-104 21h0m-5 10h0m2 4h0m100 -6h0m14 -80h0m7 -48h0m-3 45h0m-133 1h0m154 -29h0m-27 41h0m22 -46h0m-10 19h0m-181 -185h0m195 194h0m-187 -56h0m25 78h0m140 3h0m23 -133h0m-156 132h0m-22 -37h0m155 18h0m10 23h0m-154 -113h0m157 89h0" stroke="#ff8e4a" stroke-width="3.6" stroke-linecap="round"/>
<path d="M1432 1373h0m-132 -30h0m133 2h0m-133 23h0m132 -17h0m-6 7h0m1 15h0m16 -37h0m-142 29h0m126 2h0m-125 -17h0m0 -2h0m121 1h0m-116 4h0m128 24h0m-6 -15h0m-137 -12h0m151 -12h0m-9 5h0m-131 4h0m133 6h0m-11 -4h0m2 -14h0m9 9h0m5 0h0m-129 12h0m118 -22h0m-133 29h0m127 0h0m10 -8h0m-6 -19h0m-1 13h0m-130 24h0m122 -8h0m15 -49h0m19 -12h0m-181 -65h0m25 84h0m151 -5h0m17 -75h0m-15 65h0m-175 -138h0m161 152h0m-158 -79h0m6 78h0m7 -59h0m218 -242h0m-228 272h0m-4 -56h0m26 95h0m-25 -28h0m164 18h0m-14 6h0m-160 -69h0m169 73h0m11 -8h0m-159 -8h0m5 -18h0m-37 -102h0" stroke="#ff6d38" stroke-width="3.6" stroke-linecap="round"/>
<path d="M1473 1370h0m-199 12h0m-1 4h0m5 -8h0m195 -18h0m-196 33h0m-10 2h0m-4 -16h0m-2 -21h0m-6 -1h0m219 15h0m-11 6h0m-194 23h0m191 5h0m-193 -13h0m5 -9h0m4 27h0m3 9h0m-3 -29h0m189 5h0m-204 -28h0m-8 -11h0m23 38h0m-9 -26h0m193 18h0m-18 55h0m18 -76h0m-207 -1h0m34 72h0m-15 -34h0m196 -28h0m-16 18h0m-191 -19h0m207 4h0m-13 3h0m12 -7h0m-199 20h0m187 1h0m-210 -50h0m236 -4h0m-218 8h0m-14 -21h0m-33 -63h0m28 64h0m244 -9h0m-224 25h0" stroke="#ff4a26" stroke-width="3.6" stroke-linecap="round"/>
<path d="M1419 1451h0m30 -60h0m14 5h0m-195 -15h0m185 40h0m6 -13h0m-7 -24h0m-6 23h0m19 -44h0m-13 26h0m-188 -25h0m175 47h0m19 -3h0m-2 -17h0m-176 -10h0m171 24h0m22 -27h0m-44 51h0m8 21h0m22 -56h0m-190 -8h0m186 -3h0m6 11h0m-16 40h0m-163 -36h0m-5 15h0m-11 -36h0m-6 3h0m31 28h0m-25 -34h0m6 22h0m6 23h0m13 24h0m-32 -72h0m57 84h0m-33 -59h0m161 41h0m-159 -6h0m3 -17h0m166 -25h0m10 -22h0m-191 35h0m195 -14h0m-178 26h0m151 -7h0m22 -25h0m-17 14h0m-189 -38h0m196 48h0m-179 -37h0m183 10h0m-190 -1h0m27 38h0m164 -28h0m19 -17h0m-207 22h0m16 10h0m174 -11h0m-1 -24h0m-185 9h0m-15 -17h0m71 121h0m-65 -127h0m198 46h0m-204 -47h0m-1 22h0m179 42h0m-173 -30h0m12 16h0m23 22h0m157 -47h0m-15 65h0m-143 -24h0m-38 -41h0m15 22h0m-8 -10h0m31 32h0m-27 -32h0m2 18h0m194 -14h0m-156 53h0m-31 -51h0m144 75h0m32 -78h0m-17 24h0m-155 -11h0m185 -22h0m-183 33h0m-8 -21h0m183 1h0m-171 34h0m0 -24h0m-12 -3h0m-28 -65h0m236 -29h0m-3 42h0m26 -105h0m-18 78h0m-257 -63h0m16 70h0m245 -46h0m-16 57h0m3 1h0m-232 -8h0m217 8h0m-227 -16h0m0 -8h0m245 28h0" stroke="#ff2613" stroke-width="3.6" stroke-linecap="round"/>
<path d="M1279 1384h0m183 -27h0m0 5h0m-197 32h0m-10 -28h0m13 -9h0m199 22h0m10 -22h0m-203 10h0m188 8h0m-198 -2h0m-7 1h0m-15 -70h0m-33 -99h0m293 90h0m56 -223h0m-48 178h0m-265 78h0m220 25h0m7 3h0m19 -78h0m-250 33h0m-4 11h0m252 7h0m-249 1h0m-2 -33h0m4 14h0m-40 -100h0m17 14h0m-1 47h0m3 2h0m9 -10h0m-4 31h0m307 -128h0m-5 27h0m-10 10h0m-16 92h0" stroke="#ff0000" stroke-width="3.6" stroke-linecap="round"/>
<line x1="1032.1" y1="1323.8" x2="1811" y2="1323.8" stroke="#777" stroke-width="1.9" stroke-dasharray="10 11"/>
<text x="1036.4" y="1341.8" font-size="20.7" fill="#8a8a8a">FDR 10%</text>
<line x1="1032.1" y1="713.5" x2="1032.1" y2="1518.3" stroke="#111" stroke-width="1.8"/>
<line x1="1031.2" y1="1517.4" x2="1811" y2="1517.4" stroke="#111" stroke-width="1.8"/>
<line x1="1032.1" y1="1517.4" x2="1040.1" y2="1517.4" stroke="#111" stroke-width="1.5"/>
<text x="1023" y="1525" font-size="21" fill="#111" text-anchor="end">0</text>
<line x1="1032.1" y1="1416.9" x2="1040.1" y2="1416.9" stroke="#111" stroke-width="1.5"/>
<text x="1023" y="1424.5" font-size="21" fill="#111" text-anchor="end">2</text>
<line x1="1032.1" y1="1316.4" x2="1040.1" y2="1316.4" stroke="#111" stroke-width="1.5"/>
<text x="1023" y="1324" font-size="21" fill="#111" text-anchor="end">4</text>
<line x1="1032.1" y1="1216" x2="1040.1" y2="1216" stroke="#111" stroke-width="1.5"/>
<text x="1023" y="1223.6" font-size="21" fill="#111" text-anchor="end">6</text>
<line x1="1032.1" y1="1115.5" x2="1040.1" y2="1115.5" stroke="#111" stroke-width="1.5"/>
<text x="1023" y="1123.1" font-size="21" fill="#111" text-anchor="end">8</text>
<line x1="1032.1" y1="1015" x2="1040.1" y2="1015" stroke="#111" stroke-width="1.5"/>
<text x="1023" y="1022.6" font-size="21" fill="#111" text-anchor="end">10</text>
<line x1="1032.1" y1="914.5" x2="1040.1" y2="914.5" stroke="#111" stroke-width="1.5"/>
<text x="1023" y="922.1" font-size="21" fill="#111" text-anchor="end">12</text>
<line x1="1032.1" y1="814" x2="1040.1" y2="814" stroke="#111" stroke-width="1.5"/>
<text x="1023" y="821.6" font-size="21" fill="#111" text-anchor="end">14</text>
<line x1="1032.1" y1="713.6" x2="1040.1" y2="713.6" stroke="#111" stroke-width="1.5"/>
<text x="1023" y="721.2" font-size="21" fill="#111" text-anchor="end">16</text>
<line x1="1032.1" y1="1517.4" x2="1032.1" y2="1509.4" stroke="#111" stroke-width="1.5"/>
<text x="1032.1" y="1542" font-size="20.2" fill="#111" text-anchor="middle"><tspan fill="#888">−</tspan>0.6</text>
<line x1="1143.4" y1="1517.4" x2="1143.4" y2="1509.4" stroke="#111" stroke-width="1.5"/>
<text x="1143.4" y="1542" font-size="20.2" fill="#111" text-anchor="middle"><tspan fill="#888">−</tspan>0.4</text>
<line x1="1254.7" y1="1517.4" x2="1254.7" y2="1509.4" stroke="#111" stroke-width="1.5"/>
<text x="1254.7" y="1542" font-size="20.2" fill="#111" text-anchor="middle"><tspan fill="#888">−</tspan>0.2</text>
<line x1="1366" y1="1517.4" x2="1366" y2="1509.4" stroke="#111" stroke-width="1.5"/>
<text x="1366" y="1542" font-size="20.2" fill="#111" text-anchor="middle">0.0</text>
<line x1="1477.3" y1="1517.4" x2="1477.3" y2="1509.4" stroke="#111" stroke-width="1.5"/>
<text x="1477.3" y="1542" font-size="20.2" fill="#111" text-anchor="middle">0.2</text>
<line x1="1588.6" y1="1517.4" x2="1588.6" y2="1509.4" stroke="#111" stroke-width="1.5"/>
<text x="1588.6" y="1542" font-size="20.2" fill="#111" text-anchor="middle">0.4</text>
<line x1="1699.9" y1="1517.4" x2="1699.9" y2="1509.4" stroke="#111" stroke-width="1.5"/>
<text x="1699.9" y="1542" font-size="20.2" fill="#111" text-anchor="middle">0.6</text>
<line x1="1811.2" y1="1517.4" x2="1811.2" y2="1509.4" stroke="#111" stroke-width="1.5"/>
<text x="1811.2" y="1542" font-size="20.2" fill="#111" text-anchor="middle">0.8</text>
<text x="1420.5" y="1571.2" font-size="20.9" fill="#111" text-anchor="middle">effect size of signature-gene pairs</text>
<text x="982" y="1116" font-size="20.8" fill="#111" text-anchor="middle" transform="rotate(-90 982 1116)">-log10(p) of signature-gene pairs</text>
<circle cx="1664.1" cy="735.6" r="2.3" fill="#8000ff"/>
<text x="1692.6" y="739.2" font-size="14.8" fill="#111">Signature.1</text>
<circle cx="1664.1" cy="759.4" r="2.3" fill="#6826fe"/>
<text x="1692.6" y="763" font-size="14.8" fill="#111">Signature.2</text>
<circle cx="1664.1" cy="783.3" r="2.3" fill="#504afc"/>
<text x="1692.6" y="786.9" font-size="14.8" fill="#111">Signature.3</text>
<circle cx="1664.1" cy="807.1" r="2.3" fill="#386df9"/>
<text x="1692.6" y="810.7" font-size="14.8" fill="#111">Signature.4</text>
<circle cx="1664.1" cy="831" r="2.3" fill="#208ef4"/>
<text x="1692.6" y="834.6" font-size="14.8" fill="#111">Signature.5</text>
<circle cx="1664.1" cy="854.8" r="2.3" fill="#08acee"/>
<text x="1692.6" y="858.4" font-size="14.8" fill="#111">Signature.6</text>
<circle cx="1664.1" cy="878.6" r="2.3" fill="#12c8e6"/>
<text x="1692.6" y="882.2" font-size="14.8" fill="#111">Signature.7a</text>
<circle cx="1664.1" cy="902.5" r="2.3" fill="#2adddd"/>
<text x="1692.6" y="906.1" font-size="14.8" fill="#111">Signature.7b</text>
<circle cx="1664.1" cy="926.3" r="2.3" fill="#42edd3"/>
<text x="1692.6" y="929.9" font-size="14.8" fill="#111">Signature.7c</text>
<circle cx="1664.1" cy="950.2" r="2.3" fill="#5af8c8"/>
<text x="1692.6" y="953.8" font-size="14.8" fill="#111">Signature.7d</text>
<circle cx="1664.1" cy="974" r="2.3" fill="#72febb"/>
<text x="1692.6" y="977.6" font-size="14.8" fill="#111">Signature.8</text>
<circle cx="1664.1" cy="997.8" r="2.3" fill="#8cfead"/>
<text x="1692.6" y="1001.4" font-size="14.8" fill="#111">Signature.9</text>
<circle cx="1664.1" cy="1021.7" r="2.3" fill="#a4f89f"/>
<text x="1692.6" y="1025.3" font-size="14.8" fill="#111">Signature.12</text>
<circle cx="1664.1" cy="1045.5" r="2.3" fill="#bced8f"/>
<text x="1692.6" y="1049.1" font-size="14.8" fill="#111">Signature.13</text>
<circle cx="1664.1" cy="1069.4" r="2.3" fill="#d4dd80"/>
<text x="1692.6" y="1073" font-size="14.8" fill="#111">Signature.15</text>
<circle cx="1664.1" cy="1093.2" r="2.3" fill="#ecc86f"/>
<text x="1692.6" y="1096.8" font-size="14.8" fill="#111">Signature.16</text>
<circle cx="1664.1" cy="1117" r="2.3" fill="#ffac5c"/>
<text x="1692.6" y="1120.6" font-size="14.8" fill="#111">Signature.17a</text>
<circle cx="1664.1" cy="1140.9" r="2.3" fill="#ff8e4a"/>
<text x="1692.6" y="1144.5" font-size="14.8" fill="#111">Signature.17b</text>
<circle cx="1664.1" cy="1164.7" r="2.3" fill="#ff6d38"/>
<text x="1692.6" y="1168.3" font-size="14.8" fill="#111">Signature.18</text>
<circle cx="1664.1" cy="1188.6" r="2.3" fill="#ff4a26"/>
<text x="1692.6" y="1192.2" font-size="14.8" fill="#111">Signature.19</text>
<circle cx="1664.1" cy="1212.4" r="2.3" fill="#ff2613"/>
<text x="1692.6" y="1216" font-size="14.8" fill="#111">Signature.21</text>
<circle cx="1664.1" cy="1236.2" r="2.3" fill="#ff0000"/>
<text x="1692.6" y="1239.8" font-size="14.8" fill="#111">Signature.26</text>
<path d="M309 2328h0m130 -231h0m-87 197h0m-52 48h0m9 14h0m-13 -257h0m-39 26h0m-48 -68h0m-72 107h0m229 226h0m25 -127h0m-82 -124h0m5 66h0m-169 -40h0m4 -21h0m291 31h0m-128 112h0m-23 -95h0m75 -24h0m16 -150h0m-200 148h0m198 129h0m-55 -165h0m91 39h0m-58 -125h0m-103 66h0m-10 2h0m-106 13h0m180 141h0m-23 -110h0m-6 135h0m-116 -102h0m147 86h0m-146 -100h0m-7 -15h0m140 159h0m-20 -196h0m-162 112h0m165 -121h0m50 159h0m-157 -105h0m-33 37h0m130 -66h0m274 141h0m-251 76h0m-23 89h0m82 -279h0m43 132h0m-119 -257h0m29 246h0m-17 -27h0m-148 -130h0m124 85h0m24 10h0m-8 44h0m65 8h0m-17 36h0m-86 125h0m-81 -331h0m29 66h0m1 -13h0m-1 8h0m234 -5h0m-76 97h0m-15 12h0m-196 -111h0m129 -65h0m77 108h0m11 5h0m40 21h0m-102 62h0m0 52h0m2 -181h0m43 -8h0m5 194h0m-1 -8h0m-49 -121h0m27 157h0m-1 -199h0m2 181h0m-35 97h0m3 -118h0m66 -16h0m-226 -148h0m113 264h0m59 -56h0m50 31h0m86 -232h0m-183 196h0m57 6h0m10 -65h0m-88 -192h0m111 132h0m-237 3h0m372 -255h0m-187 382h0m-147 -192h0m171 74h0m9 -123h0m-10 159h0m-30 98h0m54 -80h0m-73 111h0m10 -398h0m20 74h0m15 297h0m20 -196h0m27 10h0m-55 72h0m-17 41h0m-7 69h0m57 -130h0m23 -13h0m-4 -85h0m60 -33h0m-235 -2h0m101 282h0m66 -209h0m-2 -110h0m-179 45h0m118 -66h0m-50 49h0m-101 58h0m445 -139h0m-312 390h0m-144 -214h0m340 -18h0m-131 160h0m-63 -303h0m30 243h0m-15 -44h0m11 -81h0m74 75h0m-91 65h0m-59 -226h0m106 243h0m-15 -89h0m28 98h0m-35 -91h0m79 -86h0m-84 34h0" stroke="#8000ff" stroke-width="4.2" stroke-linecap="round"/>
<path d="M305 2235h0m1 -35h0m197 -231h0m-199 295h0m-154 -76h0m232 94h0m-274 -25h0m180 -111h0m12 147h0m47 55h0m14 -45h0m-220 -138h0m240 -47h0m-140 -140h0m114 188h0m143 -195h0m-229 445h0m66 -113h0m-53 104h0m70 -41h0m-77 34h0m61 -138h0m-226 -16h0m197 90h0m24 -5h0m-54 -170h0m30 -1h0m-181 67h0m216 67h0m-2 -76h0m155 -81h0m-332 -22h0m129 271h0m12 -81h0m127 -121h0m-167 -88h0m-51 -22h0m131 -148h0m-163 139h0m139 344h0m42 -216h0m-67 106h0m227 -287h0m-210 384h0m119 -344h0m-107 357h0m-188 -217h0m241 153h0m-256 -104h0m177 34h0m0 22h0m6 141h0m39 -22h0m-227 -229h0m293 -140h0m-186 131h0m67 -22h0m11 238h0m-177 -175h0m159 180h0m44 -183h0m-6 210h0m-32 -95h0m218 -34h0m-105 -332h0m-86 173h0m-182 112h0m47 -85h0m261 50h0m-154 -92h0m26 222h0m56 -16h0m-81 113h0m6 -20h0m4 -415h0m157 110h0m-64 6h0m117 -55h0m-135 198h0m-178 -137h0m164 82h0m-228 -3h0m10 -26h0m-7 33h0m193 71h0m-211 -109h0m160 270h0m82 -165h0m-105 132h0m30 -22h0m26 23h0m28 -253h0m-227 42h0m10 -134h0m282 270h0m-229 -266h0m166 108h0m-60 -71h0m-32 -21h0m-16 -2h0m21 24h0m-72 72h0m-16 5h0m6 -11h0m197 188h0m-71 -156h0m121 132h0m-89 -85h0m105 15h0m-274 -214h0m124 12h0m121 182h0m19 -75h0m97 134h0m-136 66h0m-82 -130h0m52 -225h0m-62 369h0m-79 -257h0m105 258h0m17 10h0m-43 28h0m-28 -408h0m21 114h0m67 77h0m-6 -50h0m4 -32h0m-21 79h0m-37 139h0m65 -98h0m-18 43h0m-233 -43h0m37 -38h0m143 -57h0m-97 -31h0m-45 -55h0m141 238h0m34 -206h0" stroke="#6826fe" stroke-width="4.2" stroke-linecap="round"/>
<path d="M325 2383h0m9 -110h0m-25 102h0m61 -195h0m-102 -45h0m37 -108h0m-197 202h0m302 116h0m-131 -174h0m-81 -21h0m99 205h0m-101 -231h0m100 231h0m-133 -228h0m230 130h0m-121 99h0m81 44h0m-153 -263h0m115 223h0m-2 -112h0m-36 141h0m47 -159h0m-27 197h0m-169 -198h0m132 -57h0m14 8h0m14 -76h0m93 182h0m-117 -132h0m49 296h0m-19 -113h0m51 -151h0m-49 195h0m-159 -268h0m-6 109h0m-27 20h0m190 74h0m51 -239h0m-214 135h0m162 89h0m22 52h0m-95 -177h0m97 53h0m87 42h0m-162 -179h0m112 77h0m2 170h0m-197 -224h0m137 -23h0m-132 118h0m-26 0h0m-21 -11h0m156 5h0m56 137h0m-38 18h0m27 -41h0m-27 -121h0m45 137h0m2 -311h0m14 140h0m-135 -34h0m151 144h0m-56 89h0m43 -121h0m-90 22h0m-132 -108h0m248 40h0m-2 79h0m-42 43h0m95 -46h0m-78 123h0m-46 -30h0m-33 -216h0m-30 -27h0m14 241h0m30 37h0m87 -91h0m-96 -207h0m170 99h0m-61 207h0m-181 -252h0m125 232h0m-17 -173h0m30 -4h0m41 155h0m-148 -206h0m130 127h0m-168 -123h0m-9 -1h0m169 -29h0m-257 77h0m74 -160h0m16 43h0m73 314h0m150 -84h0m-131 35h0m24 -127h0m-29 54h0m25 111h0m100 -233h0m-289 27h0m167 215h0m4 -319h0m95 63h0m-128 1h0m-11 -10h0m45 -10h0m94 210h0m-102 -191h0m50 79h0m-16 -8h0m59 -4h0m24 -453h0m-225 380h0m162 273h0m58 -133h0m-117 -68h0m111 32h0m-80 18h0m57 -79h0m-36 193h0m-45 -241h0m50 151h0m-7 -76h0m-20 130h0m155 -55h0m-124 33h0m-92 -215h0m114 213h0m94 -39h0m-240 -246h0m106 148h0m-204 33h0m250 153h0m-75 57h0m23 -300h0m-34 247h0m-6 11h0m50 -296h0m-15 218h0m3 -103h0m61 -59h0m-29 64h0m-23 188h0m-15 -155h0m26 68h0m-15 39h0m7 64h0m-35 -226h0m100 134h0m-79 -29h0m-18 -168h0m31 161h0m-108 -180h0m36 48h0m57 248h0m-6 -212h0m19 161h0m-44 -165h0m50 208h0m40 -103h0m-129 -111h0m53 103h0m201 -33h0m-157 70h0m-58 -64h0m67 -31h0m-21 3h0m-5 140h0m87 -139h0m-127 196h0" stroke="#504afc" stroke-width="4.2" stroke-linecap="round"/>
<path d="M116 2230h0m19 -116h0m172 240h0m-149 -420h0m-36 274h0m183 105h0m-190 -130h0m121 249h0m52 -8h0m-26 20h0m87 -214h0m62 -28h0m-176 -27h0m-51 -88h0m120 224h0m-75 -224h0m164 33h0m-96 256h0m65 -196h0m-260 79h0m289 -113h0m-32 181h0m-238 -213h0m1 45h0m175 173h0m-143 -121h0m164 101h0m-31 15h0m5 -47h0m146 1h0m-66 60h0m-70 -22h0m-74 -204h0m179 -242h0m-145 559h0m66 -136h0m32 -278h0m-204 151h0m184 -37h0m-151 52h0m23 -64h0m356 29h0m-420 42h0m173 253h0m-13 -145h0m9 56h0m-24 -51h0m7 -88h0m32 -82h0m-66 -64h0m58 76h0m-16 250h0m16 -57h0m-4 -55h0m-104 -104h0m55 -307h0m91 482h0m-39 -296h0m-20 145h0m61 167h0m-38 3h0m-52 -208h0m-114 7h0m172 -239h0m-71 460h0m33 -124h0m-13 142h0m56 -84h0m21 -49h0m-6 -81h0m-170 -20h0m102 191h0m34 -149h0m43 77h0m-57 -110h0m-18 152h0m265 -371h0m-299 158h0m33 163h0m95 70h0m-128 -212h0m34 -45h0m-80 64h0m53 249h0m8 -242h0m74 113h0m-25 -154h0m-199 94h0m181 155h0m55 -220h0m-214 57h0m178 -73h0m22 146h0m-242 -82h0m187 178h0m76 -291h0m-16 69h0m-7 99h0m-27 -135h0m64 -96h0m-78 328h0m112 71h0m86 -438h0m-117 98h0m-94 328h0m101 -205h0m-41 54h0m-187 -78h0m105 173h0m72 -56h0m198 -110h0m-235 201h0m-46 -255h0m-16 -10h0m27 267h0m-96 -269h0m117 229h0m10 -170h0m25 233h0m-43 -42h0m125 -117h0m-158 -195h0m-88 127h0m224 -153h0m152 107h0m-109 77h0m-119 162h0m-23 -52h0m-157 -189h0m204 273h0m19 -76h0m-82 -236h0m19 62h0m68 -39h0m-13 119h0m28 75h0m-64 84h0m-196 -316h0m264 1h0m-43 112h0m1 196h0m-80 -302h0m-10 -55h0m118 150h0m-244 10h0m222 200h0m17 -268h0m-61 313h0m10 -477h0m37 139h0m-144 74h0m112 165h0m16 -234h0m40 146h0m-11 -199h0m-65 149h0m-28 197h0m-74 -286h0m105 -50h0m-91 80h0m73 46h0m0 213h0m99 -294h0m3 118h0" stroke="#386df9" stroke-width="4.2" stroke-linecap="round"/>
<path d="M302 2216h0m-16 50h0m64 -227h0m-12 345h0m-146 -277h0m105 -8h0m23 213h0m-37 65h0m19 -345h0m-42 417h0m77 -261h0m-244 58h0m38 -61h0m237 -9h0m-275 50h0m236 41h0m-39 86h0m64 -189h0m132 -241h0m-220 389h0m26 49h0m17 -128h0m78 40h0m-52 51h0m49 -75h0m-69 -119h0m-23 269h0m65 -346h0m-186 124h0m-43 53h0m300 -330h0m-31 225h0m-104 227h0m36 -282h0m55 -7h0m-125 124h0m49 73h0m-14 25h0m-176 -34h0m241 36h0m-59 29h0m9 65h0m-76 -266h0m64 280h0m-9 -347h0m-13 68h0m-118 83h0m161 9h0m-132 -85h0m157 125h0m-55 77h0m39 2h0m83 -2h0m-53 -105h0m-138 -136h0m87 279h0m-214 -154h0m307 -113h0m-130 219h0m20 -167h0m-95 26h0m64 249h0m71 -236h0m-30 201h0m5 -122h0m42 -44h0m-53 187h0m9 -270h0m-107 12h0m82 262h0m55 -52h0m-134 -224h0m198 2h0m36 85h0m-150 102h0m15 -81h0m25 87h0m28 -144h0m-6 221h0m-208 -262h0m166 222h0m-6 -28h0m30 -152h0m-31 114h0m46 75h0m-234 -116h0m73 -99h0m95 226h0m42 20h0m23 -170h0m-186 -133h0m161 297h0m73 -364h0m-85 363h0m14 -329h0m28 217h0m-174 -132h0m188 -185h0m-6 366h0m-32 34h0m-30 -159h0m-78 -30h0m280 111h0m-209 9h0m-22 104h0m-60 -258h0m130 138h0m-27 -58h0m-5 123h0m9 -129h0m91 75h0m-123 45h0m33 -31h0m-31 38h0m22 -90h0m46 145h0m-142 -232h0m-61 13h0m125 250h0m-45 -317h0m32 -69h0m-128 187h0m265 -83h0m-35 112h0m-87 -249h0m-138 199h0m132 -142h0m33 165h0m-159 -49h0m295 0h0m-93 -67h0m-233 33h0m182 190h0m-14 31h0m-151 -165h0m154 143h0m150 -57h0m-201 -131h0m90 98h0m-11 -98h0m22 232h0m-37 -56h0m-31 91h0m25 -374h0m-58 85h0m187 68h0m-198 -80h0m166 135h0m-1 15h0m-121 153h0m-35 -271h0m-47 11h0m169 200h0m-67 23h0m-47 -288h0m74 150h0m96 158h0m-32 -352h0m94 201h0m-320 -97h0m3 -35h0m412 -261h0m-276 381h0m-1 52h0m20 75h0m-39 -25h0m85 -256h0m-15 -108h0m-9 351h0m-159 -199h0m86 236h0m68 27h0m10 -57h0m-107 -297h0m51 120h0m-119 32h0m159 50h0m175 -163h0m-325 -21h0m106 276h0m56 -118h0m-9 56h0m-21 20h0" stroke="#208ef4" stroke-width="4.2" stroke-linecap="round"/>
<path d="M266 2342h0m129 -49h0m-132 106h0m43 -188h0m30 35h0m3 119h0m-161 -170h0m121 124h0m-122 -274h0m145 182h0m87 -2h0m19 59h0m-328 -68h0m204 127h0m14 -64h0m-195 -156h0m227 93h0m-181 -66h0m203 -47h0m-25 167h0m-57 132h0m-113 -263h0m246 35h0m-39 87h0m-280 -9h0m52 -64h0m-25 -28h0m188 61h0m-13 83h0m-4 36h0m131 2h0m-113 16h0m-25 -123h0m11 -223h0m31 282h0m-55 26h0m73 -296h0m-83 269h0m-148 -67h0m309 102h0m-254 -257h0m63 -14h0m48 272h0m-169 -91h0m51 -206h0m135 259h0m-40 83h0m58 -222h0m-26 94h0m288 -221h0m-459 168h0m196 -76h0m43 194h0m-103 -153h0m-116 3h0m67 -12h0m62 198h0m-41 -236h0m-87 106h0m127 151h0m-115 -155h0m143 18h0m71 -158h0m-63 253h0m8 -99h0m135 -164h0m-146 214h0m-184 -40h0m205 23h0m-199 -94h0m158 97h0m13 69h0m-161 -127h0m167 -40h0m0 141h0m6 82h0m-44 4h0m59 -84h0m-55 -110h0m-156 44h0m257 -219h0m44 23h0m-232 144h0m119 135h0m-37 -230h0m2 315h0m53 -164h0m82 50h0m-31 -260h0m-73 9h0m-1 278h0m-1 8h0m0 -138h0m8 161h0m17 40h0m17 -98h0m125 21h0m-117 -64h0m107 -277h0m-98 211h0m-230 -20h0m186 14h0m-172 36h0m169 181h0m-120 -325h0m121 266h0m24 -121h0m-217 -26h0m222 110h0m-83 86h0m-158 -162h0m160 -105h0m23 192h0m42 -26h0m-3 135h0m13 -271h0m-86 -275h0m-115 325h0m167 -129h0m-159 56h0m60 49h0m26 -32h0m121 -75h0m38 155h0m168 78h0m-214 25h0m17 -43h0m-140 -108h0m32 223h0m-33 -277h0m58 250h0m41 -213h0m75 150h0m-126 117h0m113 -114h0m-97 -129h0m70 41h0m-72 108h0m-17 49h0m-165 -143h0m190 60h0m-21 -162h0m197 38h0m-284 6h0m-44 8h0m286 69h0m-110 56h0m2 92h0m181 -188h0m-203 -85h0m-9 253h0m-97 -272h0m161 200h0m28 -124h0m81 37h0m-176 147h0m-157 -108h0m203 25h0m-54 31h0m-110 -163h0m-8 23h0m25 -35h0m31 -31h0m113 121h0m-208 28h0m213 123h0m-56 2h0m36 -221h0m14 133h0m-97 -186h0m39 315h0m45 -223h0m1 88h0m81 8h0m82 53h0m-106 -212h0m-43 106h0m-8 81h0m-49 53h0" stroke="#08acee" stroke-width="4.2" stroke-linecap="round"/>
<path d="M309 2339h0m-70 -179h0m-112 56h0m136 -37h0m-91 -36h0m116 73h0m16 217h0m-105 -319h0m187 11h0m-186 -25h0m136 285h0m5 -39h0m30 -29h0m-66 89h0m244 -20h0m-329 -327h0m79 269h0m-79 -165h0m147 -281h0m-157 271h0m143 173h0m-6 -218h0m-64 200h0m-144 -106h0m165 -1h0m46 141h0m-17 22h0m-65 80h0m26 -117h0m-10 -4h0m31 22h0m20 84h0m-67 -275h0m-120 -47h0m181 221h0m72 -182h0m-48 119h0m-45 -52h0m89 41h0m-195 -108h0m141 119h0m-31 -83h0m-37 244h0m2 -12h0m0 -22h0m41 -31h0m-122 -220h0m98 298h0m1 -150h0m60 -100h0m-157 9h0m91 156h0m-50 -258h0m205 74h0m-16 51h0m-332 -16h0m308 30h0m-23 -42h0m-11 109h0m47 -141h0m-231 24h0m95 -72h0m105 118h0m-137 -125h0m-18 44h0m1 -56h0m101 152h0m-6 77h0m-28 4h0m-19 66h0m-14 -2h0m-32 -373h0m-78 148h0m157 209h0m-26 -109h0m137 -34h0m-117 -133h0m17 205h0m-7 7h0m76 39h0m-288 -201h0m165 299h0m41 -92h0m-39 -231h0m2 -209h0m50 364h0m-3 -110h0m4 9h0m-35 187h0m31 -24h0m11 -166h0m-194 35h0m284 29h0m-103 -139h0m-146 19h0m-18 95h0m149 -92h0m-26 188h0m-134 -153h0m215 8h0m-22 103h0m-72 42h0m35 35h0m25 -125h0m12 -85h0m-182 -29h0m52 14h0m83 39h0m47 140h0m12 -57h0m-49 29h0m28 -65h0m-8 108h0m-221 -68h0m38 -24h0m163 67h0m75 -79h0m-37 80h0m19 -43h0m-125 -150h0m57 278h0m-5 -188h0m89 -88h0m-183 -16h0m51 286h0m137 -30h0m-147 -225h0m101 228h0m4 8h0m-24 -74h0m-6 -29h0m5 91h0m81 -58h0m-196 -130h0m23 16h0m107 196h0m-82 -305h0m29 304h0m103 -295h0m-92 305h0m-8 -72h0m8 139h0m-146 -307h0m181 128h0m4 93h0m-134 -262h0m64 308h0m-119 -200h0m144 53h0m387 -393h0m-369 416h0m-68 -103h0m-94 42h0m208 175h0m-52 -190h0m-99 -47h0m99 220h0m6 -98h0m55 -142h0m-49 276h0m-45 -56h0m-60 -208h0m256 -30h0m-356 43h0m13 -4h0m181 -103h0m72 198h0" stroke="#12c8e6" stroke-width="4.2" stroke-linecap="round"/>
<path d="M324 2204h0m-33 90h0m92 123h0m-247 -240h0m149 -10h0m-11 194h0m14 -14h0m-174 -124h0m3 0h0m185 73h0m-2 158h0m11 -342h0m2 195h0m20 -36h0m-94 -118h0m15 259h0m106 -204h0m-103 176h0m-132 -180h0m230 167h0m-40 23h0m110 -135h0m-305 -107h0m212 -2h0m-44 129h0m-119 -142h0m117 42h0m-87 -108h0m-42 88h0m278 -38h0m-120 248h0m118 -56h0m-160 136h0m65 -108h0m-43 -158h0m19 87h0m42 14h0m49 5h0m-103 83h0m20 -149h0m7 108h0m-42 -53h0m14 87h0m-16 -65h0m43 4h0m-41 88h0m112 -228h0m-85 147h0m-58 -214h0m-106 46h0m164 39h0m-102 -42h0m127 175h0m-30 -26h0m94 -23h0m-153 -225h0m-59 148h0m167 -35h0m-205 47h0m133 151h0m44 76h0m-70 13h0m138 -456h0m-278 244h0m270 66h0m-102 108h0m-166 -208h0m134 -16h0m-108 6h0m201 72h0m-258 0h0m258 93h0m-220 -152h0m113 -56h0m40 254h0m-7 -86h0m-10 -144h0m30 188h0m18 -123h0m13 166h0m-23 -112h0m-53 97h0m94 -99h0m-69 -126h0m-36 -74h0m124 150h0m81 -154h0m-174 238h0m55 -115h0m-107 -63h0m85 103h0m69 111h0m-12 -47h0m-45 -54h0m-61 198h0m11 -64h0m130 -105h0m-247 -69h0m151 49h0m-10 32h0m93 -68h0m-51 33h0m-42 -157h0m280 175h0m-450 -44h0m-9 -61h0m229 134h0m-56 -33h0m-42 166h0m149 -295h0m-86 201h0m-78 -251h0m108 152h0m-99 197h0m98 -97h0m-15 -177h0m21 -40h0m-116 -19h0m103 174h0m-71 153h0m45 -103h0m-48 86h0m3 -235h0m203 29h0m-59 57h0m-148 182h0m-159 -219h0m125 -107h0m-117 84h0m203 149h0m35 -218h0m-7 162h0m0 7h0m-215 -49h0m-4 -15h0m99 -133h0m144 161h0m-61 -218h0m-112 41h0m-26 75h0m156 36h0m-26 171h0m27 -103h0m132 -116h0m-166 293h0m105 -221h0m-89 28h0m-26 40h0m-37 -139h0m-85 41h0m130 62h0m116 157h0m-176 -280h0m126 140h0m-119 -121h0m65 184h0m-140 -180h0m192 120h0m-83 118h0m104 -175h0m-59 -40h0m17 26h0m-136 -23h0m83 211h0m98 -202h0m-44 77h0m-225 -198h0m212 250h0m-45 51h0m122 -320h0m-125 25h0m19 365h0m50 -93h0m-42 -28h0m53 -21h0m12 143h0m-51 -169h0" stroke="#2adddd" stroke-width="4.2" stroke-linecap="round"/>
<path d="M297 2212h0m27 133h0m-18 -139h0m-102 -108h0m58 33h0m-8 -92h0m32 251h0m-125 -117h0m27 -64h0m113 319h0m-6 -39h0m146 8h0m-319 -181h0m225 13h0m-90 -49h0m130 21h0m-105 106h0m-100 -116h0m-39 -41h0m153 74h0m-125 -62h0m79 227h0m74 -48h0m-50 31h0m44 -156h0m-17 93h0m-7 119h0m-35 -258h0m6 281h0m169 -108h0m-139 5h0m-27 -15h0m-155 -126h0m305 136h0m-315 -182h0m200 151h0m-22 60h0m48 41h0m20 -225h0m-44 229h0m32 -115h0m-1 -49h0m-160 -107h0m88 284h0m165 -174h0m-302 6h0m59 -110h0m115 29h0m25 64h0m-8 -4h0m-11 133h0m-109 -204h0m142 -63h0m-76 296h0m40 -35h0m22 -1h0m47 -3h0m13 -253h0m-77 164h0m-11 -162h0m3 134h0m121 89h0m-269 -158h0m57 -27h0m33 236h0m109 -217h0m-11 38h0m-33 106h0m-9 -86h0m48 18h0m36 165h0m-92 -239h0m7 198h0m-29 -65h0m22 9h0m2 104h0m62 -64h0m-100 99h0m-113 -242h0m11 -62h0m-43 62h0m176 123h0m71 -73h0m-182 -75h0m175 217h0m63 -196h0m-36 64h0m-79 -81h0m-188 44h0m160 172h0m49 -88h0m-33 -35h0m57 92h0m-44 -122h0m-204 4h0m71 -95h0m180 192h0m-81 -352h0m19 393h0m-1 -77h0m-81 -137h0m122 197h0m19 -71h0m-88 87h0m55 -141h0m43 -84h0m-62 226h0m50 -83h0m-105 -307h0m20 386h0m51 -251h0m1 258h0m261 -265h0m-255 184h0m27 -18h0m-99 -150h0m27 196h0m22 -90h0m-42 155h0m-132 -274h0m252 55h0m-104 217h0m-16 -242h0m83 233h0m-33 -268h0m-40 -28h0m184 57h0m-181 268h0m16 -254h0m93 138h0m77 -223h0m-167 280h0m81 -72h0m-272 -10h0m40 -130h0m159 185h0m26 63h0m33 -141h0m-105 -112h0m46 97h0m23 51h0m-6 -251h0m-26 312h0m-33 -221h0m321 -79h0m-277 273h0m76 -80h0m-63 124h0m-16 4h0m68 -57h0m-224 -114h0m175 155h0m55 -200h0m4 213h0m-16 -431h0m-45 401h0m-166 -107h0m2 -112h0m169 221h0m8 -172h0m-38 138h0m-132 -136h0m138 204h0m232 -137h0m-204 48h0m-35 37h0m-35 -186h0m130 31h0m-117 216h0m65 -31h0m-20 -92h0m34 133h0m-40 -103h0m-176 -57h0m244 -15h0m26 161h0m-109 -42h0m34 67h0m-139 -217h0m250 -35h0m-115 81h0m-19 -99h0m-176 111h0m203 43h0m36 -147h0m-120 246h0m-37 -292h0m156 261h0m-36 -87h0m32 -132h0m-89 238h0m-19 1h0m-52 -219h0m88 205h0m109 -188h0m-184 -52h0m78 153h0m1 11h0m37 -157h0" stroke="#42edd3" stroke-width="4.2" stroke-linecap="round"/>
<path d="M137 2191h0m263 137h0m-160 -258h0m160 171h0m-291 -8h0m167 -168h0m23 173h0m84 72h0m-94 28h0m35 -196h0m-27 159h0m24 79h0m-22 -245h0m73 115h0m-220 -36h0m269 -1h0m-280 -65h0m-51 94h0m207 -209h0m11 243h0m-41 145h0m-148 -209h0m195 138h0m-40 -59h0m-48 -184h0m-6 43h0m60 300h0m3 -72h0m47 -108h0m-54 123h0m-157 -196h0m59 -22h0m104 32h0m7 -22h0m-8 195h0m-30 -425h0m169 331h0m-35 -167h0m-71 254h0m106 -140h0m-62 135h0m-69 -187h0m-8 166h0m179 -3h0m-146 57h0m-21 -48h0m-35 -256h0m47 160h0m60 27h0m-80 31h0m-160 -105h0m285 -42h0m-113 124h0m88 -219h0m-231 75h0m134 247h0m-14 -46h0m109 -70h0m-148 -115h0m50 232h0m152 -155h0m-167 116h0m-139 -206h0m148 45h0m31 86h0m25 56h0m-77 -192h0m71 239h0m-184 -180h0m119 210h0m102 -102h0m40 -38h0m-53 55h0m-14 14h0m-176 -157h0m164 183h0m-185 -166h0m144 -31h0m40 126h0m-207 -53h0m142 74h0m-53 -223h0m203 68h0m-86 205h0m-44 -17h0m23 -103h0m89 -240h0m-90 305h0m14 -9h0m-5 -166h0m12 109h0m-140 -76h0m113 122h0m105 -115h0m-157 228h0m68 -125h0m54 -243h0m-93 297h0m61 -129h0m-65 123h0m2 64h0m58 -130h0m-56 89h0m49 -197h0m-48 -24h0m30 139h0m-9 138h0m-13 -157h0m-168 -50h0m161 140h0m39 -3h0m-28 35h0m39 -54h0m-54 51h0m-128 -251h0m170 122h0m-171 -23h0m98 -49h0m80 155h0m177 -270h0m-395 226h0m166 72h0m-21 -171h0m214 149h0m-161 27h0m9 -23h0m-188 -138h0m149 -85h0m5 185h0m-152 -88h0m171 85h0m12 80h0m-24 -2h0m52 -327h0m-226 195h0m151 119h0m22 -195h0m-116 -43h0m140 275h0m7 -35h0m-20 -84h0m-136 -71h0m245 -96h0m-126 297h0m117 -205h0m-20 76h0m-94 23h0m47 -162h0m5 149h0m-7 -34h0m-72 -190h0m20 338h0m-19 21h0m17 -267h0m51 214h0m-15 -75h0m2 -15h0m-2 -28h0m-3 -27h0m10 152h0m-221 -174h0m67 -59h0m131 -38h0m-152 65h0m80 -24h0m94 272h0m39 -87h0m-234 -71h0m150 82h0m42 -146h0m-125 -9h0m255 206h0m-76 13h0m-102 -263h0m-40 24h0m42 235h0m-10 -2h0m45 16h0m-47 -9h0m-152 -175h0m232 25h0m-18 111h0m-11 34h0m-28 -36h0m77 -152h0m-26 8h0m-19 -88h0m-68 -57h0m219 139h0m-199 206h0m-10 -2h0m36 -40h0m150 -373h0m-40 230h0m-46 8h0m-80 -129h0m-136 69h0m165 159h0m-59 52h0m126 -329h0m-69 329h0" stroke="#5af8c8" stroke-width="4.2" stroke-linecap="round"/>
<path d="M307 2138h0m186 112h0m-202 36h0m-34 93h0m-34 -309h0m62 342h0m54 -163h0m-151 -112h0m233 12h0m19 142h0m-294 -68h0m212 -5h0m-1 -31h0m-17 -74h0m-188 61h0m224 14h0m63 16h0m-115 18h0m40 -125h0m125 -39h0m-227 361h0m119 -252h0m-133 -79h0m107 194h0m-100 53h0m26 50h0m-89 -193h0m166 -94h0m-70 206h0m-38 -147h0m18 241h0m-14 2h0m-11 -221h0m46 219h0m-158 -217h0m161 83h0m128 -19h0m-195 -145h0m31 275h0m17 7h0m84 -117h0m-172 -216h0m120 29h0m26 138h0m-9 39h0m-75 130h0m12 51h0m63 -370h0m-97 41h0m173 144h0m-298 0h0m131 143h0m63 -34h0m89 -241h0m-126 286h0m61 -148h0m-4 -86h0m-20 144h0m1 109h0m93 -118h0m-108 -19h0m53 -191h0m-17 237h0m-27 -36h0m-162 -40h0m229 160h0m-10 -99h0m-3 -105h0m-54 10h0m29 33h0m-154 -55h0m-48 43h0m9 -28h0m225 -32h0m-237 48h0m190 45h0m-29 151h0m44 -165h0m-26 35h0m-179 -30h0m143 141h0m-6 -69h0m-35 -183h0m81 148h0m7 -176h0m-43 278h0m9 -30h0m3 -37h0m7 -41h0m36 -89h0m-17 37h0m56 131h0m-33 -61h0m80 -122h0m-146 -71h0m-32 26h0m4 8h0m-97 77h0m214 95h0m-72 6h0m4 -183h0m-15 -6h0m3 307h0m87 -142h0m-82 28h0m79 -37h0m-48 -32h0m66 -120h0m-80 165h0m12 -27h0m-13 16h0m160 -75h0m-170 -35h0m28 219h0m-33 -343h0m-109 52h0m141 210h0m-136 -149h0m135 -27h0m4 123h0m-14 -34h0m-190 26h0m286 -126h0m-93 247h0m80 -44h0m-96 -259h0m76 168h0m-82 117h0m-93 -183h0m130 140h0m48 -90h0m-68 61h0m72 -90h0m-113 167h0m48 22h0m155 -117h0m-187 111h0m30 -210h0m47 190h0m3 -169h0m-55 113h0m-95 -307h0m96 108h0m32 156h0m-43 132h0m14 -62h0m-61 -183h0m72 170h0m67 13h0m-59 -141h0m-36 140h0m232 -239h0m-211 38h0m21 136h0m57 -123h0m-7 10h0m-84 114h0m-18 137h0m2 -14h0m0 49h0m149 -191h0m-60 -36h0m-60 150h0m42 -232h0m-53 136h0m94 -54h0m-2 -46h0m-132 -14h0m152 -61h0m-155 275h0m28 -4h0m-104 -211h0m-5 8h0m119 162h0m-21 -231h0m63 311h0m20 -239h0m14 19h0m-232 -45h0m287 210h0m0 -431h0m-118 251h0m-113 -34h0m94 198h0m6 -16h0m-23 -432h0m35 424h0m-34 92h0m18 -49h0m73 -170h0m-61 -101h0m3 320h0m-35 -244h0m-111 -2h0m-13 75h0m158 40h0m-79 -247h0m32 377h0m34 -279h0m197 189h0m-84 -36h0m-37 28h0m-98 -161h0m46 164h0m-79 115h0m33 -79h0m49 -13h0m50 -177h0m87 -40h0m-311 107h0m196 70h0m5 30h0m-47 -170h0m35 176h0m-200 -111h0m151 104h0m74 -266h0m-53 304h0m15 -50h0m-19 72h0m1 -80h0m-197 -71h0m241 154h0" stroke="#72febb" stroke-width="4.2" stroke-linecap="round"/>
<path d="M249 2401h0m-16 -1h0m77 -48h0m-38 -10h0m6 100h0m-118 -255h0m-42 37h0m156 187h0m-1 -84h0m28 -197h0m26 211h0m-78 77h0m-109 -223h0m133 173h0m-124 -193h0m115 199h0m242 -340h0m-261 98h0m69 129h0m-16 25h0m0 36h0m90 -273h0m-87 194h0m32 37h0m-75 30h0m-2 35h0m-12 -235h0m160 -118h0m-239 132h0m59 312h0m23 -26h0m18 -38h0m42 -169h0m-35 -51h0m35 244h0m-6 -39h0m-175 -123h0m212 75h0m125 -181h0m-144 305h0m-204 -203h0m144 151h0m-48 -230h0m-100 92h0m163 153h0m101 -109h0m-76 83h0m-52 37h0m82 -91h0m-69 -157h0m27 184h0m-111 -249h0m-69 192h0m300 -252h0m-120 329h0m-26 40h0m-31 -306h0m38 283h0m36 -71h0m-4 -106h0m-188 45h0m196 79h0m60 -127h0m-247 9h0m335 71h0m-198 120h0m-41 -247h0m-73 51h0m142 231h0m-8 -158h0m-6 123h0m-18 41h0m-39 -341h0m59 26h0m-131 111h0m205 120h0m-79 4h0m18 88h0m-2 -176h0m-142 -83h0m166 141h0m33 -124h0m18 165h0m-45 -134h0m-59 120h0m29 -161h0m-52 229h0m-94 -294h0m8 2h0m-30 81h0m190 147h0m-6 -40h0m-45 116h0m20 -46h0m-7 -68h0m144 -95h0m-225 -109h0m96 260h0m-19 -84h0m63 37h0m-11 -47h0m-202 -70h0m267 -36h0m-106 155h0m-16 19h0m147 -128h0m-121 71h0m-32 50h0m21 -170h0m-147 9h0m185 156h0m-170 -167h0m298 217h0m-189 2h0m-140 -157h0m139 158h0m1 -205h0m80 2h0m21 153h0m-209 -189h0m-2 7h0m127 217h0m98 -155h0m-111 158h0m60 -96h0m-39 27h0m156 83h0m-142 -112h0m-38 126h0m134 -86h0m-76 -153h0m38 131h0m-64 1h0m31 -174h0m-101 14h0m108 219h0m118 -175h0m-128 172h0m-107 -353h0m152 264h0m-192 -84h0m54 -14h0m38 199h0m-7 -217h0m179 59h0m-152 153h0m62 -7h0m-39 21h0m-5 -178h0m-152 -2h0m120 216h0m-106 -221h0m118 175h0m-137 -192h0m140 101h0m21 -26h0m77 -177h0m45 -7h0m-116 228h0m-22 -7h0m52 -51h0m-71 93h0m-128 -189h0m82 3h0m-119 40h0m231 33h0m82 76h0m-144 122h0m-99 -223h0m163 -71h0m-199 58h0m66 -71h0m48 -150h0m63 371h0m3 -12h0m-21 -115h0m-22 190h0m-129 -189h0m209 4h0m-42 245h0m-176 -343h0m259 194h0m-61 -161h0m-50 41h0m316 -175h0m-317 346h0m1 2h0m21 -192h0m9 58h0m7 107h0m-184 -128h0" stroke="#8cfead" stroke-width="4.2" stroke-linecap="round"/>
<path d="M327 2246h0m-20 141h0m-165 -191h0m144 -25h0m-2 259h0m-7 -50h0m97 -343h0m38 169h0m-99 160h0m58 -108h0m-83 -7h0m-51 -69h0m62 123h0m-32 49h0m-10 67h0m14 -131h0m100 -27h0m-264 -14h0m156 119h0m157 -119h0m-96 43h0m19 100h0m-11 -119h0m10 -192h0m-231 113h0m236 -16h0m-67 108h0m-4 75h0m8 -200h0m124 183h0m-31 -37h0m-132 95h0m19 35h0m-73 -309h0m98 -57h0m-174 163h0m142 122h0m-106 -173h0m224 93h0m-282 -108h0m126 -16h0m72 148h0m95 -237h0m-82 253h0m46 -116h0m-109 208h0m38 -84h0m18 -135h0m-19 245h0m240 -205h0m-250 57h0m24 -67h0m21 -126h0m-188 137h0m161 -33h0m-35 176h0m118 -170h0m-65 80h0m-44 151h0m31 -331h0m-10 241h0m-23 43h0m109 -363h0m-119 144h0m36 181h0m-12 -108h0m39 92h0m4 -15h0m19 122h0m-77 12h0m104 -317h0m-122 245h0m-117 -125h0m1 -52h0m59 -87h0m198 62h0m-179 -91h0m-17 77h0m211 74h0m-233 -29h0m133 188h0m-42 -21h0m-154 -143h0m208 88h0m-57 82h0m37 -92h0m13 11h0m-84 -170h0m80 200h0m-169 -117h0m169 81h0m-2 16h0m13 103h0m69 -435h0m-62 380h0m-17 17h0m93 -112h0m-156 128h0m5 28h0m-138 -242h0m155 228h0m33 -489h0m29 178h0m30 122h0m-211 -101h0m-32 133h0m176 54h0m-153 -170h0m166 182h0m-22 42h0m-121 -221h0m147 215h0m-79 -322h0m47 324h0m-7 -236h0m13 281h0m-150 -208h0m87 -79h0m-91 103h0m214 -145h0m-84 285h0m19 -64h0m-16 105h0m35 -21h0m6 -145h0m13 -317h0m-45 390h0m4 -214h0m0 312h0m79 -281h0m-12 109h0m-8 41h0m-192 -55h0m147 164h0m-29 6h0m8 -9h0m38 -281h0m-3 194h0m66 -28h0m-54 -45h0m24 77h0m19 -7h0m-45 -5h0m-182 -51h0m126 185h0m58 -63h0m43 -259h0m-78 13h0m16 282h0m42 -40h0m-67 18h0m48 -137h0m25 81h0m-52 -7h0m-20 87h0m-154 -175h0m211 88h0m-9 68h0m41 10h0m-170 -336h0m174 -44h0m-232 89h0m103 289h0m-62 -221h0m53 -17h0m40 282h0m37 -61h0m140 -226h0m-139 211h0m39 -514h0m-85 535h0m0 -10h0m7 -187h0m-31 238h0m-23 -260h0m60 142h0m53 33h0m-132 -186h0m128 161h0m-13 -26h0m-50 127h0m-114 -257h0m145 55h0m-133 5h0m146 -16h0m-47 192h0m-96 -201h0m207 71h0m-96 42h0m-75 -205h0m181 305h0m-57 -230h0m2 76h0m-14 160h0m-10 -23h0m25 -83h0m16 -16h0m-36 8h0m96 -33h0m-108 160h0m-9 -59h0m53 -3h0m-4 27h0m-47 -281h0m90 186h0m12 -72h0m-119 145h0m-22 -221h0m35 220h0m72 -105h0m-55 185h0m3 -124h0m-35 63h0m104 41h0m-101 -283h0m71 100h0m-132 -77h0m109 263h0m87 -95h0m-299 -113h0m192 -311h0m-16 228h0m-4 265h0m-106 -288h0m85 -41h0m30 263h0m-115 -139h0m174 40h0m-191 -94h0m167 192h0m-184 -90h0m172 157h0m45 -157h0m-76 109h0m38 -74h0m-58 -277h0m-38 156h0m27 230h0m49 -183h0m-19 -49h0m5 -31h0m31 224h0m92 -220h0m-152 249h0m-20 43h0m63 -254h0" stroke="#a4f89f" stroke-width="4.2" stroke-linecap="round"/>
<path d="M233 2109h0m61 141h0m49 -154h0m-108 77h0m7 251h0m106 -180h0m15 125h0m-72 -4h0m-50 26h0m24 -24h0m-80 -229h0m-10 13h0m57 1h0m-117 104h0m213 80h0m-42 111h0m116 -409h0m-278 202h0m118 -165h0m59 158h0m-25 127h0m-185 -85h0m282 -95h0m-228 -1h0m-28 30h0m317 99h0m-179 62h0m-2 -14h0m59 -185h0m-7 7h0m-5 58h0m-71 202h0m77 -225h0m57 -166h0m79 106h0m-185 -10h0m27 83h0m-4 132h0m-127 -155h0m-1 2h0m241 -82h0m-103 200h0m-186 -36h0m109 -270h0m97 376h0m-13 -82h0m-101 -122h0m140 117h0m-185 -115h0m114 76h0m26 112h0m-54 1h0m-19 -245h0m172 -17h0m-144 247h0m-58 -288h0m28 -46h0m169 157h0m-244 42h0m187 130h0m-57 77h0m10 -49h0m108 -324h0m-109 336h0m-15 5h0m48 -143h0m56 129h0m-67 -136h0m68 84h0m-248 -112h0m292 83h0m-124 80h0m-103 -289h0m95 211h0m-1 93h0m-13 -85h0m20 90h0m-32 -228h0m63 139h0m43 16h0m-137 96h0m48 -222h0m-161 -18h0m394 -189h0m-254 429h0m57 -192h0m-20 95h0m115 -84h0m-148 135h0m-75 -218h0m100 -44h0m167 149h0m-172 68h0m-69 -150h0m44 -17h0m25 157h0m-151 -83h0m217 93h0m-110 -249h0m44 211h0m-18 137h0m79 -164h0m-63 71h0m32 8h0m-35 78h0m25 -127h0m-4 34h0m100 -12h0m-27 -28h0m-222 -105h0m151 147h0m-35 -315h0m-43 108h0m42 -58h0m35 125h0m21 88h0m-5 -53h0m-13 173h0m-25 -18h0m80 -162h0m-27 27h0m-139 -86h0m89 241h0m37 -107h0m-28 -48h0m21 129h0m122 42h0m-195 -6h0m178 -188h0m-248 -47h0m15 -3h0m172 100h0m-90 -114h0m4 12h0m29 60h0m80 -6h0m-8 157h0m-74 -232h0m0 7h0m6 151h0m30 -140h0m-98 214h0m63 -31h0m69 8h0m23 -58h0m-129 84h0m48 -104h0m-8 -19h0m-33 181h0m29 -203h0m-108 -119h0m138 290h0m-14 -97h0m-57 68h0m-59 -270h0m-10 76h0m133 -37h0m-9 154h0m35 38h0m139 -219h0m-173 116h0m-3 84h0m-3 -63h0m67 -37h0m-241 10h0m157 34h0m-32 74h0m61 7h0m107 14h0m-121 -33h0m-42 26h0m122 -190h0m-213 -34h0m258 7h0m-165 231h0m140 -131h0m-102 115h0m8 -125h0m-15 95h0m-17 -134h0m10 81h0m-11 46h0m15 8h0m-60 78h0m105 -133h0m-52 14h0m-28 72h0m56 -194h0m-35 178h0m154 -318h0m-60 -114h0m11 347h0m-69 -114h0m-54 290h0m55 -285h0m-60 255h0m18 -298h0m32 158h0m-41 -106h0m84 -25h0m-3 118h0m-77 98h0m-54 -225h0m38 228h0m40 -69h0m4 -247h0m36 69h0m-67 333h0m69 -210h0m-23 73h0m-49 79h0m-51 -255h0m154 101h0m-82 122h0m44 -160h0m-175 11h0m-35 6h0m289 -149h0m-122 364h0m23 -58h0m19 -67h0m-145 -158h0m174 56h0m-240 81h0" stroke="#bced8f" stroke-width="4.2" stroke-linecap="round"/>
<path d="M90 2305h0m206 -104h0m115 -35h0m-41 -4h0m-93 239h0m-9 -250h0m-100 40h0m92 179h0m-154 -121h0m222 -106h0m-188 -4h0m132 195h0m52 42h0m-31 10h0m28 -435h0m-216 295h0m290 18h0m-41 116h0m-76 -71h0m-156 -66h0m188 83h0m-177 -103h0m7 -81h0m110 221h0m-114 -164h0m217 143h0m92 -284h0m-72 338h0m-54 -158h0m23 -89h0m-42 162h0m-10 45h0m-146 -144h0m366 -57h0m-216 164h0m105 -353h0m12 94h0m-132 335h0m15 -153h0m-175 11h0m239 37h0m-46 90h0m-81 -320h0m18 322h0m35 -231h0m-35 264h0m34 12h0m-41 -21h0m48 48h0m-27 -98h0m55 -73h0m-49 -69h0m-17 207h0m28 -115h0m-28 63h0m-7 68h0m9 -20h0m-145 -147h0m241 3h0m-83 24h0m77 -43h0m-138 198h0m176 -380h0m-107 -86h0m15 303h0m4 -5h0m-29 127h0m203 -164h0m-125 -79h0m21 71h0m-231 -2h0m59 -116h0m-8 19h0m-63 110h0m266 124h0m-126 23h0m16 -67h0m108 -44h0m-221 -114h0m197 113h0m-44 -72h0m-42 -12h0m29 138h0m-32 20h0m-17 18h0m47 -138h0m-31 -100h0m-34 287h0m57 -136h0m-61 -165h0m50 255h0m5 32h0m66 -196h0m-76 135h0m30 -278h0m-39 49h0m10 195h0m82 41h0m-29 -150h0m-132 -15h0m98 122h0m-31 65h0m108 -76h0m-119 100h0m184 -329h0m-124 231h0m-21 -48h0m-157 -142h0m55 16h0m12 47h0m-43 11h0m80 179h0m-125 -245h0m173 251h0m12 -70h0m-62 -162h0m53 219h0m50 -482h0m-98 493h0m-16 58h0m71 -126h0m69 33h0m-121 44h0m22 44h0m-63 -285h0m132 70h0m-200 25h0m133 83h0m55 31h0m-7 -120h0m-203 -22h0m149 181h0m-156 -116h0m168 182h0m111 -215h0m-113 210h0m45 -194h0m-82 176h0m19 -62h0m66 -26h0m-145 -188h0m-57 40h0m29 21h0m122 150h0m41 -133h0m-44 -96h0m-67 -2h0m125 143h0m-38 -65h0m-134 -44h0m134 142h0m65 -121h0m15 -9h0m-123 196h0m251 -387h0m-164 222h0m-56 61h0m-50 152h0m10 26h0m4 -79h0m-54 -179h0m84 138h0m-2 5h0m-39 68h0m89 -272h0m-189 22h0m210 63h0m-37 69h0m25 -107h0m-94 17h0m40 22h0m18 120h0m-7 -144h0m32 183h0m0 -300h0m-86 327h0m215 -301h0m-336 160h0m138 161h0m16 -331h0m8 361h0m5 -52h0m43 -52h0m16 -114h0m-209 18h0m-1 -34h0m211 6h0m2 -56h0m35 49h0m-235 -59h0m150 221h0m2 -56h0m-66 113h0m91 -137h0m-22 50h0m3 -50h0m-14 121h0m-14 -34h0m9 7h0m40 -112h0m110 6h0m-126 37h0m-194 -60h0m223 104h0m5 6h0m21 -251h0m-61 172h0m32 -34h0m18 58h0m-46 11h0m34 63h0m-94 32h0m-136 -162h0m203 114h0m-71 8h0m61 -105h0m-31 47h0m-33 90h0m81 -274h0m2 -32h0m34 167h0m44 34h0m-225 -155h0m78 239h0m36 -55h0m-48 41h0m71 -6h0m-212 -139h0m96 -64h0m-38 38h0m-20 10h0m249 102h0m-77 -23h0m-161 -151h0m19 -77h0m85 304h0m-50 -280h0m3 -18h0m230 40h0m-191 283h0m55 -22h0m-141 -166h0m144 179h0m-45 -30h0m14 -101h0m4 -51h0m25 96h0m-24 100h0m-93 -277h0m44 306h0m116 -66h0m-232 -96h0m166 19h0m98 -154h0m-33 85h0m19 51h0m-80 4h0m0 97h0m-33 50h0m-8 -38h0m1 26h0m-4 7h0m167 -211h0m-184 -33h0m71 187h0m-6 -3h0m-93 -185h0m100 186h0m-8 -177h0m69 87h0m-5 119h0m10 -192h0m-125 -40h0m-111 98h0m111 144h0m47 -6h0m-37 10h0" stroke="#d4dd80" stroke-width="4.2" stroke-linecap="round"/>
<path d="M270 2385h0m-17 -4h0m-15 14h0m66 -49h0m-121 -167h0m29 1h0m52 161h0m162 4h0m-142 -200h0m-15 214h0m-68 -182h0m14 -63h0m158 200h0m-220 -264h0m167 181h0m-100 -72h0m7 5h0m93 123h0m-20 48h0m-6 -41h0m41 51h0m10 -129h0m-97 181h0m24 -86h0m-35 128h0m-1 -35h0m27 -19h0m92 -223h0m6 145h0m-7 -102h0m-117 213h0m46 -156h0m-107 -119h0m102 80h0m-4 175h0m19 -62h0m61 -31h0m-44 -242h0m-63 363h0m-21 -42h0m59 -228h0m-181 68h0m35 -25h0m201 126h0m-188 -243h0m-40 135h0m3 49h0m223 -124h0m-98 245h0m-102 -167h0m249 124h0m-142 80h0m160 -162h0m-13 -25h0m-256 -30h0m110 163h0m127 -96h0m-53 19h0m-57 70h0m49 -164h0m-204 -15h0m180 236h0m67 -281h0m-122 254h0m94 -358h0m-107 12h0m-39 98h0m148 193h0m99 -138h0m-161 134h0m-39 38h0m106 -73h0m-63 121h0m60 -71h0m-77 42h0m-115 -153h0m155 26h0m36 -128h0m-46 196h0m44 -58h0m-204 -27h0m194 79h0m-28 -200h0m-65 265h0m11 2h0m255 -100h0m-236 97h0m21 -36h0m88 -85h0m-28 -8h0m-46 151h0m1 -160h0m-31 129h0m-157 -120h0m174 111h0m8 -25h0m-47 -226h0m-102 16h0m233 124h0m-96 65h0m-170 -49h0m205 40h0m-76 56h0m34 -27h0m6 -44h0m31 -66h0m-49 105h0m19 -182h0m-162 54h0m199 -44h0m8 80h0m-45 47h0m-30 80h0m-95 -134h0m123 -109h0m13 275h0m132 -254h0m-21 273h0m-277 -200h0m87 -139h0m60 242h0m27 -69h0m-6 105h0m-175 -175h0m214 211h0m-207 -170h0m225 -197h0m7 315h0m19 -112h0m-52 5h0m30 22h0m-127 168h0m85 -131h0m-12 10h0m-2 118h0m-48 -334h0m33 230h0m7 97h0m10 -68h0m41 -305h0m-86 320h0m37 -142h0m-1 153h0m310 -308h0m-467 59h0m140 207h0m19 -103h0m53 29h0m-245 -77h0m89 -27h0m107 124h0m144 -41h0m-66 152h0m-102 -96h0m160 -64h0m-177 123h0m8 1h0m38 -196h0m-7 62h0m-126 -106h0m3 41h0m119 202h0m-12 -229h0m-105 -9h0m234 -19h0m-85 259h0m-23 -124h0m29 47h0m-76 126h0m26 -41h0m26 -107h0m18 62h0m39 5h0m-115 34h0m46 -73h0m319 -116h0m-382 273h0m14 -57h0m129 -51h0m-75 -108h0m244 -163h0m-436 136h0m157 220h0m-9 -24h0m121 -130h0m-102 90h0m13 -57h0m-18 31h0m0 -149h0m-3 -211h0m-18 434h0m-34 -231h0m135 8h0m-15 131h0m-103 -191h0m38 295h0m40 -28h0m70 -102h0m-41 -61h0m-59 88h0m115 48h0m-143 40h0m1 -39h0m40 -161h0m63 42h0m-33 -182h0m-44 241h0m21 -12h0m-1 -63h0m-5 71h0m-38 123h0m52 -197h0m-35 190h0m3 -73h0m-16 29h0m4 2h0m64 5h0m-207 -135h0m103 -64h0m-123 29h0m139 -48h0m-136 91h0m162 -188h0m39 257h0m-11 -144h0m-25 192h0m-2 -19h0m36 -44h0m-26 56h0m133 -109h0m-111 -112h0m-18 191h0m22 -85h0m-17 103h0m-29 80h0m-70 -438h0m144 357h0m-172 -176h0m150 39h0m-65 163h0m5 51h0m11 -29h0m36 -162h0m-79 182h0m176 -206h0m-102 106h0m10 12h0m24 -57h0m-151 -268h0m-25 167h0m134 188h0m-12 51h0m96 -89h0m-204 -152h0m218 -8h0m-84 34h0m-24 106h0m11 47h0m27 -176h0m-91 -17h0m94 196h0m2 -163h0m38 0h0m-93 167h0m-14 12h0m33 -14h0m128 -237h0m-70 49h0m-90 231h0m152 -291h0m-220 80h0m63 195h0m38 -19h0m-32 82h0m29 -65h0m-8 -52h0m149 37h0m-150 51h0" stroke="#ecc86f" stroke-width="4.2" stroke-linecap="round"/>
<path d="M302 2423h0m-4 29h0m-22 -70h0m-9 12h0m-35 51h0m33 -52h0m-22 39h0m-5 -10h0m-1 -20h0m-100 -165h0m120 202h0m-12 -45h0m-125 -130h0m-13 -25h0m146 166h0m-147 -191h0m153 221h0m-90 -284h0m83 261h0m-115 -162h0m115 165h0m-141 -411h0m107 412h0m-125 -208h0m170 232h0m-11 -70h0m-111 -150h0m112 216h0m19 -89h0m-180 -60h0m50 -41h0m120 152h0m-165 -117h0m125 117h0m-89 -186h0m204 204h0m-97 1h0m25 32h0m21 -13h0m-182 -187h0m63 -156h0m122 318h0m-31 -17h0m-149 -173h0m126 200h0m-108 -197h0m209 -29h0m-200 39h0m116 189h0m-156 -206h0m142 184h0m-10 43h0m78 -3h0m-194 -198h0m118 199h0m47 -4h0m-50 -4h0m28 -15h0m-162 -162h0m137 180h0m-129 -223h0m-7 28h0m168 211h0m-27 -3h0m33 -17h0m-160 -274h0m-16 146h0m48 -89h0m66 222h0m56 -78h0m-146 -149h0m-12 -20h0m132 239h0m27 19h0m-2 -57h0m-34 34h0m-104 -202h0m-15 56h0m-3 -54h0m41 -36h0m-55 18h0m183 184h0m-177 -96h0m31 -31h0m-24 -85h0m-6 46h0m14 -14h0m164 109h0m-51 103h0m42 11h0m-122 -238h0m185 228h0m-230 -147h0m51 -92h0m-49 20h0m24 25h0m5 17h0m-1 -3h0m-15 22h0m10 -8h0m-28 -32h0m193 208h0m-63 6h0m-107 -271h0m-27 -32h0m5 124h0m-2 -40h0m137 230h0m68 -41h0m-11 39h0m-187 -166h0m139 110h0m-34 58h0m73 -14h0m29 -18h0m-161 -288h0m114 322h0m-170 -231h0m149 207h0m20 15h0m14 7h0m-163 -197h0m-3 -6h0m252 165h0m-263 -203h0m202 234h0m-88 -18h0m54 -3h0m-130 -228h0m154 194h0m-69 28h0m-2 6h0m-102 -239h0m96 246h0m84 -110h0m-66 74h0m41 40h0m-175 -169h0m1 -10h0m201 123h0m-59 56h0m-121 -200h0m-17 -54h0m117 238h0m14 36h0m-123 -175h0m157 108h0m-169 -92h0m188 148h0m-14 9h0m-60 -30h0m-106 -179h0m133 201h0m-15 -22h0m-2 12h0m9 16h0m6 -39h0m-139 -193h0m224 201h0m-6 32h0m-44 -65h0m63 -93h0m-227 -35h0m179 53h0m-197 -21h0m179 140h0m-168 -164h0m107 -138h0m-117 64h0m181 159h0m4 74h0m-165 -162h0m-6 49h0m199 78h0m-77 1h0m53 -138h0m-148 -36h0m108 180h0m-139 -224h0m121 221h0m111 6h0m14 -3h0m-236 -116h0m112 -130h0m-13 276h0m-93 -142h0m121 148h0m-135 -287h0m134 277h0m-5 22h0m25 -19h0m43 -30h0m-196 -132h0m-5 17h0m-9 27h0m339 57h0m-94 11h0m-55 50h0m-59 -7h0m16 14h0m-7 -10h0m88 10h0m-38 17h0m-167 -203h0m122 166h0m-17 -26h0m30 64h0m-157 -195h0m273 41h0m-114 67h0m-28 58h0m-3 12h0m-8 20h0m74 -11h0m-86 5h0" stroke="#ffac5c" stroke-width="4.2" stroke-linecap="round"/>
<path d="M227 2399h0m-129 -152h0m199 202h0m-32 -5h0m116 -13h0m-252 -240h0m97 223h0m88 -1h0m-216 -228h0m251 244h0m-123 17h0m69 -166h0m-143 -90h0m87 239h0m19 -64h0m29 68h0m-185 -170h0m146 93h0m-147 -108h0m143 169h0m-148 -138h0m131 138h0m-124 -201h0m7 37h0m112 173h0m66 -29h0m-194 -136h0m182 124h0m-150 -132h0m24 -76h0m102 259h0m-40 3h0m51 3h0m-127 -302h0m-21 117h0m-21 -84h0m14 69h0m209 200h0m-168 -243h0m158 208h0m-14 40h0m-56 -55h0m26 49h0m14 4h0m-13 -57h0m-54 -261h0m-2 300h0m49 -18h0m-17 27h0m23 -14h0m-44 -20h0m13 38h0m-132 -201h0m47 3h0m-49 51h0m-7 -104h0m140 247h0m-139 -177h0m138 170h0m-107 -202h0m-29 4h0m130 190h0m4 8h0m-10 6h0m13 -50h0m-26 57h0m17 12h0m-129 -122h0m163 66h0m-155 -194h0m189 181h0m-110 -249h0m110 284h0m-23 -52h0m3 33h0m-25 30h0m10 -120h0m-13 129h0m-144 -180h0m118 166h0m4 -22h0m102 -126h0m-23 172h0m-178 -165h0m109 116h0m-112 -165h0m-9 -30h0m147 249h0m-165 -233h0m155 196h0m-147 -134h0m137 144h0m-141 -209h0m164 231h0m94 -68h0m-142 42h0m-42 -292h0m92 281h0m-143 -155h0m195 126h0m10 -42h0m-111 105h0m19 -71h0m50 -10h0m-171 -106h0m-11 48h0m149 135h0m-157 -167h0m27 -14h0m39 -87h0m58 247h0m16 33h0m-140 -202h0m188 176h0m-49 22h0m-116 -242h0m2 71h0m96 152h0m44 -63h0m18 -56h0m15 134h0m-186 -183h0m140 130h0m-108 -184h0m128 240h0m-14 -92h0m-11 51h0m16 29h0m55 -234h0m-76 195h0m-124 -162h0m-11 70h0m92 148h0m119 -44h0m-206 -154h0m27 -52h0m167 209h0m-65 28h0m95 0h0m-64 -44h0m-159 -107h0m207 77h0m-211 -116h0m145 171h0m-15 -14h0m0 43h0m95 -200h0m-15 199h0m-85 -9h0m-127 -165h0m30 -28h0m-7 -117h0m310 302h0m-312 -145h0m129 102h0m3 -22h0m-48 60h0m108 -11h0m-215 -119h0m122 119h0m-56 -185h0m-30 -43h0m7 -81h0m-28 169h0m171 108h0m-177 -90h0m137 127h0m93 -11h0m-201 -166h0m-40 64h0m178 125h0m-74 17h0m11 -25h0m-94 -156h0m-19 29h0m120 140h0m12 -25h0m33 16h0m-107 -238h0m123 127h0m-141 -94h0m-25 31h0m144 190h0m20 -30h0m-75 27h0m26 -14h0m56 -139h0m-175 -18h0m173 117h0m-29 15h0m-153 -120h0m34 -113h0m-20 84h0m-15 -74h0m2 111h0m-4 37h0m88 125h0m-82 -158h0m89 155h0m31 -44h0m-21 18h0m17 11h0m-125 -170h0m145 187h0m-127 -326h0m118 307h0m88 11h0m4 -67h0m-218 -102h0m7 -14h0m93 188h0m-59 -338h0m-45 203h0m191 99h0m-56 16h0m-31 5h0m-107 -214h0m183 222h0m-144 -226h0m236 165h0m-251 -108h0m-12 -1h0m127 131h0m-139 -127h0m268 104h0m-142 61h0m2 -22h0m-130 -133h0m6 -14h0m-7 39h0m2 -49h0m13 -88h0m41 43h0m134 -13h0m-192 134h0m138 109h0m2 -21h0m17 -31h0m-5 18h0m53 21h0m-177 -163h0m175 100h0m-78 80h0m6 -39h0m14 33h0m-132 -197h0m28 -61h0m159 264h0m-150 -241h0m110 213h0m-85 -392h0m54 399h0m-128 -254h0m2 62h0m227 141h0m-113 52h0m9 19h0m-98 -169h0m127 137h0m38 -15h0m-67 44h0m-124 -142h0m0 -23h0m3 -87h0m231 163h0m-215 -201h0" stroke="#ff8e4a" stroke-width="4.2" stroke-linecap="round"/>
<path d="M121 2259h0m8 -36h0m175 221h0m-54 -52h0m46 -289h0m-162 118h0m193 140h0m-220 -221h0m-7 94h0m226 213h0m-81 -7h0m8 -33h0m0 -65h0m19 -43h0m-54 122h0m85 27h0m22 -19h0m-86 -45h0m-133 -90h0m21 -28h0m-23 13h0m-7 37h0m6 -79h0m128 181h0m4 20h0m-121 -166h0m120 117h0m-89 -144h0m104 193h0m-155 -208h0m129 182h0m33 -70h0m-47 76h0m64 21h0m-156 -191h0m-2 -77h0m28 21h0m-32 57h0m12 -17h0m112 204h0m8 -17h0m-128 -173h0m116 181h0m-3 -6h0m15 -19h0m-95 -326h0m127 376h0m-26 -36h0m-26 10h0m10 7h0m59 -58h0m-23 45h0m-144 -150h0m-33 72h0m13 -41h0m112 112h0m25 9h0m-9 -13h0m-119 -190h0m10 24h0m100 176h0m-130 -213h0m246 234h0m-190 -268h0m-4 39h0m55 216h0m-93 -164h0m0 -54h0m169 228h0m-160 -197h0m-17 55h0m-1 25h0m261 104h0m-247 -141h0m-19 -20h0m152 150h0m24 -14h0m16 -68h0m-38 102h0m-30 -28h0m25 -44h0m41 88h0m-183 -169h0m168 85h0m7 89h0m-28 -81h0m-74 -208h0m83 254h0m-150 -172h0m88 185h0m-56 -187h0m70 176h0m-107 -126h0m56 -163h0m78 286h0m0 31h0m54 -34h0m12 -36h0m-193 -152h0m15 -146h0m148 341h0m31 19h0m-106 -13h0m-94 -177h0m27 -14h0m-34 -8h0m30 17h0m119 193h0m-6 16h0m16 -70h0m-20 39h0m-96 -201h0m125 201h0m-20 -32h0m-6 18h0m25 -38h0m15 -13h0m-92 76h0m134 5h0m-102 -17h0m-6 -3h0m58 10h0m-3 20h0m-43 -60h0m-7 33h0m10 8h0m-128 -204h0m-2 101h0m269 91h0m-263 -261h0m196 128h0m-71 125h0m-110 -294h0m102 293h0m-105 -179h0m134 197h0m63 1h0m-44 -17h0m0 -118h0m11 113h0m-47 7h0m32 35h0m-123 -223h0m83 183h0m-88 -173h0m-38 -15h0m10 63h0m173 134h0m-58 -17h0m-126 -79h0m209 90h0m-90 4h0m5 -12h0m-17 20h0m4 -10h0m-30 30h0m-9 11h0m88 -88h0m-8 63h0m23 -6h0m-167 -136h0m-7 -59h0m-1 95h0m142 90h0m-14 -5h0m-113 -146h0m-10 36h0m141 99h0m-135 -106h0m-6 -39h0m124 175h0m-121 -130h0m4 -14h0m142 141h0m-137 -298h0m22 93h0m128 191h0m-13 -3h0m42 35h0m111 13h0m-106 -29h0m-122 19h0m-83 -110h0m147 85h0m-6 20h0m-124 -156h0m133 143h0m-72 25h0m-73 -256h0m4 97h0m-10 52h0m125 57h0m25 52h0m-133 -179h0m189 154h0m-22 2h0m-173 -122h0m78 131h0m-84 -247h0m109 213h0m-26 33h0m52 -5h0m7 8h0m-58 2h0m58 -44h0m6 -9h0" stroke="#ff6d38" stroke-width="4.2" stroke-linecap="round"/>
<path d="M339 2299.5h2M338 2300.5h4M337 2301.5h6M336 2302.5h8M336 2303.5h3m1 0h5M337 2304.5h1m3 0h3M342 2305.5h1" stroke="#42edd3" stroke-width="1" shape-rendering="crispEdges"/>
<path d="M330 2244.5h2M327 2245.5h2m2 0h2M326 2246.5h4m2 0h1M326 2247.5h3m2 0h1M327 2248.5h2m1 0h3M328 2249.5h4M330 2250.5h1" stroke="#a4f89f" stroke-width="1" shape-rendering="crispEdges"/>
<path d="M299 2303.5h1M298 2304.5h3M298 2305.5h4M299 2306.5h4M296 2307.5h1m3 0h1m1 0h1M297 2308.5h1M298 2309.5h1m1 0h1M299 2310.5h2" stroke="#d4dd80" stroke-width="1" shape-rendering="crispEdges"/>
<path d="M267 2333.5h2m1 0h2M266 2334.5h7M267 2335.5h7M269 2336.5h4M267 2337.5h1m2 0h4M266 2338.5h3m1 0h3M266 2339.5h4m1 0h1M267 2340.5h2" stroke="#ecc86f" stroke-width="1" shape-rendering="crispEdges"/>
<path d="M91 2258.5h2M90 2259.5h4M90 2260.5h5M91 2261.5h3m1 0h1M90 2262.5h3M90 2263.5h2M90 2264.5h3M90 2265.5h4M90 2266.5h1m1 0h2M254 2426.5h1M253 2427.5h3M252 2428.5h5M251 2429.5h6M252 2430.5h6m2 0h1M251 2431.5h10M251 2432.5h8m1 0h1M252 2433.5h8M252 2434.5h2m2 0h3M251 2435.5h3m3 0h1M251 2436.5h4M252 2437.5h4M253 2438.5h4M242 2441.5h2m3 0h1M241 2442.5h2m1 0h1m1 0h3M242 2443.5h7M241 2444.5h9M241 2445.5h2m1 0h5M241 2446.5h6m46 0h1M240 2447.5h6m45 0h5M241 2448.5h4m45 0h1m1 0h3m1 0h1M242 2449.5h4m43 0h1m3 0h1m1 0h3M242 2450.5h5m49 0h3M241 2451.5h1m1 0h4m43 0h1m3 0h1m2 0h1M241 2452.5h2m1 0h4m42 0h2m1 0h3M215 2453.5h2m3 0h3m18 0h1m1 0h6m41 0h6M214 2454.5h4m1 0h4m21 0h5m1 0h3m36 0h3m1 0h3M214 2455.5h9m22 0h3m1 0h4m37 0h1m3 0h1" stroke="#ff8e4a" stroke-width="1" shape-rendering="crispEdges"/>
<path d="M97 2227.5h1M96 2228.5h3M95 2229.5h5M94 2230.5h6M94 2231.5h3m1 0h1M91 2246.5h1M90 2247.5h3M90 2248.5h4m1 0h1M90 2249.5h7M90 2250.5h8M91 2251.5h7m3 0h1M90 2252.5h9m2 0h2M91 2253.5h3m1 0h9M91 2254.5h3m2 0h3m2 0h3M90 2255.5h5m2 0h1m4 0h1m1 0h1M91 2256.5h3m4 0h1m4 0h3M92 2257.5h1m4 0h3m2 0h4M96 2258.5h5m1 0h4M97 2259.5h3m1 0h4M98 2260.5h1m1 0h5M101 2261.5h3m4 0h1M95 2262.5h1m2 0h1m3 0h1m4 0h2M93 2263.5h7m2 0h1m3 0h3M93 2264.5h11m2 0h3M94 2265.5h1m2 0h13M91 2266.5h1m6 0h7m1 0h3M90 2267.5h3m4 0h1m1 0h1m1 0h3m3 0h1M90 2268.5h4m2 0h3m3 0h1m1 0h1m3 0h1M90 2269.5h11m2 0h3m1 0h3M91 2270.5h19M90 2271.5h16m1 0h3M90 2272.5h8m1 0h3m1 0h2m3 0h1M90 2273.5h8m2 0h1m1 0h3M91 2274.5h1m1 0h4m4 0h5M92 2275.5h6m4 0h3M93 2276.5h6M92 2277.5h1m1 0h4M91 2278.5h3m2 0h1M90 2279.5h6m4 0h1M91 2280.5h6m2 0h3M91 2281.5h7m2 0h2M90 2282.5h9m2 0h1M91 2283.5h7m1 0h1M92 2284.5h5m1 0h3M94 2285.5h2m1 0h5M92 2286.5h1m1 0h3m1 0h4M91 2287.5h7m1 0h4M90 2288.5h7m1 0h4m1 0h1M91 2289.5h10M92 2290.5h1m1 0h6M91 2291.5h1m2 0h7M90 2292.5h7m1 0h3M90 2293.5h7m2 0h1M90 2294.5h7M90 2295.5h6m2 0h2M90 2296.5h5m4 0h1M90 2297.5h6M90 2298.5h5M90 2299.5h6m3 0h2M90 2300.5h7m1 0h2M90 2301.5h9M90 2302.5h10M91 2303.5h4m1 0h5m1 0h1M92 2304.5h2m3 0h5M98 2305.5h3M93 2306.5h1m3 0h5M94 2307.5h1m1 0h7M95 2308.5h2m1 0h2M95 2309.5h3M92 2310.5h1m1 0h6M91 2311.5h10M90 2312.5h10M90 2313.5h7m1 0h1M90 2314.5h3m1 0h2M90 2315.5h2m1 0h2M90 2316.5h6M90 2317.5h3m1 0h3M90 2318.5h2M90 2319.5h1m6 0h1M90 2320.5h2M90 2321.5h3M90 2322.5h5M91 2323.5h4M92 2324.5h3M93 2325.5h1M92 2326.5h2M91 2327.5h4M90 2328.5h5M90 2329.5h5M90 2330.5h3m2 0h1M90 2331.5h2m2 0h1M93 2332.5h1M91 2333.5h2M90 2334.5h3M90 2335.5h1M233 2408.5h3M232 2409.5h5m1 0h1M231 2410.5h9M230 2411.5h10M231 2412.5h6m1 0h2M232 2413.5h2m1 0h1m2 0h3M231 2414.5h4m2 0h3M232 2415.5h2m4 0h2M236 2416.5h1M236 2417.5h2M210 2426.5h3M207 2427.5h1m1 0h5m1 0h3m1 0h2m8 0h1M210 2428.5h3m1 0h6m8 0h1m1 0h1M207 2429.5h2m2 0h1m1 0h7m7 0h1m3 0h1M204 2430.5h1m1 0h7m1 0h3m1 0h3m5 0h3M201 2431.5h1m1 0h11m1 0h7m5 0h3M200 2432.5h8m2 0h3m1 0h7m7 0h1M201 2433.5h7m3 0h1m1 0h7M200 2434.5h9m3 0h6M190 2435.5h2m3 0h3m2 0h4m1 0h3m5 0h4m2 0h2M189 2436.5h4m1 0h2m1 0h3m2 0h2m2 0h1m1 0h1m3 0h3m3 0h4M187 2437.5h8m3 0h1m3 0h3m4 0h1m1 0h5m1 0h7M186 2438.5h8m5 0h1m1 0h5m3 0h6m3 0h7M187 2439.5h8m3 0h8m1 0h4m2 0h1m1 0h1m3 0h7M188 2440.5h6m3 0h15m2 0h3m3 0h5M187 2441.5h3m1 0h27m1 0h6m10 0h2M188 2442.5h1m3 0h13m1 0h18m10 0h2M193 2443.5h12m2 0h16m1 0h1m9 0h1m2 0h2M188 2444.5h1m3 0h3m1 0h10m1 0h15m1 0h3m11 0h3m11 0h1M184 2445.5h1m2 0h1m5 0h1m3 0h4m1 0h25m4 0h1m4 0h4m10 0h3M185 2446.5h4m3 0h1m5 0h2m1 0h27m2 0h3m2 0h5m7 0h7M178 2447.5h3m3 0h6m1 0h3m3 0h2m1 0h12m1 0h3m1 0h4m1 0h12m1 0h4m7 0h9M175 2448.5h5m3 0h12m1 0h15m1 0h17m1 0h3m1 0h4m8 0h10M176 2449.5h3m5 0h32m1 0h13m1 0h1m2 0h3m9 0h9M175 2450.5h5m3 0h9m1 0h6m2 0h14m2 0h7m1 0h6m16 0h2m1 0h4M174 2451.5h7m1 0h9m1 0h7m3 0h1m2 0h1m2 0h7m2 0h6m1 0h6m19 0h5M173 2452.5h3m1 0h14m1 0h8m6 0h1m2 0h5m2 0h6m1 0h6m21 0h3M172 2453.5h3m3 0h13m2 0h8m2 0h1m1 0h3m1 0h4m4 0h3m4 0h5m22 0h1M172 2454.5h2m5 0h11m2 0h9m1 0h10m6 0h1m5 0h6M171 2455.5h4m3 0h4m2 0h6m3 0h19m11 0h8" stroke="#ff6d38" stroke-width="1" shape-rendering="crispEdges"/>
<path d="M296 2145.5h3M295 2146.5h1m2 0h2M294 2147.5h1m2 0h4M298 2148.5h3M297 2149.5h4M297 2150.5h3M296 2151.5h3M187 2168.5h1M187 2169.5h2m2 0h1M186 2170.5h7M185 2171.5h1m1 0h7M184 2172.5h3m1 0h1m1 0h3M183 2173.5h11M184 2174.5h9M185 2175.5h7M185 2176.5h1m1 0h4M188 2177.5h2" stroke="#ff4a26" stroke-width="1" shape-rendering="crispEdges"/>
<path d="M222 2167.5h2M221 2168.5h4M220 2169.5h5M221 2170.5h3M222 2171.5h1M221 2172.5h3M221 2173.5h3M222 2174.5h1m45 0h2M267 2175.5h4M267 2176.5h1m1 0h3M270 2177.5h2M271 2178.5h1M270 2179.5h1M194 2183.5h2M191 2184.5h6M190 2185.5h2m1 0h5M190 2186.5h7M190 2187.5h2m1 0h4M194 2188.5h3M195 2189.5h1M197 2193.5h1m1 0h1M196 2194.5h1m1 0h1m1 0h1M195 2195.5h1m1 0h5M196 2196.5h7M197 2197.5h5M198 2198.5h1m1 0h1M150 2206.5h1M149 2207.5h3M148 2208.5h5M147 2209.5h1m1 0h5M146 2210.5h1m2 0h5M148 2211.5h3m1 0h1M148 2212.5h4M149 2213.5h2M280 2218.5h1M278 2219.5h4M277 2220.5h5M276 2221.5h7m2 0h1M276 2222.5h6m2 0h3M277 2223.5h1m2 0h2m1 0h4M280 2224.5h6M279 2225.5h6M280 2226.5h3M279 2240.5h3M280 2241.5h2M280 2242.5h3M278 2243.5h6M277 2244.5h6M277 2245.5h7M277 2246.5h3m1 0h3M278 2247.5h1m1 0h4M279 2248.5h1m1 0h2M279 2249.5h2M118 2272.5h1m1 0h1M117 2273.5h1m3 0h1M121 2274.5h2M118 2275.5h1m1 0h3M119 2276.5h4M118 2277.5h4M119 2278.5h2M108 2296.5h1M107 2297.5h4M106 2298.5h6M105 2299.5h8M104 2300.5h5m1 0h2M105 2301.5h3M106 2302.5h1M107 2303.5h1M261 2332.5h2M260 2333.5h4M259 2334.5h6M91 2335.5h1m166 0h8M90 2336.5h3m166 0h2m2 0h2M90 2337.5h5m166 0h1M90 2338.5h4m167 0h2M90 2339.5h3M91 2340.5h3M92 2341.5h1m1 0h1M92 2342.5h1M91 2343.5h2M90 2344.5h2M204 2409.5h3M203 2410.5h1m1 0h3M202 2411.5h1m3 0h3M207 2412.5h2M202 2413.5h1m3 0h3M202 2414.5h2m1 0h3M201 2415.5h2m3 0h1M200 2416.5h2M200 2417.5h3M198 2418.5h6M198 2419.5h7M197 2420.5h9M197 2421.5h8M198 2422.5h7M198 2423.5h1m1 0h4" stroke="#ff2613" stroke-width="1" shape-rendering="crispEdges"/>
<path d="M253 2159.5h1m2 0h2M211 2160.5h1m40 0h1m2 0h4M212 2161.5h1m38 0h8M236 2162.5h5m9 0h3m2 0h3m1 0h1M210 2163.5h1m3 0h1m21 0h4m11 0h1m2 0h7M209 2164.5h3m1 0h3m19 0h4m16 0h6M208 2165.5h9m17 0h5m15 0h3m1 0h2M209 2166.5h3m1 0h4m16 0h1m1 0h3m3 0h1m11 0h5M209 2167.5h2m2 0h5m14 0h3m1 0h1m3 0h4m10 0h3M208 2168.5h4m2 0h4m13 0h7m1 0h6m3 0h2M209 2169.5h4m2 0h4m11 0h16m1 0h4M209 2170.5h3m3 0h4m10 0h10m1 0h11M210 2171.5h1m4 0h4m11 0h8m3 0h12M214 2172.5h1m1 0h3m10 0h9m5 0h3m1 0h3m2 0h2M213 2173.5h3m1 0h1m12 0h7m1 0h1m3 0h5m1 0h1m4 0h1M212 2174.5h5m9 0h1m1 0h1m2 0h1m1 0h1m1 0h1m1 0h3m3 0h6M213 2175.5h4m9 0h4m6 0h5m3 0h6M212 2176.5h8m4 0h1m1 0h5m1 0h1m4 0h3m5 0h6m8 0h1m1 0h1M206 2177.5h1m4 0h10m4 0h5m1 0h3m4 0h1m7 0h4m8 0h3m1 0h1M205 2178.5h5m2 0h10m4 0h1m1 0h1m1 0h5m4 0h2m7 0h1m8 0h3m3 0h1M206 2179.5h4m3 0h1m2 0h6m2 0h1m6 0h4m3 0h4m7 0h1m6 0h1m1 0h1m3 0h1M202 2180.5h1m4 0h4m7 0h8m5 0h5m3 0h4m5 0h6m3 0h1m3 0h2M201 2181.5h3m3 0h5m6 0h9m5 0h4m4 0h4m5 0h6m3 0h1m1 0h2M200 2182.5h5m2 0h4m5 0h10m6 0h5m2 0h6m5 0h4m1 0h1M201 2183.5h3m2 0h6m3 0h12m4 0h7m2 0h5m1 0h1m5 0h1m3 0h1M202 2184.5h2m1 0h6m3 0h14m2 0h7m4 0h7m2 0h2M199 2185.5h1m1 0h9m5 0h12m2 0h5m1 0h1m6 0h11M198 2186.5h11m7 0h10m2 0h7m5 0h1m2 0h11M198 2187.5h10m1 0h1m5 0h9m4 0h7m4 0h3m2 0h9M198 2188.5h3m1 0h3m1 0h1m1 0h3m4 0h10m2 0h9m2 0h10m1 0h3M199 2189.5h1m2 0h2m3 0h4m5 0h21m2 0h3m2 0h7m5 0h5M188 2190.5h2m11 0h3m4 0h2m6 0h9m2 0h12m1 0h1m4 0h7m4 0h4m5 0h2M189 2191.5h4m8 0h4m3 0h2m7 0h4m2 0h1m4 0h12m6 0h1m1 0h3m5 0h3m5 0h5M188 2192.5h5m9 0h2m14 0h4m6 0h13m2 0h1m4 0h2m5 0h3m7 0h3m4 0h1m10 0h1M187 2193.5h5m14 0h1m9 0h7m2 0h15m2 0h3m2 0h3m4 0h5m1 0h1m1 0h1m3 0h3m4 0h1m8 0h3M188 2194.5h5m12 0h3m7 0h7m2 0h15m2 0h10m4 0h3m1 0h11m1 0h4m6 0h1m2 0h2M184 2195.5h1m4 0h5m10 0h5m5 0h7m2 0h10m1 0h6m1 0h9m4 0h3m1 0h11m1 0h5m9 0h3M184 2196.5h2m3 0h4m11 0h5m6 0h6m2 0h18m1 0h9m1 0h16m1 0h6m8 0h3M179 2197.5h2m2 0h4m1 0h5m10 0h7m4 0h26m3 0h1m2 0h20m4 0h3m9 0h1m1 0h1M173 2198.5h1m2 0h1m3 0h6m1 0h7m2 0h1m5 0h9m2 0h23m1 0h2m6 0h1m1 0h18m5 0h2m10 0h2m1 0h1M173 2199.5h3m5 0h1m2 0h1m1 0h12m1 0h1m3 0h7m2 0h17m1 0h1m1 0h3m1 0h1m1 0h1m5 0h3m1 0h15m5 0h4m9 0h4M174 2200.5h1m1 0h1m10 0h3m1 0h10m3 0h1m2 0h2m4 0h19m1 0h1m1 0h5m3 0h5m1 0h11m1 0h1m5 0h6m8 0h3M175 2201.5h3m4 0h1m5 0h2m2 0h1m2 0h7m1 0h3m4 0h1m1 0h29m2 0h18m5 0h6m9 0h2m4 0h1M169 2202.5h2m3 0h5m2 0h3m3 0h5m4 0h5m1 0h5m2 0h8m1 0h22m2 0h6m1 0h13m2 0h1m2 0h2m11 0h3m3 0h3M169 2203.5h4m2 0h10m1 0h8m2 0h10m2 0h34m1 0h4m3 0h12m1 0h3m2 0h1m12 0h3m1 0h5M168 2204.5h6m2 0h8m3 0h18m3 0h35m1 0h3m1 0h1m1 0h11m1 0h5m15 0h1m2 0h6M169 2205.5h6m1 0h7m3 0h1m1 0h16m3 0h18m3 0h7m2 0h18m1 0h2m1 0h1m3 0h3m2 0h1m12 0h1m2 0h8M166 2206.5h1m4 0h5m1 0h4m2 0h1m1 0h3m3 0h12m4 0h4m1 0h12m4 0h6m4 0h5m1 0h17m3 0h1m2 0h3m4 0h1m10 0h4m2 0h1M165 2207.5h3m3 0h6m1 0h2m2 0h7m1 0h13m3 0h4m2 0h10m5 0h8m1 0h6m1 0h19m4 0h5m4 0h3m8 0h2M165 2208.5h4m3 0h49m6 0h14m2 0h18m3 0h1m2 0h3m1 0h1m4 0h1m8 0h3M165 2209.5h3m1 0h1m3 0h23m1 0h25m3 0h17m2 0h4m1 0h9m1 0h1m3 0h10m8 0h1m1 0h6M166 2210.5h1m1 0h3m1 0h4m2 0h3m1 0h7m1 0h5m1 0h27m1 0h8m1 0h9m1 0h5m1 0h10m3 0h12m6 0h8M165 2211.5h11m2 0h3m1 0h8m1 0h52m1 0h3m1 0h12m3 0h6m1 0h6m2 0h2m2 0h4M164 2212.5h7m1 0h3m1 0h10m1 0h59m1 0h14m2 0h2m2 0h1m3 0h8m4 0h2M165 2213.5h5m3 0h8m1 0h47m1 0h30m2 0h4m4 0h9M161 2214.5h1m4 0h3m3 0h8m3 0h29m2 0h5m2 0h9m1 0h1m1 0h6m1 0h12m1 0h7m1 0h6m4 0h9M160 2215.5h3m2 0h1m1 0h1m5 0h5m3 0h1m2 0h21m2 0h5m2 0h5m1 0h11m2 0h2m2 0h1m3 0h27m2 0h1m1 0h1m2 0h1m2 0h1M160 2216.5h2m2 0h3m7 0h1m1 0h1m3 0h3m2 0h28m2 0h20m3 0h1m1 0h28m1 0h4m24 0h3m1 0h1M151 2217.5h3m6 0h1m2 0h5m3 0h1m1 0h1m3 0h1m1 0h15m3 0h27m1 0h15m1 0h5m1 0h27m22 0h8M150 2218.5h5m4 0h1m4 0h4m2 0h5m1 0h3m1 0h15m1 0h31m2 0h1m1 0h10m1 0h4m1 0h28m22 0h3m1 0h3M149 2219.5h1m1 0h3m4 0h3m3 0h31m2 0h16m1 0h27m1 0h5m1 0h12m1 0h4m1 0h3m1 0h4m20 0h1m1 0h1m1 0h1m3 0h1M148 2220.5h7m1 0h6m3 0h14m1 0h30m1 0h1m1 0h8m1 0h25m1 0h9m1 0h1m1 0h6m1 0h1m4 0h1m20 0h5m7 0h2M147 2221.5h7m1 0h7m3 0h7m1 0h1m1 0h3m1 0h32m1 0h8m1 0h10m1 0h24m1 0h3m1 0h6m1 0h1m5 0h1m18 0h7m4 0h3M148 2222.5h3m1 0h1m1 0h9m2 0h5m5 0h2m1 0h52m1 0h23m2 0h15m2 0h3m18 0h7m2 0h4M149 2223.5h1m2 0h6m1 0h3m2 0h5m5 0h55m1 0h1m1 0h11m2 0h1m1 0h7m1 0h1m1 0h3m2 0h15m19 0h6m1 0h3M145 2224.5h1m5 0h6m3 0h1m2 0h5m5 0h8m1 0h50m1 0h2m1 0h7m1 0h1m3 0h1m1 0h7m1 0h1m4 0h13m22 0h3m1 0h3M142 2225.5h5m3 0h6m3 0h3m2 0h3m7 0h6m1 0h26m3 0h23m1 0h1m2 0h9m4 0h8m7 0h1m1 0h8m28 0h1M143 2226.5h3m5 0h4m3 0h8m5 0h1m2 0h35m2 0h8m1 0h12m1 0h14m2 0h1m1 0h6m11 0h4m1 0h1m2 0h1m25 0h1M140 2227.5h1m1 0h3m5 0h1m1 0h1m1 0h1m2 0h1m1 0h8m3 0h3m2 0h71m2 0h8m7 0h1m3 0h6m1 0h4m2 0h1M139 2228.5h7m1 0h1m1 0h3m1 0h9m1 0h11m1 0h3m1 0h57m1 0h20m5 0h3m1 0h16M139 2229.5h2m1 0h94m1 0h20m4 0h5m1 0h15M139 2230.5h1m3 0h9m1 0h21m1 0h62m1 0h20m3 0h5m2 0h1m1 0h12M144 2231.5h7m3 0h1m1 0h19m1 0h17m1 0h1m1 0h63m1 0h6m1 0h12m1 0h1M143 2232.5h7m1 0h1m1 0h1m1 0h38m2 0h65m1 0h4m1 0h7m1 0h6M142 2233.5h18m1 0h24m1 0h63m1 0h14m1 0h5m1 0h10m1 0h1M141 2234.5h20m1 0h103m1 0h3m2 0h9m1 0h3M142 2235.5h107m1 0h14m3 0h1m2 0h6m2 0h1m1 0h5M143 2236.5h1m2 0h9m2 0h32m1 0h49m1 0h17m1 0h6m3 0h1m2 0h6m4 0h4M147 2237.5h1m1 0h5m2 0h108m2 0h11m2 0h6m2 0h2M149 2238.5h3m1 0h1m1 0h80m1 0h7m1 0h16m1 0h17m2 0h9M129 2239.5h2m17 0h7m1 0h3m1 0h17m1 0h6m1 0h58m2 0h27m1 0h4m4 0h8M128 2240.5h6m15 0h93m1 0h1m2 0h2m1 0h24m1 0h2m7 0h3m2 0h1M128 2241.5h8m14 0h16m1 0h1m1 0h78m3 0h22m1 0h3m6 0h5M128 2242.5h2m2 0h3m3 0h3m7 0h1m2 0h14m1 0h3m2 0h51m1 0h25m3 0h20m1 0h5m6 0h3M127 2243.5h3m2 0h3m2 0h5m5 0h3m2 0h18m2 0h3m1 0h73m1 0h21m1 0h4m8 0h3M128 2244.5h13m5 0h30m1 0h71m3 0h3m2 0h6m1 0h13m7 0h5M129 2245.5h1m2 0h3m2 0h3m6 0h5m1 0h5m2 0h90m3 0h1m1 0h9m2 0h12m7 0h3M133 2246.5h1m2 0h6m5 0h10m2 0h91m1 0h26M135 2247.5h8m3 0h118m1 0h13M134 2248.5h10m1 0h105m1 0h12m1 0h15M135 2249.5h3m1 0h10m2 0h3m1 0h79m1 0h15m1 0h27M136 2250.5h1m1 0h10m2 0h82m1 0h18m1 0h3m1 0h15m2 0h2m1 0h3M137 2251.5h10m1 0h106m2 0h14m1 0h1m1 0h7M132 2252.5h1m5 0h8m1 0h132M131 2253.5h3m5 0h1m1 0h23m1 0h98m1 0h12m1 0h1M130 2254.5h5m6 0h23m2 0h96m3 0h3m2 0h6m4 0h1M130 2255.5h6m3 0h26m1 0h66m1 0h30m3 0h1m4 0h5m1 0h1m1 0h3M128 2256.5h9m1 0h9m2 0h1m1 0h104m1 0h6m3 0h1m2 0h1m1 0h13M127 2257.5h21m1 0h1m1 0h104m2 0h4m1 0h1m1 0h18M126 2258.5h7m1 0h8m1 0h111m4 0h1m2 0h12m1 0h5m1 0h1m1 0h2M125 2259.5h16m3 0h110m4 0h1m1 0h16m1 0h1m3 0h4M124 2260.5h5m1 0h3m2 0h6m2 0h103m1 0h8m2 0h3m1 0h15m3 0h1m2 0h3M125 2261.5h3m2 0h3m1 0h6m1 0h120m1 0h6m1 0h12m2 0h1M126 2262.5h1m2 0h10m1 0h7m1 0h112m1 0h6m1 0h14m3 0h1M123 2263.5h2m4 0h8m2 0h121m2 0h3m4 0h3m2 0h8m2 0h3M123 2264.5h3m4 0h4m1 0h1m4 0h121m2 0h1m5 0h2m5 0h6m1 0h4M123 2265.5h2m5 0h5m2 0h1m1 0h121m2 0h3m3 0h3m2 0h1m3 0h5m2 0h3M123 2266.5h1m4 0h6m1 0h90m1 0h33m2 0h5m1 0h8m4 0h4m2 0h2M123 2267.5h2m2 0h122m2 0h7m4 0h3m1 0h1m1 0h8m3 0h5m2 0h1M123 2268.5h16m1 0h109m3 0h7m3 0h6m1 0h6m5 0h3M123 2269.5h2m2 0h13m1 0h110m1 0h8m1 0h15m3 0h3M123 2270.5h1m2 0h134m1 0h16m1 0h5M127 2271.5h8m1 0h131m2 0h3m1 0h5m1 0h3M125 2272.5h1m2 0h6m1 0h131m4 0h9m1 0h1M124 2273.5h9m1 0h127m1 0h1m1 0h1m4 0h9M123 2274.5h126m2 0h9m8 0h7m1 0h1m3 0h1m1 0h1M123 2275.5h120m1 0h5m2 0h7m6 0h2m1 0h1m1 0h7m3 0h4M124 2276.5h3m1 0h1m2 0h126m1 0h1m2 0h8m1 0h7m1 0h4M125 2277.5h1m4 0h1m1 0h118m1 0h5m1 0h13m2 0h6m1 0h2M124 2278.5h1m4 0h3m1 0h118m1 0h18m3 0h4M123 2279.5h4m1 0h143m3 0h2M121 2280.5h7m1 0h3m1 0h126m2 0h11M120 2281.5h9m1 0h3m1 0h124m4 0h5m1 0h3m2 0h1M120 2282.5h137m5 0h6m1 0h1m2 0h4M120 2283.5h132m1 0h1m2 0h1m4 0h6m4 0h4M121 2284.5h129m5 0h3m3 0h5m6 0h3M123 2285.5h1m1 0h124m2 0h8m1 0h7m2 0h1m3 0h3M109 2286.5h4m12 0h133m3 0h10m4 0h2M108 2287.5h6m9 0h136m1 0h3m1 0h8M108 2288.5h3m2 0h1m5 0h1m2 0h118m1 0h7m1 0h9m1 0h5m1 0h6M107 2289.5h3m8 0h121m3 0h15m2 0h4m2 0h5M108 2290.5h3m1 0h1m4 0h123m2 0h15m1 0h6m2 0h5M109 2291.5h1m1 0h2m3 0h6m1 0h119m1 0h15m1 0h6m2 0h5M110 2292.5h2m5 0h126m1 0h13m3 0h6m2 0h3M117 2293.5h10m1 0h129m3 0h7m2 0h1M118 2294.5h8m2 0h130m1 0h9M119 2295.5h1m1 0h5m1 0h132m1 0h3m1 0h3M114 2296.5h1m7 0h123m1 0h12m1 0h3m3 0h1M113 2297.5h4m4 0h121m1 0h3m1 0h16m1 0h1M112 2298.5h6m2 0h129m2 0h7m1 0h3m1 0h3M113 2299.5h144m3 0h1m1 0h5M109 2300.5h1m2 0h1m1 0h140m7 0h5M108 2301.5h142m2 0h1m5 0h1m1 0h5m1 0h1M107 2302.5h143m2 0h1m4 0h3m1 0h3m1 0h2M108 2303.5h146m2 0h5m1 0h1m1 0h3M103 2304.5h2m2 0h3m2 0h143m2 0h3m5 0h1M103 2305.5h8m1 0h6m2 0h134m3 0h4m5 0h1M103 2306.5h2m1 0h5m2 0h4m2 0h134m3 0h6M103 2307.5h1m1 0h7m1 0h141m2 0h5m5 0h1M106 2308.5h5m2 0h131m1 0h8m4 0h1m5 0h1m1 0h1M107 2309.5h3m4 0h116m1 0h17m1 0h3m10 0h3M107 2310.5h1m2 0h1m2 0h3m1 0h136M106 2311.5h142m1 0h5M105 2312.5h135m1 0h8m1 0h3M106 2313.5h133m2 0h7m1 0h3M107 2314.5h146M106 2315.5h147m5 0h2M105 2316.5h136m1 0h1m1 0h2m2 0h7m1 0h1m2 0h2M106 2317.5h140m3 0h9m2 0h1M106 2318.5h141m3 0h9m2 0h2M105 2319.5h142m4 0h12M106 2320.5h130m1 0h1m1 0h1m2 0h6m1 0h1m1 0h8m2 0h2M101 2321.5h1m2 0h1m2 0h129m2 0h1m4 0h8m1 0h3m1 0h2m4 0h1M100 2322.5h6m2 0h127m2 0h3m2 0h16M99 2323.5h136m1 0h23m5 0h2M99 2324.5h7m1 0h151m5 0h4M96 2325.5h2m2 0h149m1 0h5m1 0h1m1 0h1m1 0h1m3 0h3M95 2326.5h4m2 0h148m2 0h4m2 0h5m2 0h5M95 2327.5h3m1 0h1m2 0h140m1 0h7m1 0h18M96 2328.5h1m1 0h138m1 0h14m1 0h3m2 0h10M97 2329.5h139m2 0h12m3 0h1m4 0h1m1 0h6M98 2330.5h152m11 0h3M99 2331.5h2m1 0h143m2 0h4m11 0h1M98 2332.5h131m2 0h15m1 0h5M97 2333.5h132m1 0h21M96 2334.5h150m1 0h3M97 2335.5h140m3 0h5m3 0h3M98 2336.5h139m4 0h5m1 0h5M95 2337.5h1m3 0h139m2 0h11M94 2338.5h4m1 0h139m3 0h10M93 2339.5h6m1 0h137m1 0h1m1 0h12M94 2340.5h157M95 2341.5h152m2 0h1M95 2342.5h152M95 2343.5h139m1 0h7m1 0h4M94 2344.5h141m1 0h7m1 0h4M94 2345.5h135m1 0h4m2 0h13M95 2346.5h139m2 0h7m2 0h3M90 2347.5h1m2 0h151m1 0h2M90 2348.5h140m1 0h16M90 2349.5h139m2 0h8m1 0h8m2 0h1M90 2350.5h139m1 0h9m2 0h6m2 0h1M90 2351.5h1m1 0h148m2 0h4M90 2352.5h156M90 2353.5h146m1 0h10M90 2354.5h145m2 0h2m1 0h6M90 2355.5h155M91 2356.5h2m1 0h128m1 0h20m1 0h1M90 2357.5h145m1 0h3m2 0h5M90 2358.5h148m3 0h5M90 2359.5h149m1 0h5M90 2360.5h136m1 0h13m1 0h3M91 2361.5h135m3 0h6m1 0h3m3 0h1M90 2362.5h137m1 0h6m1 0h5M90 2363.5h138m1 0h10M90 2364.5h144m1 0h3M90 2365.5h138m2 0h3m3 0h1M90 2366.5h139m2 0h2M90 2367.5h140m1 0h3M90 2368.5h139m1 0h5m1 0h1M90 2369.5h144m1 0h3M90 2370.5h139m1 0h9M90 2371.5h138m2 0h8M90 2372.5h133m1 0h2m5 0h4m1 0h1M90 2373.5h134m1 0h1m6 0h6m3 0h1M90 2374.5h137m5 0h7m1 0h3M90 2375.5h130m1 0h8m3 0h11M90 2376.5h129m2 0h9m1 0h12M90 2377.5h133m1 0h7m1 0h3m1 0h6M90 2378.5h134m1 0h1m1 0h3m3 0h1m3 0h6M90 2379.5h139m9 0h4M90 2380.5h128m1 0h12m9 0h1M90 2381.5h129m1 0h1m1 0h10m2 0h1m1 0h1M90 2382.5h128m5 0h15M90 2383.5h127m8 0h1m1 0h11M90 2384.5h126m12 0h3m2 0h2M90 2385.5h126m13 0h1m4 0h2M90 2386.5h128m3 0h1M90 2387.5h129m1 0h3m9 0h1M90 2388.5h130m1 0h3m8 0h1M90 2389.5h125m1 0h3m2 0h3M90 2390.5h124m3 0h1m2 0h5M90 2391.5h124m6 0h5M90 2392.5h125m2 0h1m1 0h5M90 2393.5h124m2 0h7M90 2394.5h124m1 0h9M90 2395.5h125m1 0h3m1 0h5M90 2396.5h119m1 0h4m3 0h1m1 0h5M90 2397.5h125m3 0h5M90 2398.5h124m3 0h1m1 0h3M90 2399.5h123m3 0h3m1 0h3M90 2400.5h124m1 0h8M90 2401.5h119m1 0h4m2 0h3m1 0h2M90 2402.5h119m1 0h5m2 0h1M90 2403.5h118m1 0h7M90 2404.5h125M90 2405.5h124m1 0h1M90 2406.5h111m1 0h11m1 0h3M90 2407.5h110m1 0h5m1 0h11M90 2408.5h102m2 0h6m2 0h3m3 0h9m2 0h1M90 2409.5h111m2 0h1m5 0h1m1 0h6m1 0h3M90 2410.5h112m2 0h1m7 0h6m1 0h2M90 2411.5h111m2 0h3m7 0h4M90 2412.5h110m2 0h5m5 0h4M90 2413.5h111m2 0h2m6 0h5M90 2414.5h106m1 0h3m11 0h4M90 2415.5h111m9 0h4M90 2416.5h110m7 0h1m1 0h7M90 2417.5h103m1 0h5m8 0h2m1 0h7M90 2418.5h101m2 0h5m9 0h3m1 0h7M90 2419.5h101m2 0h5m9 0h2m4 0h4M90 2420.5h107m10 0h1m2 0h1m3 0h3M90 2421.5h101m2 0h4m12 0h3m1 0h5M90 2422.5h101m2 0h5m11 0h4m1 0h3M90 2423.5h102m2 0h3m13 0h2m3 0h1M90 2424.5h101m4 0h1M90 2425.5h101M90 2426.5h95m2 0h5M90 2427.5h103M90 2428.5h96m1 0h5m2 0h1M90 2429.5h95m1 0h1m1 0h3m2 0h2M90 2430.5h94m1 0h3m1 0h1m2 0h4M90 2431.5h99m4 0h2M90 2432.5h93m2 0h3m5 0h1M90 2433.5h89m1 0h2m2 0h4m4 0h1M90 2434.5h86m1 0h1m5 0h6m2 0h1M90 2435.5h89m3 0h6M90 2436.5h90m3 0h4M90 2437.5h91m2 0h2M90 2438.5h83m1 0h6m2 0h3M90 2439.5h84m2 0h1m1 0h1m2 0h4M90 2440.5h85m2 0h3m2 0h2M90 2441.5h91M90 2442.5h90M90 2443.5h84m2 0h3M90 2444.5h84m3 0h1M90 2445.5h83M90 2446.5h80m1 0h2M90 2447.5h84M90 2448.5h85M90 2449.5h80m1 0h3M90 2450.5h75m1 0h4m2 0h1M90 2451.5h68m1 0h5m2 0h5M90 2452.5h73m4 0h3M90 2453.5h74m4 0h1M90 2454.5h75M90 2455.5h74" stroke="#ff0000" stroke-width="1" shape-rendering="crispEdges"/>
<path d="M231 2159h0m-50 290h0m87 -251h0m-89 -3h0m72 -71h0m-10 52h0m-81 42h0m62 -52h0m56 29h0m-117 8h0m-23 50h0m151 43h0m-22 -185h0m-154 147h0m186 -109h0m-46 3h0m-94 58h0m17 -4h0m23 -24h0m-59 20h0m-45 103h0m180 -248h0m-137 175h0m-2 32h0m34 -64h0m158 5h0m-139 -15h0m18 -9h0m6 238h0m71 -144h0m-118 -71h0m69 -49h0m-74 70h0m24 215h0m60 -256h0m95 22h0m-112 183h0m34 -220h0m14 55h0m-69 -52h0m115 -40h0m-51 174h0m-17 -167h0m-65 55h0m76 142h0m47 -94h0m-23 -46h0m-148 36h0m52 -50h0m126 -10h0m-57 136h0m-25 63h0m-42 -204h0m102 32h0m-73 -43h0m100 3h0m-77 200h0m-130 -79h0m167 -77h0m10 -58h0m-16 33h0m21 -101h0m8 98h0m-82 212h0m-17 -212h0m-30 265h0m86 -104h0m-127 -106h0m103 -65h0m13 179h0m-86 -141h0m73 13h0m17 -98h0m-20 243h0m17 -139h0m-155 103h0m68 -125h0m-40 41h0m6 -37h0m64 -23h0m-82 112h0m123 -79h0m27 152h0m13 -52h0m-74 103h0m-10 -250h0m-50 77h0m100 122h0m20 -141h0m-27 140h0m8 -197h0m-134 119h0m79 156h0m141 -290h0m-172 51h0m134 -13h0m-117 254h0m75 -312h0m-26 45h0m70 74h0m20 39h0m-34 -156h0m-6 -6h0m-9 57h0m12 73h0m-49 -95h0m39 99h0m-73 161h0m-25 -231h0m-69 101h0m-11 31h0m51 -92h0m151 44h0m-60 103h0m-34 43h0m36 -244h0m-36 -3h0m52 -17h0m37 18h0m-193 167h0m206 -137h0m-15 -26h0m15 86h0m-1 -122h0m-12 63h0m-142 30h0m4 -66h0m109 -6h0m3 56h0m-55 200h0m23 -47h0m3 16h0m33 -72h0m-7 -127h0m-20 166h0m36 -208h0m-163 160h0m136 56h0m49 -159h0m-37 19h0m-19 125h0m-63 -161h0m94 156h0m-27 -224h0m10 39h0m23 13h0m-81 254h0m-42 -222h0m119 -40h0m7 109h0m-23 38h0m5 78h0m61 -175h0m-167 2h0m-46 77h0m199 -172h0m14 -27h0m-40 124h0m-23 66h0m28 -66h0m13 2h0m-50 133h0m3 -202h0m-17 -2h0m45 65h0m-75 -29h0m44 5h0m-107 50h0m160 -135h0m3 78h0m-179 68h0m198 -35h0m-85 -82h0m12 176h0m20 -24h0m6 -100h0m-35 -39h0m7 223h0m3 -202h0m-152 140h0m150 19h0m-81 -143h0m105 94h0m-166 9h0m67 -67h0m40 -83h0m-23 63h0m120 17h0m-54 -111h0m-135 158h0m156 -72h0m-139 40h0m118 114h0m2 -147h0m28 20h0m-66 185h0m-99 -134h0m136 -140h0m-36 38h0m-13 3h0m-17 -24h0m48 2h0m11 24h0m-7 -41h0m-12 19h0m-38 38h0m54 185h0m-136 -85h0m185 -91h0m-163 35h0m61 198h0m-92 -125h0m121 79h0m42 -92h0m-52 95h0m82 -243h0m-135 52h0m116 17h0m-75 -43h0m37 209h0m-5 -197h0m1 -29h0m-61 8h0m93 -6h0m42 21h0m-76 9h0m34 89h0m7 -50h0m-89 207h0m-41 -208h0m100 -111h0m20 175h0m-5 72h0m0 -138h0m-34 -42h0m-85 44h0m39 -10h0m88 -28h0m-166 129h0m71 -122h0m10 -18h0m80 -18h0m-75 29h0m-5 254h0m112 -290h0m-130 43h0m80 -21h0m36 48h0m-5 -7h0m-10 -24h0m-8 150h0m-7 -3h0m38 -129h0m-145 31h0m-25 8h0m87 -91h0m46 127h0m-17 123h0m-10 -32h0m-2 -245h0m68 63h0m-89 -8h0m-46 40h0m38 198h0m33 -37h0m9 -17h0m-93 -133h0m118 79h0m-19 -150h0m12 139h0m20 -145h0m-11 77h0m-96 -19h0m102 -35h0m0 5h0m-76 9h0m83 122h0m-4 -16h0m-46 94h0m23 -52h0m-52 85h0m75 -257h0m-157 101h0m72 160h0m-44 -207h0m102 -15h0m-9 -85h0m-131 117h0m12 -24h0m174 -59h0m-158 113h0m155 -127h0m-17 14h0m-87 37h0m-62 68h0m118 -121h0m54 104h0m-182 36h0m112 120h0m-65 -224h0m16 -11h0m31 233h0m-87 -105h0m140 -98h0m-2 -24h0m-168 169h0m192 -121h0m-10 -31h0m-21 147h0m-20 26h0m31 -15h0m-46 61h0m-119 -81h0m101 -141h0m33 -26h0m13 12h0m-10 193h0m43 -167h0m14 36h0m-12 77h0m22 -67h0m-8 -246h0m16 195h0m-95 219h0m47 -241h0m-13 173h0m-86 -133h0m90 89h0m56 -138h0m-216 175h0m26 -71h0m161 -9h0m-105 181h0m131 -164h0m-74 -94h0m-59 -7h0m95 23h0m-12 131h0m29 -218h0m-12 58h0m-143 95h0m-37 54h0m136 99h0m50 -182h0m-24 114h0m39 -132h0m-159 33h0m-38 64h0m182 -149h0m-46 224h0m-61 -199h0m54 0h0m-3 3h0m-119 125h0m171 -115h0m-2 -33h0m17 31h0m-51 -9h0m37 102h0m22 -87h0m-20 32h0m-161 53h0m169 -60h0m-128 -18h0m-6 29h0m49 -58h0m-71 65h0m128 -86h0m12 130h0m-98 -95h0m4 -9h0m63 -10h0m-34 247h0m-102 -116h0m49 -91h0m87 -36h0m-17 -20h0m57 7h0m-6 21h0m2 75h0m18 4h0m12 61h0m-53 -23h0m33 -122h0m-26 135h0m-2 26h0m3 -92h0m-3 33h0m-7 -21h0m12 73h0m0 -203h0m63 12h0m-77 26h0m-14 241h0m34 -200h0m33 -6h0m-20 61h0m-1 -74h0m-37 -45h0m11 41h0m-39 204h0m-2 -8h0m47 -214h0m-53 239h0m106 -247h0m-50 65h0m-100 -27h0m-45 83h0m162 -143h0m-107 299h0m91 -157h0m23 -59h0m-37 90h0m-27 64h0m46 -189h0m-96 250h0m-36 -192h0m-34 60h0m96 -134h0" stroke="#ff4a26" stroke-width="4.2" stroke-linecap="round"/>
<path d="M236 2147h0m-59 15h0m3 46h0m142 -111h0m-51 82h0m37 -7h0m-202 139h0m195 -128h0m-35 -2h0m-10 141h0m-63 -167h0m91 40h0m-37 151h0m31 -156h0m10 86h0m-31 22h0m-28 67h0m-22 -186h0m26 201h0m-70 -160h0m126 39h0m-28 -48h0m-5 -65h0m-124 93h0m29 -40h0m106 77h0m2 14h0m32 37h0m-60 33h0m-69 90h0m49 -343h0m21 84h0m48 34h0m-43 127h0m-40 -157h0m59 37h0m49 -269h0m-73 233h0m-37 -4h0m48 -29h0m-36 246h0m-122 -89h0m167 -154h0m-156 137h0m12 -26h0m58 177h0m72 -250h0m13 11h0m-20 -29h0m-119 101h0m135 -159h0m-29 279h0m36 -221h0m30 120h0m-98 -176h0m-7 37h0m64 1h0m-23 208h0m75 -256h0m-136 86h0m101 -31h0m-89 260h0m22 -12h0m54 -109h0m-28 -92h0m-21 -56h0m10 215h0m70 -134h0m-45 132h0m-59 -174h0m21 1h0m59 113h0m-2 -92h0m-135 51h0m134 61h0m38 -152h0m-25 76h0m-13 87h0m-142 -83h0m8 -55h0m80 -50h0m-2 -4h0m44 23h0m11 123h0m90 -134h0m-71 80h0m-95 -33h0m24 193h0m-23 -210h0m-10 27h0m-17 -33h0m177 -14h0m-111 202h0m28 -48h0m4 -18h0m-29 88h0m53 -172h0m29 -13h0m-163 17h0m158 -40h0m-157 43h0m-52 94h0m135 -154h0m-119 132h0m161 13h0m-6 -104h0m3 -70h0m-30 47h0m38 -10h0m-107 16h0m94 -14h0m30 5h0m-34 123h0m-79 -118h0m101 101h0m-5 -79h0m-64 -59h0m85 32h0m-96 13h0m77 -13h0m-15 34h0m10 -1h0m-8 78h0m-17 -110h0m-138 112h0m96 -157h0m-77 104h0m160 -49h0m-64 196h0m46 -115h0m8 -17h0m-147 -15h0m94 117h0m-62 -148h0m94 112h0m-50 -110h0m-107 102h0m124 -154h0m-36 11h0m20 -54h0m111 28h0m-56 143h0m32 -114h0m-88 -9h0m169 -137h0m-199 174h0m-18 -22h0m102 -38h0m21 22h0m-91 -19h0m66 70h0m-44 167h0m13 -247h0m-36 55h0m-29 13h0m67 169h0m61 -229h0m-29 5h0m12 -48h0m-43 62h0m-24 239h0m-115 -70h0m127 -170h0m21 182h0m18 -126h0m28 -92h0m-35 248h0m29 -118h0m-52 -88h0m-11 217h0m34 -233h0m-125 57h0m130 4h0m-42 180h0m33 -64h0m-3 -6h0m-17 -151h0m-55 11h0m84 -96h0m-72 94h0m76 18h0m-144 61h0m157 -171h0m-14 193h0m4 -19h0m14 -85h0m-57 -46h0m27 53h0m-4 -5h0m28 16h0m-7 112h0m-86 -136h0m74 131h0m6 -83h0m-11 -106h0m-6 238h0m-20 19h0m40 -154h0m-29 -80h0m-61 65h0m111 33h0m-164 60h0m148 49h0m-4 -39h0m-10 26h0m36 -130h0m-12 -26h0m-58 209h0m-65 -186h0m87 -10h0m-139 119h0m148 -18h0m41 -45h0m-11 -95h0m-40 10h0m-8 195h0m45 -127h0m21 -20h0m-25 -55h0m-81 267h0m99 -247h0m-72 196h0m63 -71h0m-19 -132h0m-98 29h0m2 249h0m130 -327h0m-62 57h0m19 -54h0m24 34h0m-22 23h0m-5 -24h0m10 38h0m-69 -47h0m65 146h0m-20 75h0m41 -115h0m-26 -70h0m32 40h0m-45 -42h0m-9 181h0m45 -62h0m-19 8h0m55 -133h0m-34 68h0m52 19h0m-169 -61h0m99 -14h0m-60 -11h0m-15 10h0m-77 104h0m178 -205h0m-71 98h0m46 75h0m-37 -71h0m-100 62h0m79 152h0m95 -279h0m-23 159h0m-147 -16h0m69 -89h0m54 160h0m7 -20h0m-27 9h0m20 -129h0m1 41h0m-36 -85h0m67 119h0m0 -75h0m-186 133h0m118 -147h0m22 156h0m27 -22h0m36 -61h0m-57 -57h0m1 -6h0m-72 251h0m74 -259h0m20 14h0m-23 -59h0m-57 286h0m-20 20h0m93 -147h0m10 -78h0m2 26h0m11 -99h0m-54 30h0m-127 153h0m126 35h0m-22 -205h0m89 102h0m-150 -30h0m115 102h0m0 -166h0m-7 -33h0m-26 45h0m59 142h0m-76 80h0m36 -222h0m24 47h0m-155 61h0m146 -106h0m-136 82h0m90 -85h0m39 97h0m30 -94h0m21 -38h0m-133 -49h0m103 98h0m-4 -64h0m-30 28h0m1 156h0m9 44h0m-126 -104h0m159 36h0m36 -17h0m-132 -114h0m62 223h0m-37 -215h0m-13 248h0m106 -148h0m-27 -83h0m-155 87h0m31 -84h0m81 -37h0m1 18h0m-19 17h0m75 71h0m-144 -55h0m97 -23h0m10 122h0m-2 22h0m-28 -122h0m30 -23h0m-79 39h0m62 3h0m-14 -53h0m-21 241h0m79 -212h0m-79 -6h0m-94 125h0m127 47h0m5 -251h0m-9 281h0m32 -192h0m25 -116h0m-51 232h0m-67 -115h0m123 61h0m-27 -68h0m1 55h0m-14 -83h0m-105 79h0m-40 27h0m116 -68h0m41 143h0m-25 -215h0m-38 63h0m26 6h0m51 -35h0m-85 255h0m47 -91h0m-27 -123h0m0 -16h0m-18 -4h0m-16 -6h0m-59 68h0m129 63h0m65 -95h0m-100 165h0m-4 -218h0m62 12h0m-10 118h0m0 -32h0m24 -90h0m-155 103h0m58 -89h0m85 88h0m-25 -5h0m-24 -116h0m16 45h0m-86 24h0m2 17h0m110 77h0m-51 62h0m-31 -186h0m103 -96h0m-17 178h0m5 -71h0m-86 -23h0m-92 146h0m118 -167h0m39 93h0m-106 -34h0m-24 37h0m168 -91h0m-88 -20h0m-57 70h0m45 -2h0m68 -38h0m17 92h0m-108 -54h0m72 171h0m24 -116h0m-42 -107h0m-44 44h0m81 63h0m70 -103h0m-69 177h0m-12 -165h0m-61 23h0m39 155h0m38 -200h0m25 70h0m-64 149h0m35 -189h0m-79 11h0m93 85h0m-63 -98h0m26 -14h0m25 161h0m-99 -93h0m93 60h0m-7 -36h0m-65 161h0m71 -151h0m16 -57h0m-29 19h0m34 -59h0m-83 250h0m1 -228h0m62 129h0m-43 81h0m44 -111h0m-35 -110h0m-32 233h0m19 -11h0m59 -163h0m-114 -11h0m13 -79h0m97 124h0m-5 80h0m-124 -108h0m155 -69h0m-37 -30h0m52 49h0m-169 59h0m35 -61h0m-8 250h0m88 -193h0m-3 66h0m16 -117h0m-66 206h0m-14 28h0m-15 -217h0m129 -17h0m-75 -24h0m-12 16h0m8 -5h0m81 41h0m-7 -46h0m-51 154h0m-53 76h0m132 -317h0m-54 169h0m10 -54h0m19 37h0m-86 -36h0m-86 55h0m66 142h0m60 -110h0m-75 -96h0m73 67h0m-8 41h0m87 -194h0m-149 68h0m110 66h0m-29 72h0m-57 -163h0m56 38h0m5 -34h0m-65 -28h0m-5 302h0m99 -276h0m-198 155h0m169 -157h0m-54 0h0m-10 25h0m-11 6h0m-65 95h0m98 100h0m48 -197h0m-41 -43h0m-27 47h0m-38 248h0m45 -250h0m-71 25h0m127 84h0m-20 -84h0m33 96h0m8 -44h0m-12 41h0m-41 62h0m9 -186h0m-99 56h0m113 46h0m2 -34h0m-121 -32h0m35 -29h0m116 26h0m-44 -83h0m-9 201h0m10 -185h0m17 84h0m-114 -31h0m159 70h0m-33 -47h0m-31 121h0m-81 -129h0m62 -63h0m-103 122h0m124 -58h0m-129 66h0m57 -102h0m-56 106h0m130 -58h0m-47 166h0m79 -253h0m-127 78h0m96 -7h0m-99 -23h0m126 91h0m-161 -4h0m182 -121h0m-113 21h0m54 140h0m-20 -114h0m-40 -43h0m86 -77h0m31 137h0m-43 127h0m-116 -118h0m109 1h0m12 36h0m-157 45h0m66 -95h0m76 -9h0m28 67h0m25 -88h0m-27 8h0m-128 55h0m44 -132h0m53 193h0m-18 65h0m-9 -201h0m84 12h0m-21 69h0m-51 122h0m13 -172h0m-139 118h0m133 54h0m67 -153h0m-28 62h0m-108 -90h0m86 -50h0m23 48h0m-139 71h0m137 -52h0m-5 81h0m-8 20h0m9 -133h0m9 116h0m-130 -66h0m108 -8h0m-76 -35h0m79 151h0m15 -29h0m-86 123h0m103 -220h0m-18 -50h0m57 -52h0m-41 36h0m-78 32h0m54 83h0m-1 -54h0m-22 134h0m19 -97h0m-122 -24h0m109 -21h0m-72 14h0m78 -6h0m-1 20h0m-5 118h0m8 -71h0m-106 -86h0m81 9h0m7 7h0m5 -74h0m-3 82h0m19 77h0m-146 9h0m153 -27h0m-19 -83h0m0 -61h0m-115 110h0m86 -54h0m-19 213h0m45 -266h0m-108 111h0m65 -20h0m-20 -17h0m46 160h0m-94 -129h0m77 -75h0m-15 37h0m69 71h0m-11 -90h0m-6 100h0m8 23h0m-10 -24h0m-1 49h0m-98 -80h0m125 -12h0m-41 -41h0m28 -22h0m-43 14h0m26 33h0m97 -50h0m-181 47h0m86 -22h0m-81 -12h0m177 84h0m-165 -52h0m46 -47h0m-37 255h0m82 -228h0m-11 93h0m-8 41h0m-33 -138h0m-37 42h0m0 -28h0m106 66h0m-2 -79h0m-7 -23h0m-1 -56h0m21 216h0m-57 10h0m-136 -2h0m116 -140h0m-76 54h0m108 54h0m25 -44h0m-127 -4h0m131 -45h0m-101 0h0m97 -10h0m-71 -24h0m-95 113h0m144 30h0m-29 75h0m2 -14h0m5 -18h0m-52 -164h0m84 123h0m-94 -119h0m110 98h0m-44 -157h0m-14 63h0m39 -79h0m-4 171h0m-84 -55h0m121 -15h0m-173 33h0m119 -54h0m23 135h0m5 -85h0m2 2h0m-17 113h0m-7 -237h0m52 171h0m-38 -75h0m-81 -33h0m94 46h0m-99 0h0m20 187h0m95 -204h0m-94 -35h0m50 132h0m-11 26h0m24 -163h0m3 52h0" stroke="#ff2613" stroke-width="4.2" stroke-linecap="round"/>
<path d="M182 2446h0m28 -11h0m104 -229h0m-181 24h0m24 -26h0m103 111h0m19 -25h0m-110 -87h0m138 54h0m-41 -66h0m8 3h0m6 -71h0m-128 76h0m85 -64h0m-122 106h0m178 -109h0m-24 216h0m-16 14h0m-69 -225h0m-69 115h0m160 -117h0m-11 31h0m29 56h0m-62 -77h0m72 21h0m-137 30h0m0 -15h0m118 157h0m-21 -28h0m-82 -121h0m-46 38h0m162 26h0m-21 -47h0m-25 -45h0m44 33h0m-37 -64h0m9 222h0m-129 -140h0m149 -111h0m-154 140h0m63 -64h0m36 212h0m50 -113h0m-107 -147h0m-73 161h0m204 -210h0m-33 264h0m35 -170h0m-36 141h0m10 -135h0m-75 -2h0m84 26h0m-23 104h0m-112 -122h0m103 -22h0m31 124h0m-28 83h0m13 -65h0m-43 91h0m46 -194h0m3 0h0m-8 -20h0m-173 132h0m245 -80h0m-202 -26h0m116 136h0m14 -173h0m11 -51h0m-30 241h0m11 -177h0m2 -16h0m-57 253h0m-19 -244h0m90 14h0m-55 -16h0m-113 110h0m161 -94h0m-45 221h0m47 -95h0m-86 -128h0m3 244h0m130 -292h0m-57 2h0m64 6h0m-42 88h0m-185 41h0m36 -51h0m62 -80h0m74 12h0m45 80h0m-65 121h0m74 -211h0m-49 -35h0m16 148h0m-26 -136h0m-68 64h0m62 -65h0m-61 45h0m82 78h0m-5 -89h0m-31 -17h0m17 166h0m-22 49h0m-13 -214h0m-131 170h0m213 -132h0m-190 82h0m182 -106h0m-122 28h0m3 -8h0m111 77h0m-37 100h0m27 -190h0m-2 31h0m-35 -43h0m-9 239h0m-58 47h0m24 -278h0m95 56h0m-20 -18h0m2 52h0m-77 167h0m51 -229h0m-155 116h0m160 -135h0m-140 98h0m183 -121h0m-44 34h0m-4 126h0m-22 -155h0m-45 39h0m40 -43h0m9 31h0m-126 100h0m14 -35h0m45 -59h0m132 37h0m-170 6h0m61 202h0m-52 -205h0m144 -8h0m-38 -37h0m29 113h0m-116 -97h0m93 167h0m32 -251h0m-143 105h0m46 -51h0m-82 121h0m177 -22h0m26 -188h0m-138 121h0m104 15h0m-80 -45h0m8 -12h0m39 -52h0m32 185h0m-26 -130h0m40 29h0m-178 89h0m81 -114h0m24 262h0m81 -220h0m-59 -48h0m13 190h0m78 -123h0m-75 -43h0m-12 -20h0m28 159h0m4 -174h0m-25 210h0m-2 -187h0m-28 -46h0m75 -65h0m-34 261h0m24 -100h0m15 -48h0m-61 -30h0m41 70h0m-85 227h0m-68 -206h0m140 -54h0m5 128h0m-37 89h0m49 -50h0m-15 -161h0m-141 56h0m124 -135h0m-72 92h0m-18 1h0m167 -142h0m-214 220h0m212 -136h0m-53 144h0m8 -102h0m-60 -60h0m73 33h0m-129 34h0m127 -21h0m2 89h0m-59 -105h0m67 74h0m-32 -55h0m8 6h0m9 -48h0m-129 86h0m27 -30h0m-75 107h0m30 -116h0m152 91h0m-82 -108h0m87 -21h0m-36 38h0m-41 -13h0m54 144h0m-54 80h0m24 -265h0m-47 25h0m95 177h0m9 -127h0m-19 79h0m2 24h0m-11 30h0m-73 96h0m94 -255h0m-42 190h0m-33 39h0m48 -215h0m14 74h0m11 -38h0m-56 -86h0m80 12h0m-8 -36h0m-41 249h0m-38 -218h0m-31 36h0m57 160h0m-61 -167h0m61 -11h0m0 29h0m12 137h0m-7 -225h0m30 60h0m-41 189h0m56 -130h0m-31 105h0m-168 -35h0m216 -76h0m-70 -83h0m-158 195h0m178 -28h0m6 -22h0m-71 -107h0m77 76h0m-76 -54h0m48 -14h0m46 -46h0m-39 214h0m33 -185h0m-15 51h0m6 20h0m-65 -86h0m84 15h0m-70 2h0m51 8h0m-4 -15h0m-50 229h0m42 -99h0m13 45h0m-12 -164h0m-21 167h0m18 -146h0m-22 -16h0m31 14h0m-91 -62h0m11 289h0m81 -219h0m18 41h0m64 -116h0m-101 185h0m38 -198h0m-84 304h0m-30 36h0m7 -283h0m-8 3h0m76 159h0m-74 -144h0" stroke="#ff0000" stroke-width="4.2" stroke-linecap="round"/>
<line x1="320.5" y1="1592.4" x2="320.5" y2="2456" stroke="#777" stroke-width="1.9" stroke-dasharray="10 11"/>
<line x1="90.1" y1="2122.3" x2="732" y2="2122.3" stroke="#777" stroke-width="1.9" stroke-dasharray="10 11"/>
<text x="329" y="1632.9" font-size="21.8" fill="#8a8a8a">FDR 10%</text>
<line x1="90.1" y1="2456" x2="657.1" y2="1634.8" stroke="#000" stroke-width="2.4" stroke-dasharray="12 7"/>
<line x1="90.1" y1="1592.4" x2="90.1" y2="2456.9" stroke="#111" stroke-width="1.8"/>
<line x1="89.2" y1="2456" x2="925.7" y2="2456" stroke="#111" stroke-width="1.8"/>
<line x1="90.1" y1="2456" x2="98.1" y2="2456" stroke="#111" stroke-width="1.5"/>
<text x="81" y="2464.4" font-size="23" fill="#111" text-anchor="end">0</text>
<line x1="90.1" y1="2283.1" x2="98.1" y2="2283.1" stroke="#111" stroke-width="1.5"/>
<text x="81" y="2291.5" font-size="23" fill="#111" text-anchor="end">2</text>
<line x1="90.1" y1="2110.2" x2="98.1" y2="2110.2" stroke="#111" stroke-width="1.5"/>
<text x="81" y="2118.6" font-size="23" fill="#111" text-anchor="end">4</text>
<line x1="90.1" y1="1937.4" x2="98.1" y2="1937.4" stroke="#111" stroke-width="1.5"/>
<text x="81" y="1945.8" font-size="23" fill="#111" text-anchor="end">6</text>
<line x1="90.1" y1="1764.5" x2="98.1" y2="1764.5" stroke="#111" stroke-width="1.5"/>
<text x="81" y="1772.9" font-size="23" fill="#111" text-anchor="end">8</text>
<line x1="90.1" y1="1591.6" x2="98.1" y2="1591.6" stroke="#111" stroke-width="1.5"/>
<text x="81" y="1600" font-size="23" fill="#111" text-anchor="end">10</text>
<line x1="90.1" y1="2456" x2="90.1" y2="2448" stroke="#111" stroke-width="1.5"/>
<text x="90.1" y="2482.5" font-size="23" fill="#111" text-anchor="middle">0</text>
<line x1="209.5" y1="2456" x2="209.5" y2="2448" stroke="#111" stroke-width="1.5"/>
<text x="209.5" y="2482.5" font-size="23" fill="#111" text-anchor="middle">2</text>
<line x1="328.8" y1="2456" x2="328.8" y2="2448" stroke="#111" stroke-width="1.5"/>
<text x="328.8" y="2482.5" font-size="23" fill="#111" text-anchor="middle">4</text>
<line x1="448.2" y1="2456" x2="448.2" y2="2448" stroke="#111" stroke-width="1.5"/>
<text x="448.2" y="2482.5" font-size="23" fill="#111" text-anchor="middle">6</text>
<line x1="567.5" y1="2456" x2="567.5" y2="2448" stroke="#111" stroke-width="1.5"/>
<text x="567.5" y="2482.5" font-size="23" fill="#111" text-anchor="middle">8</text>
<line x1="686.9" y1="2456" x2="686.9" y2="2448" stroke="#111" stroke-width="1.5"/>
<text x="686.9" y="2482.5" font-size="23" fill="#111" text-anchor="middle">10</text>
<line x1="806.3" y1="2456" x2="806.3" y2="2448" stroke="#111" stroke-width="1.5"/>
<text x="806.3" y="2482.5" font-size="23" fill="#111" text-anchor="middle">12</text>
<line x1="925.6" y1="2456" x2="925.6" y2="2448" stroke="#111" stroke-width="1.5"/>
<text x="925.6" y="2482.5" font-size="23" fill="#111" text-anchor="middle">14</text>
<circle cx="766.7" cy="1894.7" r="2.3" fill="#8000ff"/>
<text x="796.6" y="1898" font-size="16.2" fill="#111">Signature.1</text>
<circle cx="766.7" cy="1920.4" r="2.3" fill="#6826fe"/>
<text x="796.6" y="1923.7" font-size="16.2" fill="#111">Signature.2</text>
<circle cx="766.7" cy="1946" r="2.3" fill="#504afc"/>
<text x="796.6" y="1949.3" font-size="16.2" fill="#111">Signature.3</text>
<circle cx="766.7" cy="1971.7" r="2.3" fill="#386df9"/>
<text x="796.6" y="1975" font-size="16.2" fill="#111">Signature.4</text>
<circle cx="766.7" cy="1997.3" r="2.3" fill="#208ef4"/>
<text x="796.6" y="2000.6" font-size="16.2" fill="#111">Signature.5</text>
<circle cx="766.7" cy="2023" r="2.3" fill="#08acee"/>
<text x="796.6" y="2026.2" font-size="16.2" fill="#111">Signature.6</text>
<circle cx="766.7" cy="2048.6" r="2.3" fill="#12c8e6"/>
<text x="796.6" y="2051.9" font-size="16.2" fill="#111">Signature.8</text>
<circle cx="766.7" cy="2074.2" r="2.3" fill="#2adddd"/>
<text x="796.6" y="2077.6" font-size="16.2" fill="#111">Signature.12</text>
<circle cx="766.7" cy="2099.9" r="2.3" fill="#42edd3"/>
<text x="796.6" y="2103.2" font-size="16.2" fill="#111">Signature.13</text>
<circle cx="766.7" cy="2125.6" r="2.3" fill="#5af8c8"/>
<text x="796.6" y="2128.9" font-size="16.2" fill="#111">Signature.15</text>
<circle cx="766.7" cy="2151.2" r="2.3" fill="#72febb"/>
<text x="796.6" y="2154.5" font-size="16.2" fill="#111">Signature.16</text>
<circle cx="766.7" cy="2176.8" r="2.3" fill="#8cfead"/>
<text x="796.6" y="2180.2" font-size="16.2" fill="#111">Signature.17a</text>
<circle cx="766.7" cy="2202.5" r="2.3" fill="#a4f89f"/>
<text x="796.6" y="2205.8" font-size="16.2" fill="#111">Signature.17b</text>
<circle cx="766.7" cy="2228.2" r="2.3" fill="#bced8f"/>
<text x="796.6" y="2231.5" font-size="16.2" fill="#111">Signature.18</text>
<circle cx="766.7" cy="2253.8" r="2.3" fill="#d4dd80"/>
<text x="796.6" y="2257.1" font-size="16.2" fill="#111">Signature.19</text>
<circle cx="766.7" cy="2279.4" r="2.3" fill="#ecc86f"/>
<text x="796.6" y="2282.8" font-size="16.2" fill="#111">Signature.21</text>
<circle cx="766.7" cy="2305.1" r="2.3" fill="#ffac5c"/>
<text x="796.6" y="2308.4" font-size="16.2" fill="#111">Signature.26</text>
<circle cx="766.7" cy="2330.8" r="2.3" fill="#ff8e4a"/>
<text x="796.6" y="2334.1" font-size="16.2" fill="#111">Signature.28</text>
<circle cx="766.7" cy="2356.4" r="2.3" fill="#ff6d38"/>
<text x="796.6" y="2359.7" font-size="16.2" fill="#111">Signature.34</text>
<circle cx="766.7" cy="2382.1" r="2.3" fill="#ff4a26"/>
<text x="796.6" y="2385.4" font-size="16.2" fill="#111">Signature.35</text>
<circle cx="766.7" cy="2407.7" r="2.3" fill="#ff2613"/>
<text x="796.6" y="2411" font-size="16.2" fill="#111">Signature.39</text>
<circle cx="766.7" cy="2433.3" r="2.3" fill="#ff0000"/>
<text x="796.6" y="2436.7" font-size="16.2" fill="#111">Signature.40</text>
<text x="507.6" y="2515" font-size="22.3" fill="#111" text-anchor="middle">-log10(p) of signature-gene pairs</text>
<text x="37" y="2025.8" font-size="22.4" fill="#111" text-anchor="middle" transform="rotate(-90 37 2025.8)">-log10(p) of signature-gene pairs in just carcinoma samples</text>
<path d="M1270 2146h0m-198 54h0m191 161h0m51 -152h0m15 -376h0m-98 549h0m34 44h0m-7 -417h0m42 289h0m-167 -241h0m147 254h0m35 -32h0m-181 -83h0m-55 26h0m281 75h0m-157 120h0m78 -152h0m148 5h0m-169 50h0m-51 -277h0m64 183h0m-44 200h0m164 -298h0m-189 -32h0m6 307h0m-1 -18h0m113 -86h0m-256 -49h0m318 -180h0m-114 240h0m-84 126h0m-27 -316h0m105 -68h0m-20 -4h0m7 199h0m114 -144h0m-193 43h0m137 113h0m-73 -75h0m56 142h0m-218 -143h0m191 -23h0m13 88h0m-61 -153h0m121 131h0m-283 1h0m201 -223h0m20 390h0m-86 44h0m14 5h0m-12 -518h0m-97 270h0m139 -169h0m45 299h0m-19 59h0m-156 -285h0m219 204h0m-53 -2h0m-92 122h0m89 -109h0m-4 103h0m85 -156h0m-157 187h0m-103 -225h0m113 163h0m75 -263h0m-80 318h0m-89 -250h0m198 4h0m-27 186h0m-167 -175h0m36 -50h0m206 24h0m-49 71h0m-92 89h0m78 -131h0m12 79h0m-206 -176h0m204 26h0m-99 -76h0m115 282h0m-2 -255h0m-132 327h0m102 -125h0m-77 -142h0m48 153h0m-46 71h0m134 -173h0m-100 175h0m-56 -207h0m23 -17h0m64 202h0m-65 -187h0m-10 275h0m23 -105h0m21 41h0m-14 7h0m245 -547h0m-208 497h0m137 -168h0m-180 189h0m57 22h0m45 -341h0m103 -43h0m-163 230h0m-9 -52h0m45 179h0m-50 -141h0m-20 95h0m6 63h0m33 -162h0m-63 -80h0m170 -39h0m-249 78h0m57 267h0m-126 -184h0m261 126h0m-212 -244h0m137 187h0m-178 -123h0m156 261h0m-30 -310h0m73 153h0m-171 -88h0m94 -26h0" stroke="#8000ff" stroke-width="4.2" stroke-linecap="round"/>
<path d="M1331 2117h0m-77 204h0m-74 102h0m96 -122h0m19 38h0m146 -232h0m-12 -63h0m-130 294h0m-171 -146h0m55 -42h0m279 -83h0m-184 0h0m-161 136h0m199 70h0m-38 -6h0m38 29h0m9 -48h0m-29 2h0m-86 159h0m-10 -49h0m74 35h0m-18 -288h0m-10 237h0m-143 -187h0m192 -244h0m-105 254h0m57 -94h0m85 256h0m-88 -164h0m-14 184h0m183 13h0m-164 -63h0m-8 11h0m-161 -89h0m49 -76h0m114 143h0m-124 -96h0m-48 2h0m273 144h0m-123 -271h0m89 210h0m-95 -213h0m68 320h0m-148 -199h0m256 187h0m-267 -181h0m140 61h0m-3 -233h0m-168 206h0m219 102h0m12 -154h0m21 87h0m-71 45h0m-116 -331h0m53 71h0m100 240h0m-93 111h0m29 -31h0m-54 -236h0m58 -128h0m119 113h0m-131 311h0m98 -159h0m-22 129h0m-128 48h0m204 -238h0m-340 34h0m222 -252h0m120 321h0m-199 118h0m265 -469h0m-266 467h0m-69 -261h0m206 -41h0m-25 236h0m-128 85h0m82 -178h0m167 -393h0m-175 419h0m-55 -222h0m91 44h0m-4 62h0m2 47h0m-59 130h0m135 -45h0m-97 -100h0m-94 -186h0m52 143h0m18 182h0m-26 -207h0m-11 305h0m30 -41h0m-66 -331h0m25 68h0m-4 -284h0m189 409h0m-173 -155h0m278 -121h0m-309 169h0m165 56h0m-138 191h0m60 -215h0m-36 188h0m106 -581h0m-243 417h0m133 216h0m102 -197h0m19 -48h0m-178 -156h0m164 34h0m-236 146h0m160 152h0m-201 -111h0" stroke="#6c1fff" stroke-width="4.2" stroke-linecap="round"/>
<path d="M1134 2114h0m138 195h0m-46 -219h0m173 111h0m-144 132h0m-92 -226h0m34 45h0m-84 -18h0m93 -40h0m201 -329h0m-141 416h0m-4 24h0m96 29h0m9 91h0m-134 40h0m191 -251h0m-145 180h0m39 24h0m-202 -161h0m230 34h0m-82 -153h0m13 265h0m-56 78h0m53 -86h0m97 -118h0m-48 -33h0m-21 -40h0m106 -145h0m-188 453h0m125 -392h0m-298 238h0m204 23h0m-18 97h0m56 -53h0m-190 -114h0m147 149h0m289 -619h0m-329 450h0m-147 20h0m175 141h0m-45 -154h0m114 184h0m-53 41h0m13 -231h0m9 -247h0m-82 481h0m9 -289h0m99 120h0m-30 -174h0m53 209h0m-44 -181h0m71 96h0m-254 11h0m128 187h0m56 -122h0m-46 -98h0m19 -148h0m-111 59h0m177 80h0m-44 210h0m-94 62h0m28 -332h0m108 79h0m-129 255h0m159 -300h0m10 171h0m-239 -146h0m85 232h0m107 -346h0m59 62h0m-278 -98h0m158 -4h0m-22 404h0m40 -192h0m-54 110h0m39 -212h0m140 -13h0m-193 296h0m79 -85h0m89 -182h0m-38 122h0m66 -75h0m-131 126h0m-20 28h0m47 -204h0m-117 10h0m162 124h0m-147 -191h0m-18 7h0m-62 86h0m46 -50h0m151 69h0m25 -219h0m-86 450h0m-86 -241h0m97 119h0m-182 -63h0m277 -51h0m-289 -79h0m173 154h0m95 -104h0m-192 -3h0m123 83h0" stroke="#583efd" stroke-width="4.2" stroke-linecap="round"/>
<path d="M1309 2244h0m-59 0h0m166 -18h0m-166 230h0m-205 -175h0m172 70h0m52 -319h0m-118 110h0m119 154h0m-75 106h0m47 -110h0m-121 -186h0m47 320h0m178 -192h0m-16 -96h0m-85 160h0m-33 110h0m70 -44h0m-174 -182h0m227 91h0m-88 -87h0m-173 52h0m41 -55h0m274 -75h0m-73 65h0m-34 214h0m41 -291h0m-74 271h0m-25 -360h0m44 95h0m17 236h0m-223 -80h0m246 -38h0m-30 93h0m119 -160h0m-174 -51h0m14 127h0m-18 162h0m61 -242h0m-1 114h0m-220 -9h0m168 151h0m1 -39h0m53 -36h0m-71 40h0m73 -99h0m-19 -129h0m-44 195h0m199 -162h0m-229 -85h0m72 217h0m-47 -206h0m195 96h0m-69 105h0m-133 101h0m65 -39h0m-18 -74h0m6 -2h0m-151 -80h0m84 194h0m56 -217h0m-27 193h0m72 -124h0m-239 16h0m201 123h0m-10 -102h0m69 -153h0m-61 -53h0m-5 236h0m-43 -238h0m131 138h0m-74 -65h0m18 -77h0m130 58h0m-234 -43h0m-104 114h0m-14 -12h0m135 205h0m41 -24h0m-153 -141h0m163 -54h0m287 -330h0m-169 321h0m-120 183h0m62 -13h0m-65 22h0m16 -223h0m18 -44h0m-43 210h0m-17 84h0m64 -189h0m-99 -98h0m38 294h0m83 -185h0m71 8h0m-119 146h0m-4 -47h0m-2 71h0m40 -64h0m-153 -207h0m15 68h0m106 146h0m-152 -106h0m180 97h0m41 -142h0m-73 54h0m-68 178h0m15 -345h0m-89 126h0m151 -277h0" stroke="#445cfb" stroke-width="4.2" stroke-linecap="round"/>
<path d="M1050 2255h0m271 1h0m-91 -73h0m-10 196h0m-43 75h0m140 -129h0m-17 -122h0m-98 187h0m14 -288h0m42 103h0m8 78h0m-202 -28h0m230 105h0m-194 -170h0m61 -166h0m202 -1h0m-194 143h0m29 20h0m13 220h0m11 10h0m16 -41h0m-192 -96h0m241 -35h0m-12 -21h0m-188 -13h0m210 31h0m-21 -23h0m-2 -139h0m209 -94h0m-185 215h0m-151 -29h0m102 -216h0m151 247h0m-117 -60h0m43 54h0m-35 55h0m-168 -96h0m201 208h0m-134 -280h0m87 203h0m-18 -239h0m-26 346h0m9 52h0m-6 -60h0m-45 52h0m150 -239h0m-77 68h0m-181 -116h0m124 -32h0m-161 108h0m243 65h0m-48 86h0m6 -322h0m-13 333h0m-97 -220h0m72 259h0m52 -233h0m-38 238h0m76 -234h0m-74 136h0m35 -104h0m65 108h0m-25 -227h0m-66 151h0m-172 -9h0m177 33h0m-2 95h0m-167 -166h0m171 67h0m377 -669h0m-528 604h0m81 213h0m-35 -273h0m121 250h0m99 -197h0m10 59h0m-149 103h0m184 -348h0m-241 148h0m110 -122h0m-7 260h0m-28 39h0m29 -69h0m-62 169h0m46 -78h0m-22 21h0m119 -113h0m-36 -39h0m-248 37h0m7 -40h0m192 -119h0m-43 279h0m-20 15h0m44 -16h0m-33 11h0m-45 -249h0m101 -138h0m12 243h0m56 -10h0m-71 82h0m-52 -142h0m189 -47h0m-189 -49h0m-122 93h0m186 146h0m-47 38h0m-34 -192h0m-71 19h0m148 -95h0m17 290h0m-92 18h0m10 -311h0m41 221h0m-154 -149h0m-6 -21h0m-29 34h0m174 -38h0m-77 -58h0" stroke="#3079f7" stroke-width="4.2" stroke-linecap="round"/>
<path d="M1237 2097h0m-18 328h0m-114 -207h0m109 184h0m119 -46h0m-229 -191h0m213 164h0m-95 78h0m-36 -258h0m136 81h0m-223 -32h0m170 -50h0m-113 4h0m19 27h0m195 -112h0m-144 317h0m107 -339h0m-33 230h0m115 -189h0m-191 294h0m-129 -181h0m221 66h0m49 -480h0m-298 435h0m-5 25h0m157 104h0m-3 47h0m93 -266h0m-13 255h0m-80 -232h0m-124 -4h0m208 103h0m-176 -83h0m-14 -42h0m-29 20h0m167 209h0m53 -112h0m-64 159h0m19 -267h0m45 14h0m-112 -10h0m-30 -3h0m19 303h0m-25 -272h0m91 113h0m57 59h0m-53 38h0m-48 47h0m-85 -308h0m72 16h0m72 265h0m-170 -174h0m149 159h0m74 -52h0m-214 -143h0m-40 17h0m58 -97h0m-25 104h0m220 -229h0m-4 189h0m-53 -134h0m-16 -68h0m33 376h0m-98 -348h0m68 425h0m45 -223h0m-14 -78h0m-30 233h0m16 -160h0m4 109h0m-8 116h0m-7 -169h0m159 42h0m-315 -108h0m38 7h0m133 -221h0m185 107h0m-290 46h0m275 -99h0m-137 326h0m-17 -37h0m-18 43h0m-66 50h0m79 -40h0m22 -132h0m-245 59h0m215 -151h0m0 251h0m-203 -235h0m214 213h0m0 -42h0m-61 36h0m10 -220h0m-7 221h0m-41 63h0m12 2h0m-19 -6h0m100 -233h0m-199 -43h0m155 -139h0m109 -113h0m45 318h0m-215 -64h0m119 96h0m38 -120h0m-78 11h0m15 64h0m-148 -2h0m44 -6h0m114 -174h0m236 2h0m-203 238h0m-92 -104h0m122 94h0m-116 -70h0m55 -58h0m7 263h0m-65 -239h0m124 117h0m-79 123h0m145 -199h0m-157 169h0m49 -167h0m-83 -44h0m68 162h0m43 -170h0m-85 173h0m-157 -105h0m213 94h0m-22 10h0m40 -110h0m-137 -34h0m95 -6h0m-4 143h0m11 -5h0" stroke="#1996f3" stroke-width="4.2" stroke-linecap="round"/>
<path d="M1250 2166h0m70 8h0m56 -34h0m-167 238h0m31 -251h0m36 31h0m20 64h0m-46 -115h0m14 153h0m-12 -103h0m46 22h0m25 -151h0m-46 105h0m-33 -89h0m-93 69h0m131 112h0m57 -191h0m-136 42h0m82 195h0m86 -235h0m66 63h0m-96 88h0m-9 -16h0m-47 -7h0m-54 -10h0m23 120h0m-7 57h0m-40 -175h0m246 -422h0m-198 419h0m14 20h0m77 -94h0m-32 95h0m-52 85h0m67 -173h0m-10 155h0m-41 25h0m-2 -58h0m63 -2h0m-111 -66h0m65 -72h0m79 -68h0m-110 83h0m-41 -71h0m31 333h0m18 -147h0m3 -5h0m10 57h0m-27 -39h0m70 -52h0m-35 -114h0m-19 162h0m84 -129h0m-159 344h0m185 -293h0m-141 211h0m3 -172h0m-27 145h0m72 -79h0m14 24h0m-64 -99h0m-102 11h0m129 -78h0m-33 219h0m6 -21h0m5 -118h0m-45 213h0m166 -293h0m-116 161h0m-57 -130h0m158 -69h0m-100 31h0m-17 11h0m183 58h0m-14 -182h0m-123 362h0m-5 -82h0m-22 -137h0m-41 304h0m78 -392h0m108 122h0m-145 59h0m-125 -63h0m111 -18h0m7 -2h0m13 57h0m31 -46h0m-4 43h0m-68 -31h0m172 -2h0m-80 -213h0m-37 363h0m10 -13h0m-12 -173h0m-8 13h0m0 107h0m-107 -92h0m34 -5h0m60 64h0m5 -52h0m-76 -37h0m-28 41h0m91 150h0m124 -127h0m-7 -73h0m-265 123h0m179 65h0m-80 -163h0m15 58h0m279 -358h0m-235 434h0m173 -208h0m-184 126h0m90 -113h0m29 60h0m-144 267h0m-66 -236h0m118 44h0m-15 181h0m27 -281h0m-12 66h0m-112 -90h0m222 73h0m-52 21h0m53 -70h0m-17 36h0m147 -318h0m-311 346h0m113 48h0m9 -29h0m32 -18h0m-10 -82h0m-10 39h0m-194 20h0m180 60h0m114 -125h0m-100 59h0m-94 190h0m-13 -52h0m144 -263h0m-74 144h0m275 -81h0m-238 25h0m79 -6h0m-202 83h0m-34 264h0m310 -426h0m-355 168h0m134 -17h0m142 -60h0m-188 234h0m162 -419h0m-155 247h0m16 166h0m36 -171h0m90 -215h0m-112 177h0m52 96h0m153 -418h0m-242 559h0m171 -340h0m-128 287h0m-11 -223h0m2 72h0m40 90h0m-74 -214h0m17 89h0m156 108h0m-108 -81h0m-56 -125h0m62 167h0m-67 155h0m21 -257h0m33 108h0m70 -12h0m94 -132h0m-187 281h0m62 -145h0m-46 3h0m-70 228h0m81 -195h0m28 -30h0m-49 -58h0m-38 80h0m101 -16h0m77 -123h0m-148 177h0m74 -52h0m-50 37h0m226 -137h0m-194 -98h0m-89 269h0m-29 -104h0m195 -177h0m-144 358h0m3 -192h0m10 92h0m-1 -165h0m-11 167h0m163 -175h0m-117 180h0m-19 38h0m59 -262h0m-64 184h0m1 63h0m-13 -143h0m124 -103h0m-100 136h0m182 -348h0m-233 286h0m350 -290h0m-300 379h0m1 -111h0" stroke="#06aeed" stroke-width="4.2" stroke-linecap="round"/>
<path d="M1396 2078h0m-93 43h0m-29 160h0m32 -3h0m-95 -237h0m56 189h0m124 -325h0m-158 70h0m16 306h0m-36 -146h0m-9 14h0m55 3h0m152 -307h0m-141 218h0m2 148h0m-86 162h0m68 -205h0m3 -3h0m-6 74h0m50 -54h0m93 -99h0m-78 -69h0m-206 155h0m131 -33h0m139 -146h0m-169 32h0m52 289h0m34 -239h0m-46 102h0m7 -58h0m-37 -4h0m20 133h0m62 -142h0m88 -188h0m-60 285h0m-117 -46h0m79 38h0m-169 -52h0m203 -40h0m26 -70h0m-38 44h0m-43 117h0m8 -13h0m-66 182h0m110 -203h0m-14 -32h0m-44 164h0m-8 -85h0m50 -58h0m-143 -123h0m68 72h0m-25 307h0m43 -152h0m56 -67h0m-39 181h0m-28 -232h0m-20 33h0m12 -70h0m48 53h0m165 -32h0m-243 18h0m160 73h0m-125 39h0m91 -75h0m62 -223h0m-135 327h0m-171 -61h0m164 86h0m-52 -202h0m105 102h0m24 -113h0m-86 244h0m56 -193h0m-126 3h0m78 -25h0m109 -36h0m-127 272h0m285 -314h0m-214 217h0m-57 78h0m-151 -121h0m276 22h0m-238 -51h0m78 236h0m54 -237h0m18 -15h0m90 57h0m-111 56h0m-23 -150h0m60 43h0m-40 139h0m-25 -13h0m47 -127h0m-9 141h0m-15 -105h0m37 -86h0m250 -329h0m-295 314h0m40 80h0m-20 -10h0m-19 84h0m-27 -110h0m121 -126h0m-95 103h0m-2 81h0m28 71h0m-2 -1h0m-22 31h0m33 -205h0m-89 29h0m62 67h0m103 -356h0m-138 321h0m52 30h0m0 -86h0m-34 156h0m-5 -126h0m60 -171h0m110 201h0m-116 78h0m-62 99h0m10 -171h0m110 -40h0m-54 36h0m107 -83h0m-152 61h0m21 207h0m-16 -50h0m31 -168h0m-24 180h0m24 -88h0m112 -97h0m-167 -9h0m4 -33h0m-35 56h0m121 27h0m-10 -40h0m-88 163h0m10 -241h0m53 140h0m-26 100h0m36 -119h0m17 20h0m-23 -28h0m-28 141h0m5 35h0m19 -12h0m-51 -178h0m204 -225h0m-209 244h0m45 -67h0m51 57h0m-66 -7h0m-26 140h0m44 -143h0m-16 -4h0m26 -162h0m-107 153h0m82 -81h0m48 85h0m-28 -51h0m-91 103h0m113 -72h0m-62 -147h0m78 9h0m-44 19h0m-30 283h0m70 -198h0m37 58h0m-94 35h0m-58 -29h0m30 -50h0m85 172h0m-50 -62h0m-90 -126h0m158 128h0m-10 -116h0m-31 -10h0m103 -41h0m-58 103h0m-73 42h0m102 -81h0m-116 42h0m-7 49h0m-11 94h0m108 -243h0m-55 65h0m77 152h0m-72 -150h0m-46 25h0m160 26h0m-94 2h0m31 -299h0m-226 279h0m224 1h0m-27 -48h0m67 -3h0" stroke="#0fc4e7" stroke-width="4.2" stroke-linecap="round"/>
<path d="M1243 2224h0m34 -62h0m25 -161h0m-94 181h0m55 151h0m-44 -162h0m9 149h0m19 -52h0m12 -147h0m231 -142h0m-248 272h0m29 83h0m133 -233h0m3 -33h0m-98 203h0m-44 -26h0m78 -48h0m-203 -21h0m290 -89h0m-128 135h0m7 -13h0m-21 53h0m-10 -60h0m31 -100h0m-73 242h0m176 -523h0m-215 554h0m51 -200h0m133 -244h0m-175 215h0m263 -224h0m-389 307h0m118 -31h0m89 63h0m-26 -31h0m-29 10h0m20 48h0m106 -173h0m-58 -7h0m18 51h0m27 -84h0m-105 105h0m-81 -119h0m14 95h0m170 -8h0m12 34h0m-105 115h0m32 52h0m-37 -22h0m248 -346h0m-290 178h0m84 -12h0m-46 77h0m83 -114h0m152 -72h0m-248 111h0m27 133h0m239 -323h0m-269 377h0m50 -201h0m20 87h0m149 -365h0m-244 342h0m19 26h0m52 -25h0m136 -90h0m-151 195h0m-1 -143h0m99 -139h0m-96 9h0m-92 93h0m98 100h0m-6 -19h0m72 -52h0m-125 208h0m93 -72h0m-11 -213h0m-24 247h0m-4 -97h0m18 9h0m-18 27h0m64 -208h0m-111 -81h0m26 244h0m-3 -2h0m41 -28h0m39 -60h0m88 -162h0m-160 230h0m14 -57h0m53 125h0m-32 -108h0m-6 96h0m-24 -73h0m-6 77h0m26 -99h0m188 -184h0m-36 119h0m-244 76h0m21 -49h0m43 -76h0m127 -142h0m-113 302h0m45 23h0m14 5h0m-11 -94h0m-32 -133h0m-1 148h0m204 -48h0m-108 -124h0m-75 299h0m-31 24h0m-103 -146h0m94 128h0m334 -378h0m-286 220h0m-26 -48h0m51 43h0m61 -80h0m-126 -42h0m43 190h0m-99 -17h0m76 52h0m45 -146h0m-49 38h0m-71 -9h0m78 154h0m-20 -27h0m-47 134h0m26 -304h0m29 109h0m25 42h0m129 -194h0m-144 146h0m-19 146h0m-46 67h0m38 -187h0m110 1h0m-49 -119h0m-61 279h0m-32 -341h0m84 179h0m-99 216h0m216 -276h0m-139 112h0m-6 -14h0m-9 -27h0m-1 -97h0m25 136h0m-39 110h0m35 -303h0m-57 306h0m-20 -16h0m163 -256h0m-48 34h0m-39 85h0m74 -57h0m-117 -9h0m41 149h0m15 14h0m31 -54h0m21 -297h0m-38 122h0m-81 90h0m-44 -67h0m14 26h0m-15 54h0m71 73h0m8 -151h0m14 64h0m-55 -29h0m86 14h0m91 -88h0m-119 100h0m-51 -22h0m61 96h0m-27 25h0m20 32h0m-4 -154h0m36 205h0m72 -123h0m-131 3h0m57 -117h0m-73 182h0m79 -296h0m-142 193h0m95 39h0m-15 -75h0m44 47h0m23 -54h0m131 59h0m-114 -155h0m-127 35h0m63 48h0m7 170h0m-72 -156h0" stroke="#22d6e0" stroke-width="4.2" stroke-linecap="round"/>
<path d="M1282 2161h0m339 -204h0m-271 -15h0m-20 298h0m-96 67h0m4 -156h0m52 -58h0m24 47h0m-26 14h0m-56 35h0m13 -58h0m39 136h0m4 -19h0m3 -94h0m-31 131h0m-12 -96h0m18 -27h0m33 -34h0m-75 45h0m9 146h0m44 -77h0m-123 -51h0m154 38h0m-41 -35h0m133 -348h0m-155 329h0m-85 -20h0m34 -41h0m27 251h0m77 -171h0m208 -165h0m-75 -39h0m-187 165h0m42 -76h0m-65 68h0m-15 -4h0m31 38h0m135 34h0m-146 -42h0m11 30h0m10 -70h0m-2 53h0m-5 -41h0m54 123h0m178 -326h0m-131 235h0m-7 -61h0m-58 143h0m19 32h0m58 -108h0m-143 -11h0m-7 222h0m510 -662h0m-478 397h0m135 -211h0m-66 271h0m26 -166h0m-3 152h0m-86 121h0m5 -16h0m-66 -154h0m100 -40h0m136 -86h0m-142 93h0m-90 78h0m-38 -12h0m156 -4h0m38 5h0m-91 55h0m48 -79h0m2 53h0m46 93h0m-111 2h0m-3 -145h0m218 -209h0m-294 215h0m97 72h0m77 -163h0m-114 362h0m1 -248h0m21 29h0m35 121h0m122 -216h0m-88 9h0m-74 176h0m-7 38h0m-121 -126h0m334 -192h0m-161 207h0m-26 -2h0m-53 -21h0m76 37h0m-72 180h0m49 -265h0m-53 -23h0m200 45h0m-157 164h0m87 -120h0m16 -20h0m-57 48h0m-13 -115h0m-120 31h0m9 -47h0m86 114h0m119 -6h0m-71 -81h0m-92 -3h0m111 -22h0m231 -445h0m-210 420h0m-32 92h0m-108 23h0m69 67h0m218 -671h0m-192 598h0m-75 148h0m84 -290h0m-57 170h0m-66 191h0m183 -255h0m-16 -34h0m-89 76h0m28 36h0m-49 48h0m1 -69h0m-15 101h0m-14 49h0m34 -169h0m71 -95h0m-85 25h0m141 -133h0m250 25h0m-365 220h0m116 -121h0m-10 -19h0m-78 136h0m-109 -65h0m142 -227h0m-6 237h0m19 68h0m-16 -2h0m21 -126h0m-188 11h0m82 -7h0m0 243h0m248 -331h0m-191 178h0m0 -80h0m127 -186h0m-38 111h0m-66 225h0m-38 -28h0m-16 -63h0m47 -164h0m-52 151h0m-7 -33h0m-57 -10h0m136 141h0m-98 -74h0m137 -213h0m-130 51h0m-3 298h0m-146 -90h0m66 -58h0m142 -14h0m-60 -108h0m38 247h0m111 -72h0m-67 -133h0m89 58h0m-192 26h0m58 75h0m37 -60h0m-223 20h0m295 -134h0m-167 42h0m24 92h0m-28 -111h0m64 -121h0m68 151h0m-68 -9h0m-44 -35h0m1 53h0m20 149h0m43 -114h0m34 -13h0m-112 -88h0m112 123h0m-55 -82h0m-40 -56h0m198 -64h0m-174 54h0m-59 65h0m120 73h0m-65 14h0m212 -55h0m-195 131h0m89 -59h0m-126 -125h0m39 167h0m-80 -146h0m69 145h0m35 -147h0m42 71h0m-1 -123h0m-14 110h0m-35 62h0m41 -13h0m-64 41h0m-40 73h0m54 -62h0m-50 50h0m14 -215h0m116 -70h0m-92 169h0m-178 -18h0m411 -226h0m-231 295h0m10 68h0m-26 -56h0" stroke="#38e7d7" stroke-width="4.2" stroke-linecap="round"/>
<path d="M1294 2173h0m3 116h0m-49 27h0m16 -90h0m-5 -71h0m-49 -13h0m29 116h0m-36 133h0m-27 -235h0m128 111h0m-40 -253h0m-21 173h0m66 -13h0m-1 104h0m-69 -16h0m112 -104h0m23 -22h0m-264 30h0m62 -2h0m124 -85h0m-13 -6h0m-21 182h0m79 -125h0m-59 40h0m84 -241h0m-121 94h0m1 225h0m84 -47h0m-37 -52h0m25 -36h0m-55 5h0m-39 96h0m194 -314h0m-178 391h0m28 37h0m250 -283h0m-304 316h0m-2 5h0m37 -8h0m11 -102h0m-92 -87h0m124 17h0m-71 -42h0m-6 -57h0m45 84h0m-191 72h0m194 46h0m-30 -139h0m52 -161h0m34 180h0m-66 52h0m-43 -27h0m57 -83h0m31 39h0m-18 67h0m8 -165h0m-67 264h0m26 -105h0m-44 -123h0m197 103h0m-215 -31h0m45 47h0m114 -138h0m-72 75h0m32 -28h0m0 -47h0m-47 164h0m188 -424h0m-99 321h0m87 -39h0m-205 81h0m39 27h0m25 -70h0m-53 65h0m53 -158h0m-62 106h0m-13 159h0m71 -106h0m-58 146h0m28 -69h0m103 -173h0m-66 60h0m-41 28h0m133 -142h0m-72 173h0m-104 -60h0m46 95h0m35 10h0m45 -167h0m-3 180h0m-78 -23h0m74 -112h0m-177 -23h0m356 -136h0m-228 269h0m-51 47h0m49 -106h0m-1 -42h0m-165 24h0m157 139h0m-30 12h0m65 -171h0m-46 -7h0m54 -30h0m-45 145h0m-24 -33h0m28 -104h0m8 70h0m33 -99h0m-48 204h0m100 -190h0m-182 99h0m98 -106h0m2 98h0m-17 100h0m-14 -28h0m-37 -160h0m29 120h0m25 100h0m33 -268h0m-70 109h0m17 -51h0m43 100h0m-75 -226h0m20 284h0m18 68h0m152 -503h0m-70 303h0m-34 12h0m-25 70h0m109 44h0m-133 -122h0m-3 42h0m75 -79h0m-22 15h0m-70 -6h0m12 -21h0m-80 68h0m198 -67h0m-103 136h0m32 -183h0m-20 50h0m53 -61h0m-15 -46h0m-35 202h0m135 -156h0m-157 154h0m-74 -23h0m204 -201h0m-101 227h0m-46 46h0m-75 -117h0m159 20h0m-81 -11h0m85 -6h0m-6 2h0m-28 91h0m-102 -78h0m179 -172h0m-94 290h0m-88 -113h0m82 -36h0m7 185h0m-23 -109h0m8 -5h0m-20 -88h0m46 206h0m-64 -202h0m92 -49h0m-86 161h0m36 35h0m45 -44h0m-17 -67h0m-23 107h0m10 -28h0m58 -140h0m7 -129h0m-105 353h0m-39 -155h0m-37 -41h0m137 -43h0m59 -5h0m-126 139h0m-19 -132h0m82 144h0m-125 -81h0m203 12h0m-93 34h0m112 6h0m-83 25h0m42 -166h0m33 10h0m38 -66h0m-148 224h0m22 32h0m-39 138h0m106 -123h0m-148 46h0m-9 97h0m49 -188h0m65 -61h0m-86 -115h0m39 168h0m-15 -108h0m77 11h0m-84 46h0m79 43h0m10 -25h0m-21 -97h0m-70 144h0m35 40h0m-65 -125h0m42 142h0m-5 -33h0m-5 -19h0m39 -44h0m-50 36h0m-11 -151h0m5 101h0m139 -158h0m-125 284h0m12 -14h0m-24 -140h0m49 45h0m0 -12h0m51 -73h0m-164 59h0m192 -119h0m-111 183h0m-23 140h0m3 -213h0m80 -85h0m-73 101h0m156 -36h0m111 -392h0m-129 296h0m-123 35h0m86 -113h0m-89 293h0m-106 -57h0m265 -249h0m-81 178h0m-85 89h0" stroke="#4df3ce" stroke-width="4.2" stroke-linecap="round"/>
<path d="M1276 2344h0m-15 -198h0m123 4h0m-177 101h0m198 17h0m-112 -181h0m-115 56h0m156 134h0m-122 -86h0m98 -39h0m-43 80h0m26 -2h0m55 -170h0m-79 1h0m-5 56h0m-108 53h0m119 64h0m69 -124h0m-42 106h0m6 -132h0m75 12h0m-120 88h0m-85 -28h0m60 19h0m40 13h0m305 -356h0m-312 351h0m-54 69h0m111 -216h0m-58 234h0m71 -17h0m-93 -146h0m48 130h0m2 17h0m-48 -161h0m-21 265h0m55 -132h0m-82 159h0m57 -323h0m-28 63h0m17 136h0m-29 -144h0m110 157h0m-101 127h0m26 -379h0m-37 98h0m46 92h0m31 -163h0m-35 -33h0m-14 62h0m97 105h0m-29 -193h0m-30 228h0m-22 61h0m71 -97h0m-113 -107h0m12 70h0m-17 -21h0m21 137h0m97 -77h0m-44 69h0m-82 113h0m49 -128h0m72 -15h0m12 -305h0m-66 340h0m-28 -97h0m6 -210h0m13 323h0m63 -334h0m-118 158h0m92 -34h0m-59 191h0m114 -105h0m-118 148h0m-13 -174h0m2 60h0m19 -48h0m38 -72h0m21 153h0m-71 89h0m-7 -66h0m7 -20h0m65 -210h0m17 20h0m176 11h0m-270 286h0m19 -94h0m28 38h0m-54 -136h0m83 -181h0m85 34h0m-98 227h0m123 -93h0m1 -53h0m-162 216h0m-4 -239h0m6 115h0m2 42h0m183 -275h0m-59 272h0m-196 -90h0m163 8h0m-43 -38h0m45 -195h0m-100 446h0m11 -70h0m33 -101h0m70 -126h0m-107 313h0m-17 -71h0m129 -238h0m-31 103h0m-66 44h0m2 133h0m37 -212h0m17 -214h0m-59 267h0m188 -204h0m-82 238h0m-234 5h0m85 19h0m90 -35h0m89 -102h0m-252 122h0m169 42h0m198 -262h0m-245 99h0m-64 95h0m83 71h0m8 91h0m-44 -77h0m23 -17h0m-36 -59h0m-5 46h0m70 -34h0m-48 22h0m-18 65h0m-20 -15h0m178 -47h0m-91 78h0m77 -202h0m-140 75h0m-140 27h0m190 -63h0m-55 33h0m-60 -3h0m130 -134h0m-65 245h0m60 -100h0m61 -210h0m-266 253h0m239 -142h0m-101 255h0m22 -136h0m34 -19h0m3 3h0m0 -16h0m-30 0h0m67 26h0m-50 -144h0m-18 56h0m-37 187h0m31 -160h0m-16 158h0m-40 -163h0m46 88h0m21 -88h0m-2 15h0m-33 -4h0m193 -84h0m-212 101h0m157 -43h0m-110 103h0m-56 -62h0m47 47h0m88 -150h0m-86 269h0m-2 -52h0m14 45h0m15 -293h0m-36 161h0m36 -226h0m-47 207h0m115 22h0m-111 22h0m231 -261h0m-202 196h0m-206 126h0m251 -88h0m75 -141h0m-43 19h0m-44 97h0m-32 130h0m-7 -133h0m-99 290h0m110 -203h0m24 -4h0m-41 -26h0m32 -300h0m-76 318h0m66 97h0m32 -88h0m-27 -78h0m-89 233h0m143 -333h0m-21 81h0m-83 213h0m199 -160h0m-189 -118h0m-34 87h0m36 47h0m-88 -51h0m39 18h0m32 6h0m-82 -25h0m201 -69h0" stroke="#60fac5" stroke-width="4.2" stroke-linecap="round"/>
<path d="M1308 2147h0m-12 182h0m-33 -120h0m119 -178h0m-51 185h0m-34 -57h0m-146 -72h0m191 118h0m-68 -45h0m-229 149h0m197 -1h0m-5 13h0m-85 -128h0m290 -208h0m-183 237h0m-5 -112h0m-50 35h0m73 41h0m25 29h0m-82 -41h0m65 -12h0m17 -22h0m-11 -75h0m-89 88h0m449 -429h0m-286 354h0m-41 62h0m-74 137h0m-146 -141h0m222 -13h0m-43 -5h0m178 -119h0m-272 136h0m41 213h0m0 -51h0m29 -129h0m-27 177h0m45 -200h0m-32 106h0m20 -1h0m3 -109h0m-76 47h0m51 -21h0m16 56h0m31 -15h0m-46 128h0m62 -253h0m-160 74h0m102 119h0m120 -67h0m-73 -104h0m66 -136h0m-99 75h0m-72 124h0m27 51h0m88 -171h0m-161 52h0m111 87h0m30 -152h0m-71 123h0m-5 -77h0m30 191h0m10 -80h0m196 -167h0m-218 321h0m114 -144h0m-12 -210h0m-198 183h0m284 -201h0m-121 264h0m-71 -160h0m44 273h0m-44 -112h0m103 -157h0m-82 109h0m-51 -78h0m66 136h0m-1 -113h0m-25 61h0m90 -114h0m-61 115h0m-44 -54h0m-46 1h0m110 23h0m-39 80h0m-6 -90h0m-20 -28h0m143 7h0m-131 222h0m32 -207h0m302 -362h0m-305 323h0m35 183h0m-67 -148h0m17 93h0m-5 -77h0m20 73h0m-59 122h0m242 -397h0m-166 231h0m-5 44h0m-95 -78h0m120 -27h0m-59 54h0m-2 6h0m31 -102h0m12 82h0m36 -132h0m-68 110h0m-10 23h0m8 136h0m-10 -177h0m92 -85h0m-77 268h0m113 -152h0m-168 209h0m54 -47h0m7 -155h0m-50 196h0m46 -43h0m20 -85h0m71 -89h0m-98 56h0m82 -458h0m-87 569h0m9 -34h0m38 -10h0m-25 61h0m30 -72h0m-6 -111h0m-64 22h0m26 96h0m37 -40h0m13 -24h0m-39 -5h0m53 -87h0m-15 2h0m-64 12h0m73 111h0m-36 -50h0m119 -140h0m-79 170h0m-24 85h0m-19 -42h0m11 -191h0m-25 96h0m33 -103h0m290 -439h0m-255 501h0m-91 49h0m-18 5h0m144 -137h0m79 64h0m-131 22h0m-59 -57h0m-29 312h0m77 -82h0m-100 -129h0m64 -24h0m11 65h0m30 4h0m-58 -120h0m7 172h0m44 -127h0m-43 118h0m-24 -82h0m22 -34h0m72 -39h0m-8 28h0m-17 24h0m19 -40h0m-65 -47h0m60 69h0m-46 157h0m33 32h0m49 -235h0m-100 110h0m48 -110h0m7 126h0m35 -63h0m-24 45h0m-38 17h0m-63 -73h0m62 156h0m12 -43h0m125 -319h0m-46 306h0m-74 -147h0m30 55h0m-76 -16h0m8 91h0m-12 84h0m129 -242h0m-119 168h0m49 -236h0m-69 275h0m91 -242h0m-59 95h0m145 50h0m-120 58h0m-75 -82h0m236 -303h0m-234 296h0m39 67h0m203 -463h0m-148 507h0m-52 -92h0m4 40h0m175 -221h0m-139 212h0m-18 52h0m-43 25h0m1 115h0m-33 -206h0m-89 14h0m154 23h0m-25 89h0m9 -155h0m-4 -93h0m22 192h0m-71 -79h0m92 17h0m-40 40h0m-12 -98h0m1 10h0m56 51h0m-12 -34h0m-87 -6h0m38 56h0m46 -22h0m-49 26h0m54 -42h0m-1 -103h0m22 20h0m-36 -31h0m26 159h0m-146 -57h0m6 -12h0m178 -90h0m-139 99h0m-51 -5h0m154 4h0m-71 206h0m45 -118h0m-38 -55h0m96 -33h0m-78 -20h0m-33 263h0" stroke="#74feba" stroke-width="4.2" stroke-linecap="round"/>
<path d="M1352 2241h0m12 -262h0m163 -309h0m-273 585h0m14 -213h0m-8 92h0m-26 -42h0m5 177h0m5 -93h0m123 -58h0m-28 91h0m88 -76h0m-247 43h0m110 95h0m-32 -79h0m0 146h0m21 -287h0m31 110h0m-25 27h0m109 -189h0m-172 154h0m192 -148h0m-170 154h0m-26 -11h0m8 -48h0m60 37h0m-56 42h0m-47 -17h0m431 -480h0m-379 517h0m-8 70h0m20 -26h0m-11 -15h0m7 -95h0m23 126h0m125 -180h0m-83 21h0m94 -46h0m-171 205h0m250 -121h0m-184 -77h0m-76 88h0m156 49h0m-70 34h0m-100 -144h0m128 2h0m-61 144h0m-51 61h0m19 55h0m-38 -181h0m31 -63h0m24 190h0m30 -194h0m-73 234h0m52 -32h0m-86 -135h0m160 55h0m-15 -8h0m-171 -13h0m121 124h0m81 -78h0m-80 70h0m-47 -117h0m2 29h0m24 9h0m91 5h0m-101 90h0m30 -146h0m13 128h0m-94 -164h0m149 -124h0m58 -32h0m155 -116h0m-348 506h0m24 -117h0m6 29h0m358 -449h0m-353 370h0m5 30h0m193 -390h0m-202 324h0m83 11h0m-78 -6h0m-20 -1h0m77 8h0m15 -155h0m-3 169h0m-54 -18h0m-53 -72h0m155 -22h0m-119 58h0m179 -249h0m-185 274h0m58 59h0m29 -145h0m99 46h0m-135 -96h0m-64 297h0m59 -147h0m-114 -52h0m92 -7h0m-10 76h0m-17 75h0m-31 -88h0m5 121h0m157 -397h0m-58 166h0m-19 69h0m-43 140h0m-54 -100h0m199 -229h0m-96 217h0m53 -13h0m-137 146h0m163 -172h0m-157 114h0m295 -296h0m-237 166h0m22 132h0m80 -226h0m-111 206h0m27 -76h0m-45 162h0m141 -332h0m-155 372h0m-17 -34h0m14 -3h0m5 -59h0m-7 -142h0m61 102h0m-31 31h0m77 -142h0m-88 18h0m167 -51h0m-213 85h0m36 80h0m255 -229h0m-228 99h0m24 100h0m-35 111h0m-29 -94h0m-33 -141h0m45 158h0m-90 -96h0m111 -84h0m65 167h0m-83 35h0m-59 -158h0m39 234h0m10 -85h0m43 43h0m54 -202h0m-84 203h0m36 -109h0m-51 92h0m125 -263h0m-210 118h0m100 92h0m47 -40h0m-44 -35h0m55 8h0m-6 17h0m-36 -35h0m59 -216h0m103 -39h0m-68 125h0m-163 150h0m24 -92h0m15 173h0m16 -80h0m43 -64h0m-92 -27h0m179 -58h0m-67 -98h0m153 -5h0m-62 -97h0m128 47h0m-238 299h0m48 -79h0m104 -149h0m-139 60h0m-80 353h0m-31 -2h0m89 -106h0m26 -91h0m15 -177h0m-16 187h0m-22 -9h0m-41 120h0m72 -179h0m-60 72h0m115 -6h0m-155 153h0m151 -308h0m-159 291h0m171 -85h0m-218 -54h0m64 168h0m47 -49h0m1 -154h0m-13 94h0m27 -32h0m-40 -116h0m204 -219h0m-142 249h0m-124 -10h0m149 -3h0m-150 102h0m59 6h0m15 -57h0m-30 4h0m27 136h0m27 -48h0m-103 -82h0m155 -20h0m-83 97h0m-58 -112h0m84 140h0m30 16h0m115 -69h0m-140 -20h0m-38 -60h0m-1 -1h0m1 136h0m7 -8h0m171 -90h0m-98 -89h0m-99 117h0m54 5h0m-6 15h0m134 -360h0m-276 353h0m120 131h0m-1 -137h0m-24 190h0m67 -217h0m-49 4h0m-5 162h0m11 -105h0m15 -39h0m-110 -83h0m167 20h0m26 -61h0m-118 296h0m-49 -215h0m143 65h0m-89 -30h0m127 78h0m-25 -52h0m91 -269h0m-234 94h0m79 52h0" stroke="#8bfeae" stroke-width="4.2" stroke-linecap="round"/>
<path d="M1263 2321h0m-102 -157h0m19 284h0m77 -176h0m-100 -102h0m9 -13h0m-83 73h0m256 -51h0m-68 134h0m-215 -166h0m178 218h0m59 -155h0m-78 2h0m-10 216h0m17 -208h0m80 45h0m22 -5h0m-103 156h0m185 -422h0m-149 270h0m-100 -259h0m96 32h0m-20 374h0m66 -129h0m-168 -90h0m-60 36h0m87 -20h0m200 -371h0m-79 405h0m-41 95h0m14 77h0m-50 39h0m16 -69h0m91 -359h0m-47 157h0m346 -354h0m-396 406h0m45 164h0m-38 -87h0m131 -44h0m-18 50h0m-218 -164h0m89 -34h0m94 -47h0m-99 22h0m19 307h0m-25 -245h0m-84 -92h0m125 236h0m-68 -157h0m313 -104h0m-415 239h0m191 120h0m-210 -108h0m213 6h0m-43 123h0m132 -334h0m-66 98h0m-62 186h0m39 10h0m-4 23h0m-24 -290h0m-157 110h0m147 132h0m37 45h0m-180 -257h0m160 180h0m68 -38h0m-113 -371h0m-126 344h0m222 -1h0m-41 -193h0m-51 361h0m-30 -216h0m-26 -102h0m95 277h0m28 -56h0m16 -12h0m-45 -92h0m81 -43h0m-54 78h0m2 -201h0m-50 294h0m196 -326h0m-97 203h0m-122 -99h0m82 222h0m-51 2h0m-31 71h0m110 -200h0m-246 41h0m181 122h0m104 -104h0m-93 -19h0m-12 -340h0m-11 475h0m14 -152h0m-30 -73h0m3 266h0m112 -111h0m-225 -236h0m152 131h0m32 169h0m-21 -414h0m63 148h0m-65 154h0m-97 -108h0m103 -137h0m-48 334h0m-56 -184h0m106 43h0m-48 218h0m95 -248h0m-81 212h0m-46 9h0m102 -105h0m-206 -73h0m217 105h0m-32 -61h0m-4 -77h0m-38 42h0m32 98h0m-149 -145h0m198 49h0m92 -84h0m116 -112h0m-266 221h0m-28 31h0m49 -213h0m-29 132h0m4 42h0m-37 162h0m-6 -88h0m56 16h0m50 -44h0m-17 112h0m-110 -17h0m62 -137h0m-39 123h0m0 -4h0m6 -215h0m-4 180h0m-31 -209h0m22 25h0m164 -29h0m-221 47h0m101 160h0m35 -26h0m-39 2h0m-16 43h0m-154 -112h0m127 145h0m17 -60h0m86 -237h0m-27 -192h0m158 176h0m-297 87h0m83 214h0" stroke="#9efaa2" stroke-width="4.2" stroke-linecap="round"/>
<path d="M1297 2409h0m-44 -213h0m23 -51h0m-53 283h0m-30 -227h0m-4 169h0m-117 -167h0m-19 35h0m349 52h0m-201 -90h0m52 13h0m17 -2h0m-197 11h0m210 5h0m8 112h0m-124 80h0m75 -317h0m-64 75h0m84 256h0m-134 -271h0m111 62h0m-138 -11h0m151 -41h0m96 106h0m-5 -231h0m-84 359h0m41 -218h0m-18 -53h0m21 86h0m-10 -13h0m32 65h0m-112 -169h0m97 112h0m-62 102h0m61 61h0m-77 -33h0m21 -20h0m-6 -97h0m160 -34h0m-126 97h0m137 -94h0m-242 212h0m-31 -288h0m90 182h0m19 -85h0m-2 59h0m123 -112h0m-114 -226h0m-74 505h0m76 -80h0m-5 -2h0m89 -33h0m-146 -251h0m63 280h0m28 25h0m-15 -136h0m-57 19h0m-55 -210h0m91 252h0m-7 16h0m-17 -31h0m38 -94h0m33 32h0m-120 201h0m141 -182h0m-23 56h0m-41 60h0m125 -40h0m-56 -121h0m-122 -95h0m49 189h0m35 -179h0m80 38h0m-140 84h0m-108 -61h0m294 -67h0m-175 213h0m126 -190h0m-253 -27h0m154 152h0m-26 116h0m-23 1h0m32 -165h0m-56 208h0m137 -273h0m-49 154h0m19 -103h0m46 -50h0m-97 125h0m-35 143h0m-32 -206h0m66 151h0m-15 -236h0m-115 61h0m143 14h0m131 -9h0m-169 131h0m1 -29h0m-22 137h0m21 -146h0m87 -108h0m-180 -50h0m51 -68h0m28 369h0m-49 -295h0m32 256h0m15 42h0m21 -122h0m-17 63h0m-34 -254h0m123 69h0m-67 33h0m-115 -24h0m215 65h0m-133 -120h0m70 172h0m-45 132h0m33 -432h0m-122 63h0m80 304h0m51 -149h0m-21 -47h0m14 71h0m-29 -191h0m-55 50h0m51 106h0m37 132h0m-96 71h0m39 -91h0m19 73h0m-40 -266h0m-6 35h0m-78 18h0m74 -118h0m29 292h0m124 -125h0m-93 12h0m-181 -4h0m211 -68h0m-88 252h0m73 -260h0m3 7h0m0 -109h0m-79 27h0m20 65h0m24 190h0m-38 68h0m141 -172h0m-124 192h0m34 -121h0m73 -22h0m-91 -97h0m-25 217h0m118 -350h0m33 250h0m-17 -216h0" stroke="#b2f396" stroke-width="4.2" stroke-linecap="round"/>
<path d="M1311 2242h0m-7 -4h0m-39 -40h0m-111 -13h0m-57 48h0m158 1h0m-53 198h0m31 -91h0m-2 59h0m-44 -196h0m55 115h0m30 20h0m-18 -27h0m17 -102h0m-113 -40h0m124 168h0m14 -75h0m-94 -115h0m68 119h0m71 -152h0m-62 195h0m-77 92h0m34 -253h0m-55 299h0m31 -35h0m-21 -244h0m88 87h0m-53 42h0m-15 -79h0m47 83h0m145 -167h0m-234 35h0m86 190h0m15 -28h0m-39 -172h0m-163 -40h0m120 281h0m30 -22h0m157 -309h0m-152 297h0m35 -61h0m223 -119h0m-245 89h0m-132 -118h0m177 174h0m-189 -202h0m102 258h0m25 -80h0m11 92h0m26 -47h0m67 -91h0m-123 178h0m15 -186h0m-6 -204h0m31 258h0m-79 134h0m76 -157h0m-164 -42h0m45 -68h0m160 99h0m-99 -108h0m94 -31h0m-93 289h0m28 -318h0m-143 173h0m261 -240h0m-35 338h0m-74 29h0m129 -246h0m-118 142h0m65 -77h0m24 -138h0m-7 93h0m-73 155h0m134 43h0m-136 -246h0m12 167h0m-31 111h0m37 -46h0m-18 -218h0m2 105h0m1 107h0m-26 22h0m9 -188h0m-32 -138h0m77 206h0m-90 192h0m80 -100h0m-34 -46h0m74 -117h0m-93 174h0m-9 -290h0m-145 180h0m22 -4h0m183 38h0m68 -1h0m-107 -93h0m-6 220h0m51 -266h0m34 136h0m-50 153h0m39 -355h0m-236 190h0m206 103h0m-118 -262h0m157 108h0m-49 12h0m183 -10h0m-203 126h0m-34 -199h0m38 174h0m128 -74h0m-21 -25h0m-103 -56h0m32 13h0m173 52h0m-168 -56h0m-126 13h0m335 49h0m-182 -59h0m-99 207h0m-24 -377h0m108 227h0m140 -132h0m-178 198h0m218 -6h0m-244 -177h0m42 57h0m-12 237h0m-16 -84h0m31 -393h0m-34 223h0m13 159h0m-22 95h0m75 -284h0m-84 254h0m127 -144h0m-108 131h0m16 -39h0m-125 -242h0m18 118h0m112 156h0m-17 8h0m82 -195h0m-142 -27h0m-107 125h0m135 -93h0m35 172h0m-96 -232h0m72 65h0m38 57h0m63 117h0m-62 -186h0m110 -27h0m-94 26h0m58 29h0m-61 144h0m-64 -174h0m37 91h0m31 -211h0m-168 135h0m240 33h0m-49 4h0m-192 -25h0m217 52h0m-62 -27h0m-35 15h0m-3 113h0m-21 -163h0m55 115h0m-68 -118h0" stroke="#c6e789" stroke-width="4.2" stroke-linecap="round"/>
<path d="M1195 2410h0m165 -118h0m-276 -113h0m144 -61h0m75 -37h0m-48 32h0m64 200h0m-106 47h0m130 -92h0m-54 43h0m31 -371h0m-204 247h0m108 105h0m-11 86h0m78 -182h0m-141 8h0m102 113h0m-29 -136h0m107 39h0m-148 186h0m29 41h0m4 -24h0m-145 -193h0m188 81h0m-1 80h0m-131 -176h0m218 13h0m-222 -28h0m81 164h0m2 19h0m-145 -157h0m235 -118h0m-63 72h0m-43 194h0m50 -53h0m73 -313h0m-48 143h0m26 114h0m12 -127h0m-141 44h0m51 207h0m42 -163h0m-29 170h0m-55 -209h0m157 83h0m-60 142h0m-114 -257h0m50 233h0m181 -105h0m-202 109h0m41 -93h0m77 -60h0m124 -177h0m-265 117h0m14 14h0m83 32h0m-171 17h0m-20 -25h0m287 43h0m-108 -21h0m-19 -40h0m67 73h0m-64 64h0m-19 94h0m168 -241h0m-89 15h0m-101 -132h0m33 301h0m50 -92h0m-162 -140h0m100 275h0m12 -180h0m-46 -84h0m-100 66h0m202 74h0m-168 -125h0m109 217h0m62 -156h0m-38 45h0m-18 113h0m189 -255h0m-206 241h0m6 25h0m-15 -197h0m57 134h0m-32 -130h0m-48 208h0m13 22h0m171 -481h0m-141 169h0m64 70h0m70 4h0m-126 151h0m-67 89h0m233 -257h0m-184 190h0m77 -8h0m-51 -24h0m-53 90h0m15 -271h0m50 224h0m20 -202h0m-64 95h0m68 70h0m0 -52h0m12 -6h0m44 -28h0m-101 73h0m52 1h0m-50 26h0m-24 0h0m20 -111h0m-167 -2h0m393 -32h0m-285 234h0m198 -273h0m-144 240h0m-132 -189h0m140 40h0m6 -51h0m-44 213h0m71 -162h0m38 -86h0m-33 -9h0m-5 -99h0m-64 365h0m-34 -299h0m130 282h0m-14 -299h0m-77 46h0m85 234h0m-105 -226h0m43 188h0m16 -136h0m38 82h0m-47 -57h0m2 -159h0m7 265h0m37 -18h0m212 -132h0m-268 -151h0m-85 93h0m71 264h0m-51 -279h0m116 147h0m62 -48h0m-133 169h0m88 -105h0m-159 -203h0m11 122h0m30 -108h0m17 28h0m156 -14h0m-90 216h0m-20 51h0" stroke="#dcd67a" stroke-width="4.2" stroke-linecap="round"/>
<path d="M1160 2436h0m161 -395h0m-38 261h0m-40 -86h0m-171 -15h0m202 35h0m21 65h0m-79 45h0m41 -170h0m-44 -138h0m29 336h0m-60 -302h0m39 117h0m-38 -60h0m137 94h0m-80 -36h0m-181 80h0m253 15h0m-20 -21h0m-99 -68h0m-14 -25h0m73 167h0m-70 -155h0m92 139h0m21 19h0m-236 -77h0m126 -193h0m51 258h0m-188 -59h0m231 97h0m-19 -54h0m-8 -146h0m-16 138h0m78 -319h0m-123 -42h0m48 332h0m70 4h0m-185 -103h0m155 135h0m-57 59h0m235 -208h0m-221 29h0m-142 -36h0m139 238h0m-62 -285h0m29 233h0m64 -84h0m153 -260h0m16 392h0m-94 -238h0m-217 72h0m79 209h0m-10 -286h0m75 279h0m6 -107h0m89 -450h0m-52 40h0m-22 170h0m-94 331h0m-137 -200h0m366 31h0m-206 73h0m-17 87h0m-5 -20h0m72 -104h0m27 84h0m67 -223h0m-193 313h0m29 -54h0m75 -133h0m-18 -208h0m70 174h0m-26 -192h0m-96 107h0m-39 278h0m149 -43h0m-96 -323h0m-8 375h0m61 -123h0m-19 -152h0m43 -56h0m-126 325h0m5 -359h0m53 356h0m61 -97h0m67 -236h0m-263 99h0m142 108h0m177 -165h0m-268 64h0m65 -72h0m265 -144h0m-401 281h0m145 97h0m30 -4h0m7 28h0m74 -19h0m54 -103h0m-212 -70h0m94 136h0m-42 87h0m15 -164h0m108 33h0m-47 -67h0m-57 64h0m-191 -14h0m384 -87h0m-237 -48h0m133 19h0m-89 261h0m19 -151h0m-61 179h0m126 -158h0m-67 69h0m11 -289h0m-71 354h0m-86 -200h0m158 13h0m44 59h0m-31 -182h0m-111 346h0m18 -30h0m68 30h0m25 -488h0m-26 265h0m-30 -101h0m77 233h0m-115 56h0m28 -201h0m-56 -109h0m174 193h0m75 -251h0m-170 302h0m-62 -162h0m22 -72h0m-12 63h0m-27 -168h0m77 366h0m-33 42h0m31 -197h0m24 40h0m-32 133h0m-25 -231h0m-27 -46h0m125 -56h0m-98 337h0m317 -396h0m-273 231h0m-102 -45h0m117 25h0m41 20h0m39 -220h0m44 209h0m-94 -56h0m-36 148h0m-6 26h0m-71 -161h0m-87 54h0m78 213h0m131 -7h0m-33 -117h0m31 -26h0m-14 -215h0" stroke="#f0c46c" stroke-width="4.2" stroke-linecap="round"/>
<path d="M1214 2387h0m-93 -175h0m-32 -29h0m-22 71h0m68 -86h0m-71 76h0m101 209h0m83 -7h0m-42 -128h0m-3 87h0m56 -59h0m-14 -40h0m-75 114h0m23 -26h0m-36 -209h0m-76 28h0m-32 68h0m189 -47h0m-28 147h0m-29 7h0m-113 -182h0m136 240h0m-117 -257h0m113 228h0m-15 23h0m-121 -179h0m13 -52h0m93 240h0m-50 -241h0m60 231h0m-130 -168h0m148 135h0m-21 44h0m-6 -27h0m219 -243h0m-199 231h0m-43 -278h0m-65 99h0m-34 -48h0m-5 21h0m55 17h0m146 129h0m60 -43h0m-52 -16h0m52 -133h0m27 224h0m-287 -88h0m135 -242h0m-125 175h0m7 44h0m28 -66h0m148 203h0m-178 -152h0m-10 -4h0m119 191h0m55 -42h0m7 -85h0m-177 -25h0m264 -99h0m-266 105h0m157 100h0m-95 -171h0m78 178h0m-135 -139h0m190 -109h0m-172 94h0m291 -89h0m-240 13h0m79 18h0m30 212h0m52 -315h0m-100 333h0m4 24h0m79 -495h0m-209 269h0m28 -74h0m78 280h0m21 -28h0m7 39h0m16 -22h0m-156 -150h0m212 138h0m-163 -188h0m18 -63h0m-64 63h0m133 157h0m30 -12h0m-9 9h0m-28 38h0m-100 -193h0m132 154h0m-142 -145h0m101 218h0m-116 -185h0m21 -17h0m132 79h0m-98 -122h0m75 196h0m16 43h0m-116 -258h0m-15 56h0m21 -9h0m90 -44h0m-67 22h0m-36 -127h0m156 82h0m43 175h0m-182 -142h0m-14 45h0m-36 25h0m146 138h0m-10 3h0m-131 -115h0m35 -30h0m132 -8h0m-159 30h0m-8 -31h0m156 150h0m-4 20h0m40 -23h0m-48 0h0m28 -13h0m10 -69h0m-191 -93h0m279 67h0m-249 -39h0m172 70h0m-112 -183h0m57 315h0m17 -56h0m9 -4h0m-145 -136h0m166 41h0m-61 135h0m-112 -176h0m141 104h0m-108 -171h0m-6 -46h0m87 302h0m-131 -238h0m50 44h0m139 79h0m60 -97h0m-73 170h0m-17 -27h0m-144 -128h0m23 -47h0m112 246h0m-78 -304h0m-46 88h0m324 -19h0m-218 -44h0" stroke="#ffae5e" stroke-width="4.2" stroke-linecap="round"/>
<path d="M1207 2370h0m-136 -127h0m119 115h0m46 37h0m20 -52h0m-56 68h0m-95 -181h0m85 185h0m-27 -220h0m25 238h0m-8 -3h0m-125 -157h0m94 -81h0m57 195h0m-30 27h0m57 5h0m-23 -62h0m-89 -254h0m140 266h0m-112 85h0m-67 -231h0m199 169h0m-152 -300h0m-72 153h0m4 -82h0m11 119h0m-1 -97h0m97 -60h0m72 292h0m-97 -237h0m60 259h0m-129 -212h0m21 -36h0m5 -27h0m50 2h0m46 209h0m74 -72h0m-96 151h0m-9 -18h0m75 -159h0m-49 156h0m-68 -225h0m33 245h0m-87 -199h0m93 184h0m11 -7h0m-119 -228h0m16 80h0m138 121h0m0 17h0m-30 5h0m-65 -237h0m-36 -7h0m-19 105h0m-7 -41h0m11 -15h0m144 167h0m34 -108h0m-9 113h0m-156 -217h0m98 246h0m-119 -256h0m1 108h0m126 147h0m-136 -131h0m173 145h0m23 6h0m-38 -83h0m-147 -155h0m-6 -12h0m137 209h0m-101 -180h0m85 205h0m-118 -165h0m191 158h0m-69 -282h0m-104 106h0m96 200h0m-114 -204h0m-4 43h0m3 4h0m66 -100h0m-38 68h0m77 171h0m-77 -170h0m143 -102h0m-39 278h0m5 -30h0m1 11h0m-124 -177h0m165 149h0m-175 -95h0m25 -309h0m133 463h0m-157 -217h0m16 -46h0m-22 48h0m106 186h0m38 -41h0m-113 -184h0m83 234h0m-4 -5h0m-27 -251h0m52 229h0m-20 46h0m24 -15h0m-52 -221h0m108 79h0m-22 103h0m-161 -127h0m111 148h0m57 0h0m-21 -124h0m-55 152h0m126 6h0m-83 -38h0m-148 -177h0m46 -34h0m112 191h0m14 -115h0m146 174h0m-37 -151h0m-280 -3h0m115 142h0m-120 -192h0m174 171h0m-20 19h0m-10 -54h0m38 -52h0m-79 120h0m-56 -225h0m20 -77h0m-51 138h0m135 163h0m-132 -286h0m117 273h0m-125 -156h0m129 121h0m54 -66h0m-68 -169h0m-102 -5h0m123 278h0m-82 -353h0m90 349h0m-78 -492h0m101 471h0m-148 -176h0m-4 17h0m30 -60h0m133 237h0m-52 19h0m-110 -231h0m81 229h0m37 -65h0m-31 57h0m37 -8h0m33 -99h0m-61 -244h0m0 318h0m66 -72h0m-53 58h0m-7 24h0m63 -169h0m-52 -51h0m-124 96h0m237 114h0m-116 -10h0m-22 50h0m58 -93h0m-5 -26h0m55 -94h0m-220 -99h0m204 297h0m-203 -167h0m169 106h0m-133 -131h0m108 200h0m-8 -316h0m-133 129h0m-8 -38h0m136 194h0m-4 15h0m-10 -7h0m-93 -185h0m-27 37h0m-1 23h0m2 1h0m14 -90h0m122 11h0m-124 -29h0m2 93h0m122 143h0m-134 -133h0m73 -120h0m-17 -49h0m44 314h0m80 -85h0m-156 -183h0m102 259h0m46 -268h0m-106 10h0m-50 72h0m32 -40h0m85 213h0m-11 21h0m-7 -7h0m1 -12h0m38 -42h0m-137 -168h0m104 242h0m-42 -356h0m-75 171h0m126 140h0m-134 -130h0m14 -54h0m209 4h0m-128 231h0m79 -41h0" stroke="#ff964f" stroke-width="4.2" stroke-linecap="round"/>
<path d="M1205 2345h0m3 -97h0m-163 0h0m189 -4h0m-182 10h0m107 170h0m-106 -161h0m24 -16h0m117 191h0m25 -94h0m-47 58h0m-121 -113h0m14 -16h0m236 -107h0m-75 237h0m-10 30h0m0 -80h0m-17 40h0m-111 -182h0m-43 56h0m159 89h0m-53 90h0m-88 -195h0m-17 60h0m100 143h0m-99 -165h0m113 -143h0m26 300h0m-107 -240h0m-3 -27h0m104 275h0m17 -26h0m-135 -193h0m142 92h0m-150 -121h0m207 110h0m-19 107h0m22 -111h0m-182 -62h0m-14 11h0m104 185h0m-121 -193h0m101 187h0m5 -265h0m6 241h0m-106 -165h0m111 -40h0m41 31h0m79 -62h0m-238 107h0m133 158h0m30 -28h0m-119 -256h0m-37 115h0m-6 -3h0m107 181h0m-106 -192h0m139 161h0m-19 2h0m6 -16h0m-112 -149h0m6 -24h0m104 189h0m22 -17h0m16 -1h0m-23 -7h0m6 32h0m-105 -235h0m162 72h0m-192 18h0m117 129h0m-96 -157h0m128 37h0m-38 156h0m-10 -27h0m-114 -224h0m16 12h0m128 196h0m-145 -123h0m8 -9h0m-9 -18h0m211 94h0m-18 62h0m-104 -224h0m46 237h0m-127 -141h0m219 -39h0m-212 27h0m114 174h0m-8 -20h0m-98 -172h0m-2 -60h0m10 71h0m40 -97h0m-50 112h0m114 154h0m-87 -206h0m96 -68h0m12 263h0m-137 -145h0m180 -117h0m-196 112h0m31 -23h0m143 175h0m-156 -227h0m127 -119h0m-39 339h0m51 1h0m-42 26h0m34 -24h0m137 -13h0m-252 -157h0m71 178h0m3 -12h0m30 -1h0m36 -81h0m-70 113h0m-53 -222h0m80 192h0m-28 21h0m40 -79h0m-23 -212h0m13 289h0m-107 -209h0m174 33h0m-129 -94h0m-37 62h0m91 202h0m12 -5h0m-141 -153h0m128 170h0m5 -28h0m34 -23h0m-138 -146h0m14 14h0m141 -136h0m-149 56h0m128 222h0m-25 -23h0m111 -184h0m-233 68h0m167 139h0m49 -36h0m-39 -154h0m-76 232h0m-69 -231h0m26 -58h0m-53 127h0m-19 -22h0m114 187h0m-72 -250h0m-31 -23h0m118 231h0m-109 -192h0m66 237h0m-56 -187h0m-20 -41h0m152 -185h0m-49 384h0m92 -115h0m-15 -90h0m-189 11h0m139 180h0m-43 44h0m-78 -257h0m-11 85h0m-11 24h0m125 132h0m-101 -259h0m-24 99h0m217 -5h0m-87 146h0m57 -202h0m-69 198h0m-20 36h0m19 -20h0m-105 -199h0m-10 71h0m98 139h0m26 -37h0m-11 34h0m-103 -297h0m214 105h0m-226 -83h0m4 139h0m229 31h0m-196 -112h0m40 -37h0m98 190h0m-30 22h0m19 -7h0m0 -15h0m-156 -60h0m156 23h0m-130 -114h0m134 204h0m-168 -151h0m11 39h0m113 -125h0m-12 249h0m116 -66h0m-113 81h0m47 -74h0m-118 -154h0m8 -69h0m92 294h0" stroke="#ff793e" stroke-width="4.2" stroke-linecap="round"/>
<path d="M1196 2432h0m32 -33h0m-157 -129h0m-14 20h0m1 -9h0m7 -34h0m114 -106h0m39 -4h0m-29 280h0m-89 -204h0m-15 43h0m-10 4h0m184 -24h0m7 118h0m-74 86h0m-55 -328h0m-34 107h0m-10 -41h0m91 214h0m-49 52h0m-81 -246h0m10 55h0m17 14h0m-28 -20h0m90 196h0m-41 -232h0m66 228h0m34 -35h0m4 -13h0m-52 50h0m81 -67h0m-134 -150h0m126 92h0m-143 -63h0m80 191h0m21 -16h0m18 -47h0m-49 57h0m56 18h0m-38 -33h0m67 -101h0m-46 90h0m-25 -9h0m12 0h0m-36 -245h0m88 239h0m-10 -92h0m-53 127h0m45 -34h0m-39 17h0m-52 -227h0m61 -73h0m31 212h0m-33 76h0m40 38h0m83 -239h0m-166 246h0m42 2h0m-40 -11h0m63 -40h0m-13 -7h0m30 -40h0m-82 -146h0m65 143h0m19 42h0m-81 55h0m-62 -233h0m-34 7h0m116 217h0m-42 -274h0m16 293h0m11 -6h0m38 -7h0m-110 -198h0m124 117h0m38 -70h0m-84 148h0m-20 -269h0m106 75h0m104 -183h0m-159 372h0m5 -20h0m79 -138h0m-79 111h0m-13 29h0m53 5h0m-56 23h0m50 -221h0m-56 211h0m102 -93h0m-101 -249h0m81 197h0m-164 -65h0m94 209h0m-120 -185h0m135 131h0m-7 23h0m-2 -6h0m9 -12h0m-105 -212h0m71 261h0m55 -123h0m-130 -73h0m69 198h0m28 -21h0m-134 -109h0m154 134h0m16 -299h0m16 204h0m-163 -105h0m-18 63h0m14 -56h0m84 -101h0m38 290h0m-127 -212h0m153 -161h0m27 302h0m-83 85h0m-67 -232h0m55 227h0m85 -188h0m-170 36h0m87 156h0m37 -19h0m-51 -275h0m-2 38h0m-55 -3h0m-25 56h0m20 6h0m141 106h0m-53 63h0m-80 -178h0m58 210h0m91 -253h0m-4 142h0m-125 -111h0m0 -205h0m196 366h0m-127 52h0m69 -141h0m-158 -47h0m129 165h0m-61 22h0m-95 -130h0m0 -35h0m50 -45h0m46 217h0m-85 -166h0m-6 13h0m129 -140h0m-112 59h0m117 177h0m-2 0h0m-140 -86h0m7 -10h0m47 -93h0m-43 103h0m96 -184h0m8 299h0m-29 29h0m-87 -152h0m80 -144h0m-44 85h0m77 213h0m39 -39h0m18 36h0m-48 -30h0m-93 -226h0m-15 -56h0m76 315h0m-5 -4h0m-48 -243h0m143 181h0m-86 69h0m-1 -7h0m-4 -7h0m-47 -214h0m-22 -37h0m157 108h0m-61 122h0m-104 -194h0m75 -44h0m-27 0h0m121 179h0m-45 28h0m12 -22h0m-26 76h0m-115 -181h0m87 178h0m-9 4h0m-40 -271h0m79 263h0m-18 -256h0m-79 77h0m161 134h0m-170 -126h0m70 175h0m53 -43h0m-17 11h0m54 -29h0m-99 70h0m-57 -253h0m61 252h0m95 -146h0m-45 145h0m-34 -14h0m-97 -115h0m9 -19h0m80 151h0m-44 -255h0m102 168h0m-145 -143h0m66 -14h0m-61 0h0m51 -10h0m114 8h0m-158 26h0m-15 80h0m111 143h0m-115 -176h0" stroke="#ff5c2f" stroke-width="4.2" stroke-linecap="round"/>
<path d="M1200 2423.5h1M1199 2424.5h3M1198 2425.5h3m1 0h2M1197 2426.5h1m1 0h1m1 0h4M1196 2427.5h3m3 0h3M1196 2428.5h5m2 0h1M1197 2429.5h5M1198 2430.5h5M1199 2431.5h3M1166 2450.5h1M1165 2451.5h2m3 0h1m1 0h1M1165 2452.5h3m1 0h5m8 0h2m3 0h1M1166 2453.5h1m1 0h7m6 0h4m1 0h3M1165 2454.5h1m2 0h4m1 0h1m6 0h4m1 0h5M1164 2455.5h1m2 0h5m7 0h4m3 0h3" stroke="#ff793e" stroke-width="1" shape-rendering="crispEdges"/>
<path d="M1062 2247.5h3M1060 2248.5h6M1059 2249.5h8M1058 2250.5h6m1 0h3M1059 2251.5h4m1 0h1m1 0h1M1061 2252.5h1m1 0h3M1062 2253.5h4M1063 2254.5h2M1045 2271.5h1M1044 2272.5h3M1044 2273.5h4M1044 2274.5h3M1045 2275.5h2M1045 2276.5h3M1044 2277.5h4M1045 2278.5h2m2 0h1m3 0h3M1048 2279.5h1m3 0h4M1047 2280.5h1m3 0h5m1 0h1M1052 2281.5h7M1051 2282.5h8M1047 2283.5h1m2 0h6M1045 2284.5h10M1044 2285.5h11M1044 2286.5h5m2 0h3M1044 2287.5h5m3 0h1M1045 2288.5h3M1044 2289.5h5m3 0h1M1045 2290.5h3m3 0h3m1 0h2M1046 2291.5h1m3 0h8M1050 2292.5h8M1051 2293.5h3m1 0h3M1045 2294.5h1m5 0h2m2 0h2M1044 2295.5h3m3 0h3m1 0h3M1044 2296.5h4m1 0h10M1044 2297.5h3m3 0h3m1 0h4M1044 2298.5h4m1 0h3m3 0h1m1 0h1M1044 2299.5h3m1 0h5m1 0h2M1045 2300.5h1m3 0h1m1 0h1m1 0h2M1053 2301.5h1M1053 2302.5h1M1045 2305.5h1m1 0h1M1044 2306.5h5M1044 2307.5h6M1044 2308.5h6M1045 2309.5h1m1 0h3M1046 2310.5h3M1045 2311.5h1m1 0h1M1045 2315.5h1M1045 2316.5h1M1044 2317.5h3M1045 2318.5h3m1 0h1m1 0h1M1045 2319.5h8M1044 2320.5h8M1044 2321.5h7M1044 2322.5h8M1045 2323.5h1m1 0h5M1048 2324.5h3M1049 2325.5h1M1044 2326.5h1m3 0h1M1153 2442.5h1m1 0h2M1151 2443.5h1m2 0h5M1150 2444.5h1m4 0h5M1149 2445.5h1m6 0h3M1149 2446.5h1m3 0h1m3 0h3M1148 2447.5h1m5 0h1m1 0h5M1149 2448.5h1m3 0h3m1 0h3M1150 2449.5h1m1 0h5m1 0h2M1150 2450.5h6m1 0h3M1149 2451.5h6m3 0h2M1150 2452.5h1m1 0h1M1151 2453.5h3M1150 2454.5h5M1151 2455.5h3" stroke="#ff5c2f" stroke-width="1" shape-rendering="crispEdges"/>
<path d="M1229 2175.5h3M1228 2176.5h5M1227 2177.5h1m1 0h5M1226 2178.5h3m1 0h5M1225 2179.5h3m4 0h2M1226 2180.5h3M1226 2181.5h4M1227 2182.5h2M1212 2336.5h2M1211 2337.5h4M1210 2338.5h1m1 0h3M1209 2339.5h1m3 0h1m1 0h2M1214 2340.5h3M1213 2341.5h3M1212 2342.5h3M1213 2343.5h1M1210 2360.5h1M1210 2361.5h3M1211 2362.5h3M1210 2363.5h3M1210 2364.5h2M1210 2365.5h1" stroke="#ff3e1f" stroke-width="1" shape-rendering="crispEdges"/>
<path d="M1191 2173.5h3M1190 2174.5h3M1166 2175.5h3m20 0h4M1166 2176.5h4m19 0h3m1 0h1M1167 2177.5h1m1 0h2m18 0h6M1165 2178.5h1m3 0h2m19 0h8M1165 2179.5h2m1 0h3m18 0h8M1164 2180.5h8m17 0h2m2 0h3M1164 2181.5h8m18 0h1M1164 2182.5h7M1165 2183.5h4M1167 2184.5h1M1235 2222.5h2M1234 2223.5h4M1233 2224.5h4m1 0h3M1233 2225.5h8M1233 2226.5h8M1233 2227.5h5m1 0h2M1236 2228.5h1m1 0h2M1227 2282.5h1M1226 2283.5h1m1 0h1M1225 2284.5h1m1 0h3M1224 2285.5h7M1223 2286.5h9M1223 2287.5h9M1224 2288.5h1m2 0h4M1228 2289.5h4M1228 2290.5h5m1 0h2M1229 2291.5h3M1227 2292.5h1m2 0h1M1228 2293.5h1M1063 2298.5h1M1062 2299.5h4M1059 2300.5h8M1059 2301.5h1m1 0h5M1058 2302.5h1m1 0h7M1061 2303.5h6M1062 2304.5h4M1061 2305.5h1m1 0h2M1062 2306.5h1M1062 2307.5h1M1202 2323.5h2M1201 2324.5h3M1201 2325.5h3M1200 2326.5h3M1199 2327.5h5m1 0h1M1200 2328.5h7M1200 2329.5h8M1201 2330.5h7m1 0h2M1203 2331.5h1m1 0h6M1205 2332.5h6M1204 2333.5h6M1206 2334.5h3M1207 2335.5h1" stroke="#ff1f10" stroke-width="1" shape-rendering="crispEdges"/>
<path d="M1214 2171.5h3M1213 2172.5h3M1213 2173.5h2M1213 2174.5h3M1212 2175.5h5M1213 2176.5h4m2 0h1M1212 2177.5h9M1211 2178.5h10M1212 2179.5h10M1158 2180.5h1m2 0h1m51 0h1m2 0h1m1 0h3M1157 2181.5h3m2 0h1m49 0h3m4 0h2M1156 2182.5h5m22 0h1m28 0h4m3 0h3M1157 2183.5h3m22 0h3m1 0h1m26 0h2m3 0h3M1158 2184.5h1m1 0h1m20 0h7m30 0h2M1159 2185.5h5m1 0h1m16 0h7m28 0h4M1158 2186.5h9m15 0h6m28 0h5M1159 2187.5h8m8 0h1m3 0h1m3 0h4m1 0h1m28 0h3M1160 2188.5h5m1 0h1m7 0h16m22 0h1m1 0h1m3 0h3M1159 2189.5h5m9 0h18m21 0h4m1 0h4m7 0h1M1157 2190.5h6m10 0h17m22 0h5m1 0h2m7 0h3M1156 2191.5h6m14 0h7m2 0h5m23 0h3m1 0h2m7 0h5m1 0h2M1116 2192.5h2m37 0h8m2 0h1m11 0h5m1 0h8m23 0h1m1 0h2m9 0h3m1 0h3M1115 2193.5h1m1 0h2m37 0h11m10 0h15m34 0h3m3 0h3M1114 2194.5h3m1 0h1m38 0h2m1 0h8m8 0h11m1 0h3m34 0h5m1 0h3M1113 2195.5h3m3 0h1m36 0h4m1 0h1m2 0h6m5 0h15m3 0h1m14 0h3m14 0h4m1 0h5M1114 2196.5h1m3 0h3m20 0h3m11 0h6m4 0h6m5 0h15m1 0h1m7 0h1m1 0h3m4 0h3m13 0h3m3 0h3M1114 2197.5h1m2 0h3m16 0h1m3 0h5m9 0h6m2 0h1m4 0h5m3 0h1m1 0h13m11 0h3m2 0h1m3 0h1m1 0h1m11 0h4m4 0h1m1 0h1M1115 2198.5h1m2 0h1m16 0h3m2 0h4m6 0h2m3 0h5m1 0h3m4 0h3m3 0h3m1 0h4m2 0h1m1 0h1m1 0h1m8 0h1m4 0h1m1 0h4m3 0h3m10 0h5m4 0h2M1116 2199.5h1m17 0h9m5 0h5m2 0h2m1 0h7m1 0h1m2 0h1m3 0h9m14 0h3m4 0h6m3 0h3m10 0h5m2 0h3M1135 2200.5h9m3 0h5m2 0h14m4 0h1m1 0h3m1 0h4m13 0h3m4 0h8m3 0h1m12 0h5m2 0h1M1135 2201.5h10m3 0h4m1 0h8m1 0h7m2 0h3m1 0h8m12 0h2m1 0h1m4 0h9m14 0h6M1134 2202.5h12m3 0h4m1 0h3m2 0h1m1 0h8m1 0h13m14 0h3m2 0h3m1 0h7m14 0h4M1135 2203.5h12m2 0h5m1 0h1m4 0h10m1 0h3m1 0h9m12 0h10m2 0h8m13 0h1M1136 2204.5h10m4 0h3m6 0h6m1 0h4m2 0h1m3 0h9m4 0h1m4 0h2m1 0h3m2 0h3m2 0h10m1 0h1M1137 2205.5h10m3 0h3m6 0h7m1 0h4m4 0h1m1 0h7m2 0h5m2 0h4m1 0h1m4 0h1m2 0h14M1138 2206.5h1m1 0h1m2 0h5m1 0h5m4 0h7m1 0h6m2 0h3m1 0h3m1 0h1m4 0h3m2 0h6m1 0h1m7 0h3m2 0h5m1 0h3M1135 2207.5h1m5 0h1m2 0h9m4 0h5m1 0h1m3 0h13m6 0h4m3 0h9m6 0h1m4 0h3m1 0h1m1 0h1M1134 2208.5h4m2 0h3m1 0h9m5 0h3m7 0h13m4 0h6m1 0h11m4 0h3m4 0h1m1 0h3M1111 2209.5h1m23 0h12m2 0h3m5 0h1m12 0h10m4 0h1m1 0h4m1 0h13m2 0h5m4 0h5M1110 2210.5h3m23 0h11m1 0h6m2 0h3m10 0h5m2 0h5m2 0h3m1 0h2m2 0h4m1 0h1m2 0h5m1 0h1m1 0h3m6 0h3M1106 2211.5h2m3 0h3m11 0h3m9 0h9m3 0h11m5 0h1m4 0h4m3 0h3m2 0h5m3 0h5m5 0h7m1 0h1m8 0h1m6 0h1m1 0h5M1106 2212.5h2m3 0h3m10 0h7m6 0h1m2 0h3m1 0h1m5 0h9m5 0h3m2 0h6m1 0h4m3 0h3m3 0h5m5 0h11m1 0h1m1 0h1m4 0h1m4 0h1m1 0h5M1106 2213.5h3m2 0h4m10 0h3m2 0h2m9 0h1m9 0h5m1 0h1m3 0h1m1 0h18m1 0h5m2 0h4m5 0h17m7 0h1m3 0h3M1105 2214.5h10m7 0h1m3 0h1m4 0h1m12 0h1m1 0h1m5 0h3m5 0h26m1 0h6m4 0h18m11 0h2M1106 2215.5h3m2 0h4m6 0h3m2 0h1m15 0h6m2 0h2m1 0h1m1 0h1m3 0h9m2 0h15m1 0h6m6 0h4m1 0h1m2 0h3m1 0h5m10 0h3m1 0h1M1107 2216.5h1m4 0h1m7 0h8m5 0h1m7 0h12m1 0h3m3 0h8m2 0h14m1 0h6m5 0h1m2 0h4m2 0h5m1 0h1m1 0h1m10 0h7M1107 2217.5h2m7 0h1m4 0h8m1 0h1m1 0h2m6 0h19m2 0h8m1 0h19m6 0h3m1 0h5m2 0h5m13 0h7M1107 2218.5h3m5 0h3m3 0h3m1 0h3m1 0h7m5 0h4m1 0h7m1 0h6m1 0h23m1 0h4m5 0h5m1 0h3m3 0h4m15 0h2m1 0h2M1107 2219.5h4m3 0h5m1 0h15m5 0h4m2 0h7m1 0h11m1 0h17m2 0h6m2 0h1m1 0h3m2 0h2m3 0h5M1106 2220.5h5m4 0h4m2 0h11m1 0h2m4 0h6m2 0h3m1 0h25m1 0h6m2 0h12m2 0h3m1 0h1m2 0h5m4 0h1M1107 2221.5h3m4 0h6m2 0h7m1 0h1m2 0h3m3 0h6m2 0h29m2 0h34m2 0h3m9 0h1M1106 2222.5h3m3 0h8m4 0h4m4 0h6m2 0h19m1 0h16m3 0h5m1 0h12m2 0h19m7 0h3M1105 2223.5h5m1 0h10m4 0h1m7 0h6m2 0h9m2 0h6m3 0h14m4 0h4m3 0h12m2 0h12m1 0h7m4 0h5m1 0h1M1105 2224.5h4m1 0h11m5 0h1m6 0h7m1 0h8m2 0h6m1 0h1m2 0h2m1 0h13m1 0h7m2 0h10m1 0h11m1 0h1m3 0h8m3 0h3m1 0h3M1105 2225.5h3m1 0h11m5 0h3m4 0h9m1 0h14m1 0h7m1 0h5m1 0h7m1 0h7m2 0h8m1 0h10m6 0h8m3 0h9M1106 2226.5h1m3 0h3m1 0h5m5 0h5m4 0h3m1 0h5m1 0h36m1 0h7m1 0h7m1 0h12m4 0h6m1 0h1m3 0h9M1105 2227.5h3m3 0h1m3 0h5m4 0h5m5 0h1m3 0h5m1 0h6m2 0h35m1 0h7m1 0h13m2 0h6m5 0h9M1104 2228.5h5m1 0h1m1 0h1m1 0h5m4 0h7m1 0h2m1 0h1m4 0h13m1 0h7m1 0h6m1 0h41m1 0h6m7 0h8M1104 2229.5h14m4 0h7m1 0h7m1 0h22m3 0h1m1 0h1m1 0h9m1 0h10m1 0h7m1 0h3m1 0h3m2 0h10m7 0h4m1 0h6M1105 2230.5h12m2 0h1m2 0h6m1 0h32m4 0h22m1 0h2m1 0h8m2 0h3m2 0h8m1 0h1m5 0h13M1105 2231.5h3m1 0h7m2 0h3m2 0h4m1 0h58m1 0h3m1 0h14m2 0h5m2 0h3m1 0h1m1 0h15M1104 2232.5h18m1 0h16m1 0h1m1 0h49m1 0h3m1 0h3m1 0h5m2 0h5m1 0h7m1 0h9m1 0h4M1100 2233.5h1m2 0h1m1 0h3m1 0h8m1 0h4m2 0h3m1 0h14m1 0h24m2 0h1m1 0h21m1 0h1m3 0h1m1 0h5m3 0h4m1 0h1m1 0h7m1 0h1m1 0h5m3 0h4M1099 2234.5h13m2 0h4m1 0h4m2 0h1m2 0h15m1 0h23m3 0h16m2 0h5m4 0h6m3 0h8m1 0h1m1 0h5m3 0h2m5 0h3M1098 2235.5h14m2 0h10m3 0h16m1 0h5m1 0h18m3 0h11m2 0h3m2 0h5m2 0h6m4 0h9m3 0h5m6 0h1m3 0h1M1097 2236.5h8m1 0h5m4 0h3m1 0h4m3 0h16m3 0h3m1 0h18m4 0h5m1 0h4m2 0h5m2 0h13m3 0h10m3 0h3m6 0h3M1096 2237.5h8m2 0h5m2 0h1m2 0h1m1 0h4m3 0h12m1 0h3m4 0h12m2 0h9m1 0h7m1 0h18m1 0h8m1 0h10m12 0h5M1095 2238.5h1m1 0h7m3 0h4m1 0h3m2 0h6m1 0h1m1 0h12m1 0h2m3 0h12m2 0h38m1 0h6m1 0h11M1094 2239.5h9m3 0h1m1 0h8m2 0h4m1 0h19m1 0h14m2 0h43m2 0h12M1093 2240.5h9m3 0h10m2 0h1m1 0h2m1 0h12m1 0h24m1 0h41m2 0h14M1094 2241.5h9m1 0h11m1 0h3m1 0h26m2 0h17m1 0h34m4 0h12m1 0h1m3 0h1M1095 2242.5h1m1 0h11m2 0h35m3 0h21m1 0h6m1 0h17m1 0h5m5 0h10m1 0h3m1 0h3m2 0h1M1098 2243.5h11m1 0h36m1 0h28m1 0h25m3 0h5m2 0h9m1 0h4m2 0h1M1097 2244.5h13m1 0h16m1 0h19m1 0h53m2 0h6m3 0h7m3 0h2m4 0h1M1093 2245.5h1m2 0h8m1 0h4m3 0h14m3 0h12m2 0h47m2 0h16m3 0h8m6 0h1m3 0h1M1092 2246.5h12m3 0h1m5 0h15m2 0h10m3 0h46m4 0h8m2 0h4m3 0h6m1 0h3m4 0h4M1091 2247.5h8m1 0h3m3 0h3m3 0h28m2 0h27m1 0h19m3 0h1m1 0h1m2 0h3m4 0h1m4 0h6m1 0h5m3 0h4M1092 2248.5h6m3 0h1m3 0h5m1 0h28m4 0h27m1 0h11m1 0h13m2 0h1m6 0h1m4 0h6m1 0h3m5 0h2M1093 2249.5h2m1 0h1m8 0h11m1 0h22m1 0h1m3 0h27m2 0h27m2 0h1m1 0h3m4 0h6m1 0h1M1090 2250.5h1m2 0h3m10 0h3m2 0h32m1 0h26m2 0h14m1 0h20m5 0h5M1087 2251.5h10m4 0h1m4 0h2m4 0h57m2 0h16m1 0h19m6 0h3M1087 2252.5h11m2 0h3m2 0h3m3 0h67m1 0h27m6 0h3M1086 2253.5h1m2 0h3m2 0h15m2 0h39m1 0h53m3 0h1m3 0h5m3 0h1M1089 2254.5h3m3 0h13m2 0h41m1 0h52m2 0h3m3 0h3m3 0h3m4 0h1M1088 2255.5h5m3 0h107m2 0h4m4 0h3m1 0h5m2 0h3M1089 2256.5h3m3 0h22m2 0h83m1 0h1m2 0h3m3 0h9m1 0h1m2 0h3M1088 2257.5h3m3 0h23m1 0h54m1 0h32m2 0h1m5 0h11m2 0h1M1087 2258.5h6m2 0h23m1 0h32m1 0h19m1 0h34m8 0h14M1086 2259.5h1m1 0h6m2 0h57m1 0h11m1 0h5m1 0h34m9 0h1m1 0h1m1 0h1m1 0h8M1085 2260.5h3m1 0h6m2 0h93m1 0h7m2 0h7m3 0h1m3 0h1m6 0h7m9 0h3M1085 2261.5h4m2 0h4m1 0h101m3 0h8m1 0h3m1 0h4m5 0h3m1 0h2m8 0h5M1085 2262.5h3m3 0h56m1 0h48m1 0h1m3 0h17m5 0h1m12 0h5M1086 2263.5h1m3 0h57m1 0h51m1 0h8m1 0h11m1 0h1m14 0h4M1089 2264.5h74m1 0h27m2 0h7m1 0h6m3 0h13m12 0h5M1075 2265.5h1m8 0h1m4 0h4m1 0h3m1 0h94m2 0h1m1 0h3m3 0h5m2 0h3m2 0h10m11 0h4M1072 2266.5h1m1 0h3m8 0h1m2 0h5m1 0h3m2 0h92m2 0h1m3 0h1m5 0h10m1 0h2m2 0h5m12 0h5M1069 2267.5h9m9 0h1m1 0h3m1 0h5m2 0h86m1 0h3m2 0h3m3 0h1m3 0h10m1 0h3m3 0h1m1 0h1m14 0h5M1069 2268.5h8m9 0h3m1 0h1m1 0h93m6 0h5m1 0h3m1 0h7m2 0h7m20 0h3M1069 2269.5h9m7 0h5m3 0h21m1 0h71m6 0h17m1 0h8m9 0h1M1069 2270.5h1m2 0h1m1 0h5m7 0h3m4 0h22m1 0h72m5 0h3m1 0h11m1 0h8m5 0h3m3 0h1M1075 2271.5h5m6 0h3m1 0h8m1 0h15m1 0h74m5 0h1m3 0h1m2 0h6m3 0h6m5 0h5m3 0h1M1075 2272.5h6m4 0h14m1 0h13m2 0h75m4 0h1m1 0h1m5 0h5m2 0h1m1 0h5m4 0h1m1 0h3m7 0h2M1074 2273.5h8m2 0h16m1 0h13m1 0h63m1 0h12m2 0h5m4 0h9m1 0h5m2 0h6m4 0h1m1 0h4M1073 2274.5h9m3 0h28m1 0h76m2 0h7m2 0h11m1 0h3m2 0h8m2 0h3m1 0h3M1074 2275.5h7m4 0h107m1 0h5m1 0h12m3 0h12m1 0h5m1 0h1m2 0h1M1066 2276.5h1m8 0h3m1 0h1m5 0h99m1 0h27m1 0h14m1 0h3m4 0h3M1066 2277.5h2m1 0h1m5 0h2m7 0h129m1 0h6m1 0h1m1 0h3m1 0h5m2 0h4M1065 2278.5h1m1 0h4m3 0h3m1 0h1m4 0h1m1 0h116m3 0h9m2 0h6m3 0h1m3 0h5m1 0h4M1064 2279.5h8m1 0h7m2 0h119m4 0h9m3 0h3m5 0h1m3 0h8M1063 2280.5h8m1 0h109m1 0h12m1 0h7m4 0h3m1 0h5m3 0h3m3 0h3m3 0h3m1 0h2M1063 2281.5h4m2 0h1m3 0h128m6 0h1m3 0h3m3 0h11m3 0h1M1060 2282.5h6m8 0h6m1 0h113m2 0h6m3 0h4m1 0h3m1 0h1m3 0h9M1060 2283.5h6m10 0h4m1 0h113m3 0h19m3 0h7M1060 2284.5h5m1 0h1m4 0h1m4 0h12m2 0h105m1 0h21m1 0h6M1063 2285.5h1m1 0h3m2 0h3m4 0h11m2 0h98m1 0h6m1 0h13m2 0h5m1 0h6M1064 2286.5h10m1 0h112m1 0h8m1 0h4m1 0h4m1 0h1m3 0h4m1 0h6M1065 2287.5h8m1 0h6m1 0h114m1 0h5m2 0h1m6 0h5m2 0h3m2 0h1M1064 2288.5h1m1 0h1m2 0h3m1 0h6m1 0h1m1 0h110m1 0h1m3 0h5m1 0h1m6 0h4m2 0h1m1 0h2m1 0h3M1063 2289.5h3m1 0h1m2 0h1m1 0h1m1 0h3m2 0h109m1 0h6m1 0h9m2 0h1m1 0h16M1061 2290.5h8m2 0h5m2 0h146M1060 2291.5h114m1 0h48M1059 2292.5h10m1 0h114m1 0h17m1 0h11m1 0h8M1059 2293.5h9m1 0h21m1 0h111m1 0h5m2 0h3m1 0h8M1060 2294.5h2m2 0h3m1 0h19m1 0h1m1 0h111m1 0h1m1 0h3m4 0h1m3 0h6M1065 2295.5h1m3 0h131m1 0h3m1 0h1m9 0h5M1068 2296.5h131m1 0h5m1 0h1m9 0h3M1068 2297.5h7m1 0h104m2 0h22m1 0h3m9 0h1M1067 2298.5h112m2 0h22m1 0h5M1066 2299.5h122m2 0h13m2 0h4M1067 2300.5h118m1 0h1m2 0h4m1 0h10m2 0h5M1066 2301.5h108m1 0h12m1 0h10m1 0h4m3 0h6M1057 2302.5h1m1 0h1m7 0h106m1 0h23m1 0h1m1 0h4m2 0h7M1056 2303.5h1m1 0h3m7 0h8m1 0h135M1057 2304.5h5m5 0h145M1056 2305.5h1m1 0h3m5 0h145m1 0h1M1055 2306.5h5m5 0h117m1 0h31M1054 2307.5h6m4 0h12m1 0h104m1 0h22m1 0h9M1055 2308.5h6m2 0h118m2 0h22m1 0h1m2 0h5M1055 2309.5h16m1 0h109m3 0h1m2 0h17m6 0h1m1 0h1M1054 2310.5h7m1 0h120m4 0h17m4 0h1M1053 2311.5h7m1 0h122m1 0h20m1 0h4M1054 2312.5h4m2 0h135m1 0h14M1054 2313.5h5m2 0h3m1 0h146m12 0h2M1055 2314.5h6m1 0h2m2 0h146m1 0h1m8 0h4M1056 2315.5h9m1 0h140m1 0h8m7 0h5M1055 2316.5h132m1 0h14m1 0h4m2 0h7m7 0h3M1056 2317.5h9m1 0h121m1 0h20m1 0h8m6 0h3m1 0h1M1057 2318.5h150m3 0h7m5 0h7M1053 2319.5h1m3 0h151m3 0h1m1 0h5m1 0h1m1 0h7M1052 2320.5h3m1 0h153m2 0h1m1 0h12m1 0h1M1051 2321.5h143m1 0h1m3 0h10m1 0h14M1052 2322.5h144m4 0h1m3 0h17m1 0h1M1053 2323.5h5m1 0h138m1 0h1m6 0h4m1 0h6m1 0h1m1 0h1M1051 2324.5h1m1 0h5m2 0h140m4 0h11m11 0h1M1050 2325.5h7m2 0h142m3 0h10m11 0h1M1049 2326.5h7m2 0h142m5 0h3m1 0h3m12 0h2M1050 2327.5h3m1 0h1m4 0h140m7 0h1m1 0h5m9 0h1m2 0h2M1051 2328.5h2m3 0h1m1 0h1m1 0h139m10 0h5m7 0h3m2 0h2M1048 2329.5h1m2 0h3m1 0h145m10 0h3m7 0h5m3 0h1M1047 2330.5h152m22 0h3m3 0h1M1046 2331.5h8m1 0h145m22 0h1m3 0h1M1045 2332.5h8m1 0h139m1 0h1m1 0h5m1 0h1M1046 2333.5h143m2 0h1m4 0h8M1045 2334.5h143m7 0h10M1046 2335.5h133m1 0h8m7 0h5m1 0h5M1047 2336.5h135m1 0h6m1 0h2m2 0h5m3 0h4M1046 2337.5h9m1 0h127m1 0h14m3 0h1m2 0h2M1047 2338.5h3m1 0h131m1 0h1m1 0h14m1 0h3M1047 2339.5h2m2 0h128m1 0h7m2 0h9m1 0h5M1046 2340.5h146m2 0h3m3 0h3M1045 2341.5h147m1 0h3m5 0h1M1046 2342.5h145m1 0h5m6 0h1m1 0h1M1047 2343.5h143m1 0h5m6 0h6M1046 2344.5h149m1 0h1m1 0h1m2 0h6M1045 2345.5h133m1 0h15m1 0h5m1 0h7M1045 2346.5h159m1 0h4M1044 2347.5h141m2 0h1m2 0h3m1 0h10m3 0h1M1045 2348.5h140m1 0h6m3 0h4m1 0h3M1046 2349.5h156m2 0h1M1044 2350.5h1m1 0h160M1044 2351.5h163M1044 2352.5h144m1 0h9m2 0h1m2 0h3m1 0h1m1 0h1M1044 2353.5h145m1 0h1m2 0h2m1 0h1m7 0h1m1 0h4M1044 2354.5h140m1 0h3m1 0h1m3 0h3m6 0h1m2 0h4M1044 2355.5h141m1 0h5m1 0h5m4 0h3m2 0h2M1044 2356.5h154m2 0h2m1 0h2M1044 2357.5h141m1 0h5m2 0h6M1044 2358.5h140m2 0h14M1044 2359.5h136m1 0h2m2 0h6m2 0h6M1044 2360.5h146m4 0h2m1 0h1M1044 2361.5h144m13 0h1M1044 2362.5h145m11 0h1M1044 2363.5h144m11 0h2M1044 2364.5h117m1 0h26m8 0h2m2 0h2M1044 2365.5h118m1 0h24m8 0h2m4 0h2M1044 2366.5h136m1 0h1m1 0h3m9 0h1m4 0h4M1044 2367.5h135m2 0h6m8 0h1m3 0h5M1044 2368.5h134m2 0h6m8 0h3m2 0h5M1044 2369.5h120m2 0h12m1 0h8m7 0h8M1044 2370.5h121m2 0h11m2 0h7m8 0h7M1044 2371.5h122m1 0h12m2 0h5m12 0h3M1044 2372.5h134m2 0h5m12 0h4M1044 2373.5h140m1 0h1m12 0h2M1044 2374.5h139m1 0h3M1044 2375.5h135m2 0h1m1 0h5M1044 2376.5h135m5 0h3m1 0h1M1044 2377.5h119m1 0h15m3 0h2m1 0h1m1 0h2M1044 2378.5h136m1 0h4m1 0h4M1044 2379.5h130m2 0h10m1 0h3M1044 2380.5h129m1 0h1m1 0h9m3 0h1M1044 2381.5h132m1 0h3m2 0h2m1 0h1M1044 2382.5h122m1 0h10m1 0h1m5 0h3m3 0h2M1044 2383.5h122m2 0h1m1 0h6m7 0h5m1 0h3M1044 2384.5h123m1 0h1m2 0h6m5 0h5m3 0h1M1044 2385.5h122m1 0h3m1 0h7m4 0h5m1 0h1M1044 2386.5h133m7 0h2m1 0h2M1044 2387.5h133m9 0h2M1044 2388.5h127m1 0h6m1 0h1M1044 2389.5h127m1 0h1m1 0h3m1 0h3M1044 2390.5h132m1 0h5M1044 2391.5h133m1 0h3M1044 2392.5h132m1 0h3M1044 2393.5h125m1 0h11M1044 2394.5h114m1 0h1m2 0h6m1 0h1m2 0h8M1044 2395.5h115m3 0h9m2 0h6m4 0h1M1044 2396.5h116m1 0h19m2 0h3M1044 2397.5h115m1 0h12m1 0h7m1 0h4M1044 2398.5h124m1 0h4m1 0h1m2 0h4m1 0h3M1044 2399.5h124m1 0h6m1 0h6m1 0h1M1044 2400.5h125m1 0h12M1044 2401.5h124m3 0h12M1044 2402.5h123m6 0h3m1 0h5M1044 2403.5h115m2 0h5m8 0h1m1 0h1m2 0h2M1044 2404.5h122m9 0h3M1044 2405.5h121m1 0h1m7 0h5M1044 2406.5h120m1 0h3m1 0h1m4 0h4m1 0h1M1044 2407.5h118m2 0h7m2 0h4m1 0h3M1044 2408.5h109m2 0h8m2 0h15M1044 2409.5h110m2 0h9m1 0h1m1 0h3m2 0h3m2 0h1M1044 2410.5h109m2 0h1m1 0h1m1 0h7m3 0h1m4 0h1M1044 2411.5h108m2 0h5m1 0h9m3 0h1M1044 2412.5h108m1 0h9m1 0h7m1 0h3M1044 2413.5h107m2 0h21M1044 2414.5h107m1 0h18m1 0h2M1044 2415.5h106m1 0h1m1 0h8m1 0h3m2 0h2M1044 2416.5h103m1 0h12m3 0h1M1044 2417.5h116M1044 2418.5h115M1044 2419.5h109m2 0h5M1044 2420.5h109m3 0h3M1044 2421.5h99m1 0h1m1 0h8m3 0h1M1044 2422.5h98m1 0h3m1 0h7M1044 2423.5h97m1 0h5m1 0h1m1 0h5M1044 2424.5h97m2 0h3m5 0h3m4 0h1M1044 2425.5h98m2 0h1m5 0h5m2 0h3M1044 2426.5h97m2 0h1m1 0h3m3 0h3m2 0h4M1044 2427.5h97m1 0h7m3 0h3m1 0h4M1044 2428.5h106m1 0h5m1 0h3M1044 2429.5h105m3 0h3m1 0h3M1044 2430.5h98m1 0h1m1 0h4m4 0h1m1 0h3M1044 2431.5h97m4 0h5m6 0h1M1044 2432.5h98m1 0h6M1044 2433.5h97m1 0h6M1044 2434.5h103M1044 2435.5h81m2 0h9m1 0h9M1044 2436.5h92m2 0h3m2 0h1M1044 2437.5h92m3 0h1M1044 2438.5h93M1044 2439.5h92M1044 2440.5h91M1044 2441.5h86m1 0h1m1 0h1M1044 2442.5h87M1044 2443.5h86m4 0h1M1044 2444.5h77m1 0h7m4 0h3M1044 2445.5h77m2 0h1m1 0h4m3 0h3M1044 2446.5h86m1 0h1m1 0h2M1044 2447.5h89m1 0h1M1044 2448.5h90M1044 2449.5h80m1 0h8M1044 2450.5h79m2 0h1m1 0h1m1 0h1m1 0h1M1044 2451.5h69m1 0h8m2 0h3M1044 2452.5h69m1 0h14M1044 2453.5h70m1 0h7m1 0h4M1044 2454.5h69m2 0h11M1044 2455.5h70m2 0h10" stroke="#ff0000" stroke-width="1" shape-rendering="crispEdges"/>
<path d="M1191 2372h0m-139 -63h0m228 -57h0m-66 -71h0m12 141h0m-82 -175h0m-10 55h0m43 -39h0m22 28h0m22 64h0m-22 -93h0m-1 110h0m-134 15h0m-17 14h0m169 -95h0m-63 -23h0m95 20h0m-53 -49h0m-24 32h0m113 -18h0m-50 43h0m-22 -44h0m-81 31h0m108 102h0m-29 -102h0m-24 8h0m21 153h0m-11 6h0m86 -212h0m-138 47h0m90 -43h0m-43 211h0m-55 -201h0m97 8h0m-83 -48h0m131 14h0m-56 23h0m-30 4h0m-105 27h0m146 4h0m-91 232h0m60 -243h0m-36 -19h0m23 -59h0m-19 3h0m35 182h0m12 0h0m-84 -106h0m25 -9h0m7 257h0m-20 -13h0m66 -130h0m-133 -23h0m-16 25h0m52 -96h0m62 195h0m41 -90h0m-10 27h0m-44 97h0m50 -147h0m-84 -115h0m39 239h0m-49 43h0m26 -10h0m122 -272h0m-36 -9h0m-150 106h0m39 -80h0m43 -24h0m53 170h0m-165 -22h0m191 -50h0m-49 -80h0m-20 16h0m35 163h0m22 -179h0m-13 53h0m19 -44h0m-162 83h0m136 -102h0m9 172h0m3 17h0m-78 80h0m-53 -201h0m50 -64h0m83 9h0m-44 -38h0m-16 288h0m-6 -222h0m45 -31h0m-55 251h0m23 -258h0m31 21h0m-84 2h0m51 -16h0m-48 22h0m100 62h0m5 29h0m-100 -95h0m-12 16h0m90 -7h0m-14 172h0m63 -121h0m-148 -40h0m-62 109h0m170 -130h0m-6 32h0m2 138h0m-6 -120h0m-117 -3h0m-5 19h0m141 -70h0m-165 101h0m124 -113h0m-51 -61h0m83 48h0m26 16h0m-146 50h0m54 -51h0m54 114h0m-102 -110h0m27 26h0m100 29h0m-21 -69h0m-52 39h0m14 7h0m53 -163h0m-134 142h0m121 73h0m34 -61h0m-164 11h0m104 -62h0m-34 29h0m72 145h0m-135 -105h0m168 32h0m-72 -100h0m-80 62h0m70 -44h0m50 49h0m12 -19h0m-86 226h0m-99 -103h0m36 -74h0m145 9h0m9 -134h0m14 51h0m-179 104h0m71 -112h0m-11 33h0m-48 57h0m165 84h0m-18 -57h0m-6 -7h0m-45 -75h0m13 165h0m42 -205h0m-72 11h0m63 129h0m-13 -122h0m-23 33h0m-8 -55h0m-53 38h0m-3 12h0m76 126h0m-12 9h0m36 -69h0m-63 -89h0m-57 21h0m85 -17h0m-104 50h0m149 118h0m-147 -154h0m116 -13h0m-120 70h0m141 -6h0m-12 -32h0m-51 204h0m33 -101h0m14 6h0m33 -156h0m-13 55h0m10 6h0m-61 -51h0m47 -39h0m-3 84h0m-118 15h0m-16 3h0m109 -67h0m1 155h0m-15 -136h0m64 65h0m-16 -20h0m-151 -3h0m35 -20h0m-74 107h0m146 -118h0m13 154h0m76 -92h0m-21 -169h0m-33 68h0m-3 102h0m16 -88h0m-40 161h0m21 -151h0m31 11h0m-17 54h0m-38 96h0m32 -34h0m-33 -177h0m3 19h0m10 195h0m14 -97h0m5 37h0m-75 -132h0m78 110h0m-14 24h0m4 -90h0m-169 97h0m82 -104h0m23 -9h0m-20 238h0m47 -274h0m41 37h0m-17 124h0m12 -39h0m9 2h0m-48 -136h0m46 158h0m-52 -133h0m42 101h0m-19 100h0m8 7h0m4 -91h0m-105 -58h0m56 179h0m38 -146h0m27 -78h0m-60 -29h0m-40 287h0m93 -180h0m-29 64h0m1 -117h0m50 -8h0m-70 -37h0m-47 63h0m32 -31h0m70 -21h0m-4 0h0m-28 191h0m22 -135h0m0 108h0m14 -91h0m5 24h0m-22 -93h0m32 139h0m-156 -110h0m156 -8h0m-40 127h0m-7 -117h0m66 -25h0m-51 17h0m-51 -51h0m55 140h0m117 -115h0m-203 29h0m67 8h0m-36 194h0m-88 -136h0m193 -35h0m-64 -103h0m19 83h0m-3 -26h0m9 66h0m-29 -89h0m33 64h0m-28 -56h0m31 -8h0m-3 72h0m36 1h0m-121 184h0m33 -273h0m37 169h0m-76 108h0m96 -246h0m-42 25h0m-55 6h0m111 8h0m-24 38h0m-94 -86h0m-61 92h0m152 -22h0m-116 -15h0m43 -40h0m-54 47h0m151 -2h0m-92 178h0m110 -183h0m-199 77h0m60 -78h0m63 127h0m31 -64h0m-29 -88h0m-110 46h0m86 -50h0m-61 -26h0m91 178h0m9 -18h0m3 2h0m5 -40h0m7 -130h0m-18 7h0m-1 214h0m-56 -195h0m65 -24h0m-119 59h0m7 -5h0m103 126h0m30 -189h0m-11 11h0m-91 18h0m3 250h0m86 -264h0m-105 36h0m45 -50h0m31 165h0m2 65h0m17 -199h0m-122 69h0m95 117h0m-44 -213h0m-33 65h0m98 -16h0m-12 -30h0m-40 7h0m95 72h0m-118 -119h0m99 130h0m4 -15h0m-22 64h0m21 50h0m-185 -50h0m33 -54h0m147 -30h0m-103 -41h0m91 158h0m-127 -145h0m140 84h0m-55 -106h0m6 242h0m-103 -174h0m127 -107h0m57 24h0m-30 129h0m-16 20h0m-9 -111h0m-42 217h0m54 -103h0m-25 33h0m30 -120h0m4 -59h0m-37 198h0m26 -126h0m-27 -86h0m-37 55h0m66 72h0m-30 -134h0m-123 121h0m37 -69h0m75 -32h0m-105 82h0m95 -77h0m7 232h0m-88 -183h0m116 -22h0m15 24h0m-63 173h0m-63 -177h0m123 -28h0m-15 -25h0m41 52h0m-22 78h0m-137 -80h0m103 -65h0m-117 136h0m24 -45h0m6 -15h0m-42 81h0m31 -80h0m111 2h0m88 -7h0m-145 -28h0m85 31h0m-2 -35h0m-50 185h0m35 -222h0m-153 104h0m159 -20h0m3 -145h0m0 222h0m34 -126h0m-104 232h0m-40 -276h0m123 206h0m8 -72h0m-24 3h0m-39 99h0m49 -149h0m-84 -33h0m55 177h0m28 -197h0m-121 8h0m100 -17h0m-110 13h0m-3 48h0m130 91h0m-7 -43h0m29 -86h0m-165 65h0m98 -72h0m62 135h0m-67 65h0m20 -38h0m14 -143h0m14 119h0m42 -126h0m-66 55h0m-3 -146h0m61 -65h0m-202 253h0m184 -58h0m83 -95h0m-62 38h0m-130 -15h0m95 45h0m-119 17h0m99 -34h0m25 -23h0m-89 7h0m-8 13h0m76 174h0m9 -45h0m50 -211h0m-66 254h0m-95 -158h0m133 11h0m-34 41h0m23 -52h0m-11 -26h0m-46 12h0m39 32h0m-85 -26h0m-41 40h0m130 33h0m-63 157h0m-47 -208h0m74 148h0m22 -41h0m-39 -135h0m-43 29h0m16 -68h0m-46 48h0m153 -60h0m-118 57h0m49 196h0m23 -16h0m-84 -173h0m21 -51h0m85 93h0m-58 -48h0m2 -30h0m57 199h0m56 -185h0m-103 208h0" stroke="#ff3e1f" stroke-width="4.2" stroke-linecap="round"/>
<path d="M1220 2273h0m-40 101h0m38 -131h0m-110 -16h0m115 70h0m44 -129h0m23 -109h0m-86 157h0m-66 -5h0m71 137h0m86 -204h0m-135 68h0m20 -50h0m-51 51h0m-42 35h0m45 -41h0m133 59h0m-78 -39h0m26 -43h0m-25 30h0m-32 211h0m4 -282h0m40 194h0m15 -4h0m-24 -147h0m33 100h0m-24 95h0m36 -140h0m-22 -23h0m-22 -14h0m47 -74h0m-33 210h0m11 -92h0m21 -74h0m-16 173h0m-54 64h0m76 -103h0m-33 45h0m29 -138h0m-71 -23h0m40 33h0m-66 213h0m-57 -169h0m-3 -8h0m-25 27h0m173 -93h0m-51 214h0m29 -196h0m38 58h0m-26 -28h0m-31 29h0m21 -52h0m-121 49h0m129 93h0m-105 -93h0m-11 -67h0m110 173h0m31 -173h0m-30 58h0m-55 -54h0m9 198h0m-23 -200h0m58 171h0m-36 41h0m-100 -154h0m0 35h0m88 134h0m87 -145h0m-31 -40h0m-61 -23h0m-59 33h0m74 171h0m89 -198h0m-34 90h0m-31 -52h0m13 -25h0m-9 126h0m19 -107h0m-19 73h0m-24 64h0m-105 -134h0m56 -46h0m116 43h0m38 3h0m-134 -86h0m56 90h0m7 -86h0m-151 126h0m189 -31h0m-21 -71h0m-108 41h0m51 -163h0m49 229h0m22 -90h0m0 91h0m-18 -97h0m14 108h0m-85 -123h0m41 65h0m-34 -92h0m78 137h0m-55 -134h0m-27 249h0m72 -79h0m-165 -28h0m200 -137h0m-190 129h0m128 62h0m-4 -21h0m-71 -148h0m10 -62h0m-60 129h0m137 -111h0m-45 41h0m71 -47h0m-47 232h0m-80 -138h0m94 93h0m9 -173h0m-61 283h0m66 -176h0m1 29h0m9 -54h0m-6 35h0m-108 -72h0m87 10h0m-70 -37h0m74 147h0m-131 -63h0m29 -58h0m33 9h0m65 144h0m-64 87h0m177 -350h0m-72 87h0m-11 117h0m3 -74h0m-183 100h0m85 122h0m-41 -256h0m98 149h0m9 -146h0m26 100h0m-47 -129h0m-6 38h0m45 11h0m4 121h0m-33 49h0m-54 53h0m43 -66h0m63 -85h0m-74 -133h0m46 96h0m-50 171h0m66 -176h0m-94 -44h0m41 -3h0m-90 65h0m92 157h0m-31 -220h0m62 99h0m25 -134h0m-88 64h0m-24 -29h0m13 18h0m145 -57h0m-17 179h0m-52 14h0m-68 85h0m66 -199h0m-6 131h0m34 -152h0m-64 25h0m-6 -22h0m64 45h0m4 3h0m-56 -73h0m44 47h0m-149 28h0m44 -84h0m-8 -1h0m161 7h0m-64 152h0m-22 -147h0m42 26h0m-111 -48h0m33 11h0m-72 75h0m94 -95h0m-14 243h0m34 -83h0m-115 -58h0m96 -137h0m103 223h0m-139 78h0m8 -252h0m11 245h0m58 -134h0m-29 84h0m12 -118h0m-15 -115h0m-6 101h0m-109 56h0m77 -81h0m56 6h0m-49 217h0m73 -228h0m-87 -73h0m18 35h0m34 52h0m47 91h0m-84 -120h0m5 214h0m28 -33h0m-103 -127h0m134 44h0m-74 131h0m42 -229h0m-33 -24h0m78 148h0m41 -88h0m-79 -15h0m19 2h0m-33 18h0m42 58h0m-41 -109h0m-3 -14h0m-68 63h0m51 181h0m51 -235h0m-58 26h0m-52 37h0m137 -9h0m6 -39h0m-11 11h0m4 96h0m-96 126h0m12 -243h0m30 207h0m-25 29h0m-59 -189h0m120 142h0m-3 -237h0m-12 120h0m31 -75h0m-124 56h0m87 -77h0m48 40h0m-28 139h0m-3 -146h0m-151 99h0m162 1h0m-62 126h0m42 -171h0m-25 -55h0m39 46h0m-167 85h0m160 -175h0m8 134h0m-27 -86h0m-66 20h0m87 58h0m9 69h0m-14 -75h0m22 -70h0m-17 46h0m-95 197h0m95 -144h0m-141 -65h0m91 -74h0m40 95h0m30 -44h0m-51 -41h0m-26 -21h0m66 117h0m1 38h0m-153 -27h0m28 -46h0m-5 -5h0m159 -39h0m-168 55h0m121 15h0m-7 -168h0m66 116h0m-82 198h0m42 -162h0m0 -59h0m-107 28h0m16 232h0m90 -130h0m11 19h0m-24 -111h0m30 -9h0m-64 -31h0m52 18h0m-10 71h0m-92 -48h0m-19 -41h0m52 18h0m66 42h0m-50 -76h0m-97 109h0m148 54h0m-51 61h0m16 -202h0m12 14h0m-20 10h0m24 56h0m5 72h0m-83 -128h0m13 -35h0m24 26h0m7 -19h0m45 131h0m-84 121h0m-7 -3h0m43 -244h0m84 -74h0m-136 327h0m38 -278h0m2 31h0m6 190h0m26 -19h0m47 7h0m-113 -202h0m70 187h0m-41 -159h0m37 -26h0m-24 -34h0m47 105h0m-15 19h0m-12 -61h0m27 72h0m0 -25h0m-8 5h0m57 2h0m-48 -15h0m-48 -59h0m-10 -52h0m52 160h0m-33 108h0m-10 -185h0m67 -19h0m-146 74h0m113 -40h0m4 30h0m6 -33h0m5 78h0m-25 47h0m-43 -133h0m63 83h0m18 -81h0m-76 -17h0m22 2h0m-46 23h0m79 137h0m-150 -70h0m204 -34h0m-50 -12h0m-36 -22h0m-78 14h0m-25 54h0m158 -46h0m-132 9h0m35 -34h0m-47 48h0m86 -78h0m-26 15h0m67 162h0m41 -91h0m-136 -56h0m106 131h0m-129 -92h0m134 -85h0m-45 40h0m-133 114h0m187 -69h0m-40 -105h0m-8 236h0m-35 13h0m106 -239h0m-67 5h0m57 160h0m-18 -91h0m-63 -41h0m12 181h0m35 -89h0m54 -141h0m-53 118h0m-86 -72h0m71 -4h0m70 9h0m-64 -38h0m58 38h0m-55 184h0m12 -160h0m-12 43h0m14 -40h0m-19 56h0m77 -219h0m-76 303h0m-4 -200h0m-9 173h0m45 -58h0m-50 -93h0m52 37h0m-26 70h0m46 -132h0m-77 211h0m61 -61h0m-168 -61h0m66 -46h0m-76 91h0m56 -76h0m73 144h0m-88 -127h0m116 -4h0m-49 169h0m-77 -206h0m100 172h0m-63 -182h0m-24 46h0m88 25h0m-123 5h0m43 -40h0m90 18h0m8 55h0m-67 -97h0m-20 -14h0m129 62h0m-173 -23h0m33 -9h0m26 5h0m12 -67h0m88 62h0m-89 219h0m9 -54h0m-38 -165h0m81 -87h0m-4 205h0m52 -244h0m-118 125h0m-41 14h0m108 81h0m-25 -124h0m15 184h0m66 -134h0m-49 -49h0m-43 -67h0m52 98h0m23 -97h0m-74 236h0m19 9h0m-83 -138h0m68 202h0m8 -256h0m-9 47h0m34 10h0m-77 -21h0m52 21h0m-23 -81h0m53 190h0m15 -89h0m-41 44h0m-98 -28h0m39 -40h0m64 69h0m-14 85h0m47 -180h0m3 110h0m-60 -148h0m-78 95h0m51 169h0m66 -234h0m-59 231h0m-31 -214h0m116 -13h0m-33 24h0m-104 15h0m115 54h0m10 -116h0m-141 87h0m90 -90h0m80 119h0m-36 32h0m-5 -120h0m6 35h0m-109 -18h0m112 31h0m2 52h0m28 -144h0m9 20h0m-73 -3h0m53 79h0m-91 -18h0m38 -65h0m-33 31h0m35 179h0m-69 -154h0m95 77h0m-36 80h0m49 -237h0m6 149h0m-138 -74h0m11 33h0m35 -52h0m-74 97h0m9 -22h0m32 -38h0m141 -16h0m-107 218h0m-48 -200h0m145 -17h0m-59 204h0m90 -213h0m-92 -28h0m56 7h0m-31 -98h0m-73 131h0m161 -57h0m-135 37h0m-4 29h0m58 43h0m31 -121h0m-45 237h0m28 -207h0m-106 44h0m134 4h0m-95 -34h0m45 125h0m-4 -165h0m-8 135h0m-35 116h0m63 -95h0m-67 -117h0m39 -11h0m11 157h0m-22 -170h0m-114 137h0m82 -102h0m-33 -5h0m54 -1h0m5 -37h0m41 67h0m44 -21h0m-93 -14h0m71 -18h0m-116 255h0m-65 -123h0m-2 21h0m83 -123h0m-50 63h0m138 -114h0m-97 41h0m45 -5h0m-9 -18h0m-41 82h0m99 -24h0m-91 -69h0m52 196h0m-23 33h0m75 -174h0m-151 -55h0m59 -33h0m32 266h0m25 -183h0m-38 207h0m72 -170h0m-133 -27h0m40 -30h0m62 76h0m70 -53h0m-40 2h0m57 -91h0m-86 214h0m1 -180h0m-96 45h0m29 -13h0m12 219h0m57 -110h0m-140 -21h0m14 -38h0m108 -77h0m51 68h0m-59 137h0m-22 44h0m100 -294h0m-123 60h0m103 48h0m-126 5h0m59 111h0m19 16h0m18 -23h0m-90 -139h0m110 42h0m-42 -75h0m-38 -25h0m79 63h0m-153 45h0m109 -56h0m-38 9h0m-25 2h0m31 -3h0m-43 53h0m84 100h0m-21 -185h0m48 98h0m-44 -127h0m-25 18h0m72 24h0m2 -2h0m-12 9h0m-67 -10h0m73 11h0m17 85h0m-182 50h0m81 91h0m124 -180h0m-44 34h0m-116 -22h0m114 -17h0m-52 -47h0m13 27h0m50 25h0m-97 -24h0m78 -74h0m-80 82h0m19 198h0m80 -235h0m-59 -29h0m33 46h0m4 -89h0m-138 198h0m142 -27h0m-54 -109h0m99 -8h0m-87 225h0m22 -25h0m24 -11h0m7 -29h0m-68 -124h0m51 27h0m-97 12h0m85 126h0m49 -217h0m-31 116h0m33 2h0m-45 -56h0m15 1h0m-7 -32h0m-51 38h0m46 143h0m-111 -95h0m47 -72h0m25 -34h0m60 94h0m13 -6h0m-140 8h0m67 -99h0m100 133h0m-44 -101h0m-19 161h0m19 -135h0m-11 -100h0m12 77h0m-64 209h0m5 -156h0m53 -16h0m-19 129h0m37 -80h0m-111 -51h0m106 18h0m-134 22h0m123 -91h0m-6 18h0m-80 5h0m36 -24h0m42 19h0m-67 -14h0m2 244h0m1 -220h0m64 120h0m-84 -139h0m22 10h0m-72 113h0m106 56h0m-48 -145h0m-8 -24h0m71 20h0m27 -109h0m-30 172h0m-32 148h0m44 -216h0m-89 23h0m163 -15h0m-44 44h0m-15 72h0m39 -172h0m-52 174h0m34 16h0m10 -81h0m-38 -75h0m-23 168h0m11 -84h0m-60 -69h0m16 16h0m87 -2h0m51 -52h0m-153 53h0m122 58h0m-171 -45h0m183 -10h0m-87 55h0m-16 -66h0m-1 173h0m41 -206h0m-1 135h0m-36 69h0m-54 -166h0m76 97h0m-43 112h0m-86 -122h0m143 -67h0m-79 -4h0m88 6h0m-79 -61h0m63 96h0m30 -35h0m-37 -111h0m-16 82h0m39 37h0m-16 -77h0m0 8h0m-12 178h0m-113 -118h0m123 -28h0m-22 -22h0m80 -21h0m-150 32h0m84 -52h0m-33 70h0m-4 183h0m36 -56h0m29 -87h0m-151 42h0m53 -75h0m-12 0h0m79 -57h0m-45 26h0m85 47h0m-2 -169h0m1 101h0m-69 227h0m54 -136h0m-75 -64h0m-17 31h0m165 -41h0m-98 10h0m23 131h0m-15 -132h0m53 -28h0m-5 172h0m-77 -152h0m12 -17h0m-77 44h0m160 18h0m-151 -81h0m39 69h0m65 -2h0m-66 -16h0m54 -22h0m-32 -10h0m-7 231h0m6 -215h0m36 118h0" stroke="#ff1f10" stroke-width="4.2" stroke-linecap="round"/>
<path d="M1188 2378h0m34 -223h0m-149 102h0m160 61h0m-69 105h0m-78 -172h0m99 -109h0m34 47h0m-107 21h0m87 162h0m29 -161h0m5 6h0m-76 213h0m55 -276h0m-56 26h0m71 146h0m-31 70h0m33 -179h0m9 -48h0m-66 -6h0m82 20h0m-36 9h0m-4 191h0m-109 -172h0m-11 11h0m40 223h0m86 -336h0m-161 185h0m146 -116h0m42 130h0m-25 40h0m-10 -187h0m-10 35h0m14 -42h0m-168 159h0m124 -137h0m26 -7h0m-88 17h0m89 -26h0m-5 10h0m75 46h0m-46 -117h0m0 143h0m-70 -64h0m89 19h0m-30 -7h0m51 53h0m-11 -58h0m-79 -3h0m78 -42h0m27 130h0m-218 13h0m73 170h0m69 -308h0m-56 36h0m75 181h0m19 -120h0m-133 -23h0m12 -22h0m120 71h0m-170 -22h0m150 -22h0m-24 145h0m4 -186h0m-58 -8h0m164 -23h0m-117 53h0m-141 109h0m119 -128h0m83 86h0m-111 -90h0m-47 49h0m145 11h0m-188 74h0m157 20h0m34 -96h0m-2 55h0m-50 -117h0m-100 54h0m160 -44h0m27 -91h0m-150 105h0m43 -7h0m16 -39h0m-106 107h0m14 -29h0m38 -46h0m97 138h0m14 -158h0m-17 143h0m20 -137h0m-18 43h0m12 -115h0m20 132h0m-17 -82h0m-56 -4h0m-39 30h0m-31 16h0m73 -31h0m-41 8h0m94 89h0m-114 -100h0m113 61h0m17 63h0m-6 -19h0m-104 -116h0m55 44h0m-24 -24h0m78 108h0m-9 -40h0m-17 0h0m24 -82h0m-29 -59h0m-79 95h0m104 38h0m-84 -56h0m86 132h0m-16 11h0m-6 -148h0m-21 194h0m-74 -211h0m-4 53h0m124 37h0m-85 -56h0m33 171h0m45 -108h0m-37 -53h0m15 2h0m-169 104h0m92 -118h0m36 202h0m42 -130h0m-105 -78h0m104 70h0m-64 -105h0m66 -34h0m-55 305h0m30 -223h0m-45 -53h0m68 51h0m-19 190h0m26 -125h0m2 -3h0m-14 77h0m-95 -143h0m42 249h0m85 -204h0m-107 -94h0m80 221h0m2 -108h0m-96 -36h0m-17 1h0m113 47h0m-63 164h0m79 -199h0m-16 126h0m-41 -180h0m-118 96h0m226 -2h0m-60 48h0m-25 -170h0m-1 21h0m-141 112h0m162 -7h0m-101 -91h0m12 270h0m75 -278h0m-71 278h0m1 -255h0m23 -27h0m54 76h0m-24 142h0m1 -195h0m24 113h0m-60 -200h0m90 154h0m-74 -100h0m59 140h0m-39 83h0m-8 4h0m28 -178h0m15 29h0m-98 -44h0m91 12h0m85 -16h0m-110 -9h0m-59 265h0m95 -294h0m-1 113h0m-89 -87h0m-19 32h0m91 127h0m16 -169h0m-14 47h0m14 68h0m-15 108h0m3 -234h0m-15 201h0m-4 -252h0m30 243h0m-7 -14h0m9 -28h0m-26 46h0m-130 -90h0m148 47h0m-9 -123h0m2 118h0m-15 44h0m-45 -166h0m92 88h0m-150 -82h0m133 21h0m-42 -7h0m-16 209h0m48 -89h0m-10 28h0m12 -104h0m61 -155h0m-64 214h0m-13 -138h0m10 183h0m-15 -210h0m-95 75h0m22 -3h0m-32 -13h0m115 18h0m-124 -9h0m158 80h0m-68 126h0m52 -105h0m-25 78h0m-86 -173h0m9 -39h0m67 -9h0m-25 -40h0m-93 143h0m164 -72h0m-2 168h0m-143 -168h0m-21 50h0m153 -45h0m-21 -28h0m43 117h0m-17 -49h0m-51 -79h0m56 66h0m-50 -30h0m40 60h0m-31 110h0m-30 -178h0m22 176h0m25 -215h0m-106 50h0m-17 30h0m92 -66h0m-129 77h0m105 -138h0m38 -3h0m30 174h0m-84 -100h0m87 93h0m-118 -74h0m115 0h0m11 24h0m-165 45h0m109 126h0m13 -24h0m22 -49h0m-10 -116h0m-9 -34h0m-107 54h0m95 -100h0m21 64h0m-133 66h0m67 -64h0m98 123h0" stroke="#ff0000" stroke-width="4.2" stroke-linecap="round"/>
<line x1="1274.5" y1="1592.4" x2="1274.5" y2="2456" stroke="#777" stroke-width="1.9" stroke-dasharray="10 11"/>
<line x1="1044.3" y1="2122.9" x2="1683.7" y2="2122.9" stroke="#777" stroke-width="1.9" stroke-dasharray="10 11"/>
<text x="1283" y="1632.9" font-size="21.8" fill="#8a8a8a">FDR 10%</text>
<line x1="1044.3" y1="2456" x2="1611" y2="1636.2" stroke="#000" stroke-width="2.4" stroke-dasharray="12 7"/>
<line x1="1044.3" y1="1592.4" x2="1044.3" y2="2456.9" stroke="#111" stroke-width="1.8"/>
<line x1="1043.4" y1="2456" x2="1879.3" y2="2456" stroke="#111" stroke-width="1.8"/>
<line x1="1044.3" y1="2456" x2="1052.3" y2="2456" stroke="#111" stroke-width="1.5"/>
<text x="1035" y="2464.4" font-size="23" fill="#111" text-anchor="end">0</text>
<line x1="1044.3" y1="2283.4" x2="1052.3" y2="2283.4" stroke="#111" stroke-width="1.5"/>
<text x="1035" y="2291.8" font-size="23" fill="#111" text-anchor="end">2</text>
<line x1="1044.3" y1="2110.8" x2="1052.3" y2="2110.8" stroke="#111" stroke-width="1.5"/>
<text x="1035" y="2119.2" font-size="23" fill="#111" text-anchor="end">4</text>
<line x1="1044.3" y1="1938.2" x2="1052.3" y2="1938.2" stroke="#111" stroke-width="1.5"/>
<text x="1035" y="1946.6" font-size="23" fill="#111" text-anchor="end">6</text>
<line x1="1044.3" y1="1765.6" x2="1052.3" y2="1765.6" stroke="#111" stroke-width="1.5"/>
<text x="1035" y="1774" font-size="23" fill="#111" text-anchor="end">8</text>
<line x1="1044.3" y1="1593" x2="1052.3" y2="1593" stroke="#111" stroke-width="1.5"/>
<text x="1035" y="1601.4" font-size="23" fill="#111" text-anchor="end">10</text>
<line x1="1044.3" y1="2456" x2="1044.3" y2="2448" stroke="#111" stroke-width="1.5"/>
<text x="1044.3" y="2482.5" font-size="23" fill="#111" text-anchor="middle">0</text>
<line x1="1163.6" y1="2456" x2="1163.6" y2="2448" stroke="#111" stroke-width="1.5"/>
<text x="1163.6" y="2482.5" font-size="23" fill="#111" text-anchor="middle">2</text>
<line x1="1282.9" y1="2456" x2="1282.9" y2="2448" stroke="#111" stroke-width="1.5"/>
<text x="1282.9" y="2482.5" font-size="23" fill="#111" text-anchor="middle">4</text>
<line x1="1402.2" y1="2456" x2="1402.2" y2="2448" stroke="#111" stroke-width="1.5"/>
<text x="1402.2" y="2482.5" font-size="23" fill="#111" text-anchor="middle">6</text>
<line x1="1521.5" y1="2456" x2="1521.5" y2="2448" stroke="#111" stroke-width="1.5"/>
<text x="1521.5" y="2482.5" font-size="23" fill="#111" text-anchor="middle">8</text>
<line x1="1640.8" y1="2456" x2="1640.8" y2="2448" stroke="#111" stroke-width="1.5"/>
<text x="1640.8" y="2482.5" font-size="23" fill="#111" text-anchor="middle">10</text>
<line x1="1760.1" y1="2456" x2="1760.1" y2="2448" stroke="#111" stroke-width="1.5"/>
<text x="1760.1" y="2482.5" font-size="23" fill="#111" text-anchor="middle">12</text>
<line x1="1879.4" y1="2456" x2="1879.4" y2="2448" stroke="#111" stroke-width="1.5"/>
<text x="1879.4" y="2482.5" font-size="23" fill="#111" text-anchor="middle">14</text>
<circle cx="1719.7" cy="1791.6" r="2.3" fill="#8000ff"/>
<text x="1749.6" y="1794.9" font-size="16.2" fill="#111">Signature.1</text>
<circle cx="1719.7" cy="1817.2" r="2.3" fill="#6c1fff"/>
<text x="1749.6" y="1820.5" font-size="16.2" fill="#111">Signature.2</text>
<circle cx="1719.7" cy="1842.7" r="2.3" fill="#583efd"/>
<text x="1749.6" y="1846" font-size="16.2" fill="#111">Signature.3</text>
<circle cx="1719.7" cy="1868.3" r="2.3" fill="#445cfb"/>
<text x="1749.6" y="1871.6" font-size="16.2" fill="#111">Signature.4</text>
<circle cx="1719.7" cy="1893.8" r="2.3" fill="#3079f7"/>
<text x="1749.6" y="1897.1" font-size="16.2" fill="#111">Signature.5</text>
<circle cx="1719.7" cy="1919.4" r="2.3" fill="#1996f3"/>
<text x="1749.6" y="1922.7" font-size="16.2" fill="#111">Signature.6</text>
<circle cx="1719.7" cy="1945" r="2.3" fill="#06aeed"/>
<text x="1749.6" y="1948.3" font-size="16.2" fill="#111">Signature.7a</text>
<circle cx="1719.7" cy="1970.5" r="2.3" fill="#0fc4e7"/>
<text x="1749.6" y="1973.8" font-size="16.2" fill="#111">Signature.7b</text>
<circle cx="1719.7" cy="1996.1" r="2.3" fill="#22d6e0"/>
<text x="1749.6" y="1999.4" font-size="16.2" fill="#111">Signature.7c</text>
<circle cx="1719.7" cy="2021.6" r="2.3" fill="#38e7d7"/>
<text x="1749.6" y="2024.9" font-size="16.2" fill="#111">Signature.7d</text>
<circle cx="1719.7" cy="2047.2" r="2.3" fill="#4df3ce"/>
<text x="1749.6" y="2050.5" font-size="16.2" fill="#111">Signature.8</text>
<circle cx="1719.7" cy="2072.8" r="2.3" fill="#60fac5"/>
<text x="1749.6" y="2076.1" font-size="16.2" fill="#111">Signature.9</text>
<circle cx="1719.7" cy="2098.3" r="2.3" fill="#74feba"/>
<text x="1749.6" y="2101.6" font-size="16.2" fill="#111">Signature.12</text>
<circle cx="1719.7" cy="2123.9" r="2.3" fill="#8bfeae"/>
<text x="1749.6" y="2127.2" font-size="16.2" fill="#111">Signature.13</text>
<circle cx="1719.7" cy="2149.4" r="2.3" fill="#9efaa2"/>
<text x="1749.6" y="2152.7" font-size="16.2" fill="#111">Signature.15</text>
<circle cx="1719.7" cy="2175" r="2.3" fill="#b2f396"/>
<text x="1749.6" y="2178.3" font-size="16.2" fill="#111">Signature.17a</text>
<circle cx="1719.7" cy="2200.6" r="2.3" fill="#c6e789"/>
<text x="1749.6" y="2203.9" font-size="16.2" fill="#111">Signature.17b</text>
<circle cx="1719.7" cy="2226.1" r="2.3" fill="#dcd67a"/>
<text x="1749.6" y="2229.4" font-size="16.2" fill="#111">Signature.18</text>
<circle cx="1719.7" cy="2251.7" r="2.3" fill="#f0c46c"/>
<text x="1749.6" y="2255" font-size="16.2" fill="#111">Signature.19</text>
<circle cx="1719.7" cy="2277.2" r="2.3" fill="#ffae5e"/>
<text x="1749.6" y="2280.5" font-size="16.2" fill="#111">Signature.21</text>
<circle cx="1719.7" cy="2302.8" r="2.3" fill="#ff964f"/>
<text x="1749.6" y="2306.1" font-size="16.2" fill="#111">Signature.26</text>
<circle cx="1719.7" cy="2328.4" r="2.3" fill="#ff793e"/>
<text x="1749.6" y="2331.7" font-size="16.2" fill="#111">Signature.28</text>
<circle cx="1719.7" cy="2353.9" r="2.3" fill="#ff5c2f"/>
<text x="1749.6" y="2357.2" font-size="16.2" fill="#111">Signature.34</text>
<circle cx="1719.7" cy="2379.5" r="2.3" fill="#ff3e1f"/>
<text x="1749.6" y="2382.8" font-size="16.2" fill="#111">Signature.38</text>
<circle cx="1719.7" cy="2405" r="2.3" fill="#ff1f10"/>
<text x="1749.6" y="2408.3" font-size="16.2" fill="#111">Signature.39</text>
<circle cx="1719.7" cy="2430.6" r="2.3" fill="#ff0000"/>
<text x="1749.6" y="2433.9" font-size="16.2" fill="#111">Signature.40</text>
<text x="1461.5" y="2515" font-size="22.3" fill="#111" text-anchor="middle">-log10(p) of signature-gene pairs</text>
<text x="990" y="2025.8" font-size="22.4" fill="#111" text-anchor="middle" transform="rotate(-90 990 2025.8)">-log10(p) of signature-gene pairs in just European samples</text></svg></body></html>
